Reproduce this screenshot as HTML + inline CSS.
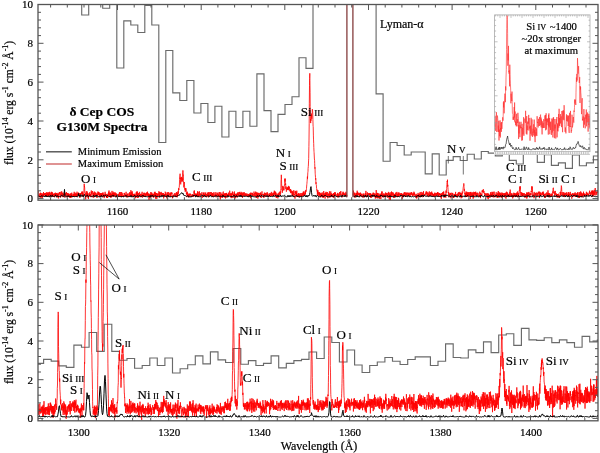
<!DOCTYPE html>
<html><head><meta charset="utf-8"><style>
html,body{margin:0;padding:0;background:#fff;}
svg{display:block;will-change:transform;}
text{font-family:"Liberation Serif",serif;fill:#000;stroke:#000;stroke-width:0.2px;}
</style></head><body>
<svg width="600" height="453" viewBox="0 0 600 453">
<defs>
<clipPath id="ct"><rect x="38" y="4.5" width="560" height="195.7"/></clipPath>
<clipPath id="cb"><rect x="38" y="225" width="560" height="195.8"/></clipPath>
<clipPath id="ci"><rect x="494.6" y="14.9" width="95.4" height="136.8"/></clipPath>
</defs>
<g clip-path="url(#ct)" fill="none">
<path d="M38 -20 L81.7 -20 L81.7 15 L88.7 15 L88.7 -20 L102.7 -20 L102.7 8.2 L109.7 8.2 L109.7 -20 L116.8 -20 L116.8 68 L123.8 68 L123.8 20.8 L130.8 20.8 L130.8 25 L137.8 25 L137.8 32.5 L144.8 32.5 L144.8 5.5 L151.8 5.5 L151.8 25 L158.8 25 L158.8 142.5 L165.8 142.5 L165.8 50.5 L172.8 50.5 L172.8 92.8 L179.8 92.8 L179.8 100.5 L186.8 100.5 L186.8 80.5 L193.9 80.5 L193.9 113 L200.9 113 L200.9 103.5 L207.9 103.5 L207.9 122.5 L214.9 122.5 L214.9 106.2 L221.9 106.2 L221.9 137 L228.9 137 L228.9 111.2 L235.9 111.2 L235.9 127.5 L242.9 127.5 L242.9 111.2 L249.9 111.2 L249.9 126.2 L256.9 126.2 L256.9 73.8 L264 73.8 L264 110.6 L271 110.6 L271 131.6 L278 131.6 L278 114.4 L285 114.4 L285 104.5 L292 104.5 L292 96.7 L299 96.7 L299 57.7 L306 57.7 L306 68.3 L313 68.3 L313 -20 L376.1 -20 L376.1 93.8 L383.1 93.8 L383.1 161.2 L390.1 161.2 L390.1 142.5 L397.1 142.5 L397.1 145.5 L404.2 145.5 L404.2 155 L411.2 155 L411.2 152 L425.2 152 L425.2 173.8 L432.2 173.8 L432.2 153.8 L439.2 153.8 L439.2 175 L446.2 175 L446.2 160.3 L453.2 160.3 L453.2 156.6 L460.2 156.6 L460.2 160.5 L467.2 160.5 L467.2 154.2 L474.3 154.2 L474.3 159 L481.3 159 L481.3 151.5 L488.3 151.5 L488.3 153.1 L495.3 153.1 L495.3 155.8 L502.3 155.8 L502.3 154.5 L509.3 154.5 L509.3 160.4 L516.3 160.4 L516.3 164 L523.3 164 L523.3 154.3 L530.3 154.3 L530.3 154.5 L537.3 154.5 L537.3 162.4 L544.4 162.4 L544.4 154.7 L551.4 154.7 L551.4 165.3 L558.4 165.3 L558.4 162.9 L565.4 162.9 L565.4 168.4 L572.4 168.4 L572.4 155 L579.4 155 L579.4 165.7 L586.4 165.7 L586.4 162.9 L593.4 162.9 L593.4 156 L598 156" stroke="#6a6a6a" stroke-width="1.15"/>
<path d="M38.0 193.3 L38.1 190.8 L38.3 195.1 L38.4 196.0 L38.6 196.4 L38.7 195.0 L38.9 194.4 L39.0 197.4 L39.2 195.4 L39.3 195.5 L39.5 196.4 L39.6 196.1 L39.8 196.8 L39.9 193.3 L40.1 194.8 L40.2 195.0 L40.4 192.8 L40.5 192.7 L40.7 194.4 L40.8 197.8 L41.0 193.0 L41.1 194.3 L41.3 194.3 L41.4 195.3 L41.6 196.9 L41.7 197.4 L41.9 194.4 L42.0 193.3 L42.2 196.1 L42.3 197.9 L42.5 196.0 L42.6 193.8 L42.8 195.5 L42.9 194.9 L43.1 195.9 L43.2 194.0 L43.4 194.5 L43.5 192.0 L43.7 196.2 L43.8 194.2 L44.0 195.8 L44.1 196.0 L44.3 193.2 L44.4 193.0 L44.6 195.0 L44.7 194.0 L44.9 194.0 L45.0 194.4 L45.2 193.3 L45.3 195.1 L45.5 192.9 L45.6 194.2 L45.8 193.9 L45.9 194.7 L46.1 196.0 L46.2 195.2 L46.4 196.3 L46.5 192.3 L46.7 193.0 L46.8 196.3 L47.0 194.4 L47.1 195.4 L47.3 192.7 L47.4 195.8 L47.6 196.8 L47.7 193.0 L47.9 192.5 L48.0 195.3 L48.2 192.8 L48.3 195.6 L48.5 193.7 L48.6 195.8 L48.8 195.3 L48.9 192.3 L49.1 193.9 L49.2 194.3 L49.4 193.9 L49.5 194.9 L49.7 191.8 L49.8 195.3 L50.0 195.2 L50.1 192.8 L50.3 197.0 L50.4 195.4 L50.6 196.2 L50.7 195.0 L50.9 193.6 L51.0 194.3 L51.2 193.2 L51.3 192.2 L51.5 196.1 L51.6 191.8 L51.8 193.2 L51.9 194.7 L52.1 193.5 L52.2 195.4 L52.4 192.3 L52.5 197.0 L52.7 196.0 L52.8 195.6 L53.0 193.8 L53.1 194.0 L53.3 195.2 L53.4 194.3 L53.6 193.7 L53.7 195.5 L53.9 194.1 L54.0 196.3 L54.2 195.2 L54.3 193.6 L54.5 197.2 L54.6 196.4 L54.8 195.4 L54.9 193.0 L55.1 193.0 L55.2 194.4 L55.4 192.7 L55.5 193.7 L55.7 195.4 L55.8 194.9 L56.0 196.4 L56.1 193.5 L56.3 195.7 L56.4 194.8 L56.6 193.0 L56.7 195.2 L56.9 195.0 L57.0 197.4 L57.2 192.9 L57.3 196.0 L57.5 194.2 L57.6 195.7 L57.8 196.8 L57.9 196.5 L58.1 196.2 L58.2 197.3 L58.4 198.4 L58.5 193.5 L58.7 195.5 L58.8 193.6 L59.0 195.5 L59.1 194.8 L59.3 192.2 L59.4 193.8 L59.6 192.2 L59.7 193.5 L59.9 192.4 L60.0 193.9 L60.2 194.0 L60.3 197.5 L60.5 195.0 L60.6 193.7 L60.8 193.4 L60.9 191.8 L61.1 194.6 L61.2 193.5 L61.4 193.9 L61.5 193.3 L61.7 191.3 L61.8 195.1 L62.0 196.3 L62.1 193.5 L62.3 197.1 L62.4 194.8 L62.6 193.2 L62.7 193.1 L62.9 195.0 L63.0 192.4 L63.2 193.8 L63.3 195.2 L63.5 194.1 L63.6 195.4 L63.8 194.8 L63.9 195.3 L64.1 195.1 L64.2 197.1 L64.4 197.5 L64.5 195.8 L64.7 195.4 L64.8 194.9 L65.0 193.4 L65.1 195.0 L65.3 193.4 L65.4 194.5 L65.6 196.0 L65.7 194.0 L65.9 194.0 L66.0 194.2 L66.2 192.4 L66.3 193.6 L66.5 192.2 L66.6 193.6 L66.8 195.3 L66.9 197.4 L67.1 193.1 L67.2 194.9 L67.4 194.6 L67.5 193.2 L67.7 193.9 L67.8 197.0 L68.0 193.2 L68.1 195.4 L68.3 194.3 L68.4 196.5 L68.6 195.0 L68.7 193.6 L68.9 197.1 L69.0 194.8 L69.2 194.0 L69.3 193.9 L69.5 197.0 L69.6 197.4 L69.8 195.5 L69.9 195.2 L70.1 197.8 L70.2 194.1 L70.4 196.0 L70.5 197.4 L70.7 193.8 L70.9 197.8 L71.0 193.0 L71.2 197.3 L71.3 194.8 L71.5 196.7 L71.6 195.2 L71.8 192.7 L71.9 193.2 L72.1 195.7 L72.2 197.2 L72.4 197.1 L72.5 195.7 L72.7 195.6 L72.8 194.4 L73.0 196.2 L73.1 196.6 L73.3 197.0 L73.4 195.8 L73.6 193.8 L73.7 197.0 L73.9 195.2 L74.0 196.4 L74.2 191.8 L74.3 196.1 L74.5 193.9 L74.6 195.5 L74.8 194.9 L74.9 195.2 L75.1 195.7 L75.2 192.7 L75.4 196.5 L75.5 193.9 L75.7 194.4 L75.8 196.9 L76.0 193.6 L76.1 193.1 L76.3 193.5 L76.4 194.7 L76.6 196.6 L76.7 193.9 L76.9 197.1 L77.0 191.7 L77.2 194.0 L77.3 195.4 L77.5 194.6 L77.6 193.4 L77.8 194.2 L77.9 194.4 L78.1 195.1 L78.2 196.0 L78.4 194.6 L78.5 192.6 L78.7 194.2 L78.8 193.3 L79.0 195.1 L79.1 193.1 L79.3 195.1 L79.4 193.8 L79.6 196.3 L79.7 195.6 L79.9 197.9 L80.0 194.7 L80.2 196.4 L80.3 193.7 L80.5 193.0 L80.6 196.0 L80.8 194.4 L80.9 194.1 L81.1 193.5 L81.2 194.1 L81.4 192.9 L81.5 193.7 L81.7 193.5 L81.8 191.8 L82.0 194.2 L82.1 191.6 L82.3 194.3 L82.4 193.3 L82.6 195.5 L82.7 191.7 L82.9 196.8 L83.0 194.8 L83.2 193.7 L83.3 194.8 L83.5 196.1 L83.6 193.5 L83.8 192.8 L83.9 190.7 L84.1 187.0 L84.2 183.8 L84.4 187.1 L84.5 186.4 L84.7 188.0 L84.8 193.3 L85.0 193.5 L85.1 192.9 L85.3 193.2 L85.4 192.8 L85.6 196.6 L85.7 199.4 L85.9 194.5 L86.0 195.5 L86.2 194.9 L86.3 191.1 L86.5 195.8 L86.6 194.7 L86.8 193.7 L86.9 196.3 L87.1 194.9 L87.2 191.5 L87.4 195.2 L87.5 192.9 L87.7 194.0 L87.8 197.5 L88.0 195.5 L88.1 195.8 L88.3 195.7 L88.4 199.1 L88.6 195.7 L88.7 196.1 L88.9 193.3 L89.0 194.8 L89.2 194.4 L89.3 194.0 L89.5 195.7 L89.6 192.8 L89.8 192.2 L89.9 194.7 L90.1 194.0 L90.2 196.0 L90.4 194.0 L90.5 196.5 L90.7 194.3 L90.8 195.4 L91.0 197.2 L91.1 194.2 L91.3 190.5 L91.4 193.8 L91.6 192.2 L91.7 194.4 L91.9 194.6 L92.0 194.0 L92.2 193.8 L92.3 192.0 L92.5 192.0 L92.6 191.0 L92.8 194.1 L92.9 195.4 L93.1 197.5 L93.2 196.5 L93.4 193.0 L93.5 197.4 L93.7 194.1 L93.8 192.5 L94.0 194.6 L94.1 193.9 L94.3 196.6 L94.4 191.6 L94.6 192.8 L94.7 193.1 L94.9 196.4 L95.0 193.8 L95.2 194.2 L95.3 193.5 L95.5 194.2 L95.6 192.4 L95.8 192.5 L95.9 194.7 L96.1 193.6 L96.2 195.5 L96.4 194.9 L96.5 195.4 L96.7 194.3 L96.8 195.1 L97.0 198.0 L97.1 193.4 L97.3 195.6 L97.4 195.0 L97.6 195.4 L97.7 194.1 L97.9 191.5 L98.0 191.8 L98.2 194.7 L98.3 192.0 L98.5 192.1 L98.6 194.1 L98.8 194.8 L98.9 192.0 L99.1 195.4 L99.2 192.9 L99.4 196.1 L99.5 194.3 L99.7 197.3 L99.8 197.1 L100.0 194.9 L100.1 193.5 L100.3 194.2 L100.4 193.2 L100.6 196.7 L100.7 193.6 L100.9 196.9 L101.0 195.1 L101.2 193.2 L101.3 195.3 L101.5 195.9 L101.6 193.3 L101.8 195.7 L101.9 195.7 L102.1 193.8 L102.2 196.7 L102.4 195.2 L102.5 192.9 L102.7 194.7 L102.8 194.8 L103.0 192.4 L103.1 195.4 L103.3 195.8 L103.4 196.9 L103.6 196.4 L103.7 193.7 L103.9 194.6 L104.0 195.8 L104.2 198.1 L104.3 195.1 L104.5 195.6 L104.6 194.6 L104.8 194.8 L104.9 196.7 L105.1 191.8 L105.2 195.0 L105.4 195.4 L105.5 196.2 L105.7 193.7 L105.8 194.3 L106.0 195.8 L106.1 194.1 L106.3 194.8 L106.4 195.7 L106.6 195.9 L106.7 197.7 L106.9 194.2 L107.0 198.0 L107.2 196.1 L107.3 195.8 L107.5 196.4 L107.6 198.0 L107.8 194.6 L107.9 193.7 L108.1 194.7 L108.2 195.7 L108.4 195.9 L108.5 195.3 L108.7 191.8 L108.8 196.5 L109.0 190.5 L109.1 194.8 L109.3 193.5 L109.4 195.6 L109.6 196.6 L109.7 194.2 L109.9 195.0 L110.0 192.6 L110.2 197.0 L110.3 192.7 L110.5 194.8 L110.6 196.2 L110.8 194.4 L110.9 198.0 L111.1 195.1 L111.2 195.1 L111.4 194.9 L111.5 194.0 L111.7 194.7 L111.8 196.0 L112.0 190.9 L112.1 196.9 L112.3 192.9 L112.4 193.5 L112.6 195.3 L112.7 193.5 L112.9 193.7 L113.0 196.5 L113.2 191.7 L113.3 194.9 L113.5 193.3 L113.6 196.8 L113.8 193.5 L113.9 195.5 L114.1 192.7 L114.2 193.3 L114.4 195.5 L114.5 192.6 L114.7 193.3 L114.8 195.4 L115.0 196.1 L115.1 195.0 L115.3 192.5 L115.4 192.6 L115.6 193.7 L115.7 196.4 L115.9 195.2 L116.0 193.1 L116.2 196.9 L116.3 194.5 L116.5 197.1 L116.6 193.9 L116.8 195.4 L116.9 195.2 L117.1 196.8 L117.2 195.7 L117.4 198.3 L117.5 194.9 L117.7 196.2 L117.8 194.5 L118.0 196.8 L118.1 196.6 L118.3 193.8 L118.4 196.8 L118.6 194.9 L118.7 195.9 L118.9 194.4 L119.0 196.1 L119.2 197.0 L119.3 192.7 L119.5 192.4 L119.6 194.2 L119.8 192.1 L119.9 194.9 L120.1 196.7 L120.2 194.6 L120.4 194.6 L120.5 194.7 L120.7 195.3 L120.8 192.0 L121.0 196.6 L121.1 195.2 L121.3 194.5 L121.4 197.3 L121.6 196.8 L121.7 192.1 L121.9 195.6 L122.0 196.8 L122.2 195.5 L122.3 194.4 L122.5 193.5 L122.6 194.4 L122.8 196.7 L122.9 196.3 L123.1 195.9 L123.2 196.4 L123.4 196.3 L123.5 195.0 L123.7 197.0 L123.8 195.7 L124.0 194.9 L124.1 193.2 L124.3 193.8 L124.4 192.9 L124.6 195.5 L124.7 195.5 L124.9 196.2 L125.0 194.1 L125.2 194.0 L125.3 194.6 L125.5 196.7 L125.6 195.4 L125.8 195.6 L125.9 195.4 L126.1 191.8 L126.2 195.4 L126.4 196.2 L126.5 195.4 L126.7 196.2 L126.8 194.5 L127.0 195.5 L127.1 197.7 L127.3 194.5 L127.4 194.3 L127.6 195.8 L127.7 194.0 L127.9 194.8 L128.0 193.1 L128.2 193.8 L128.3 195.4 L128.5 195.6 L128.6 195.5 L128.8 197.0 L128.9 195.6 L129.1 195.3 L129.2 195.3 L129.4 196.6 L129.5 194.9 L129.7 192.5 L129.8 195.7 L130.0 192.1 L130.1 193.3 L130.3 194.8 L130.4 196.4 L130.6 194.6 L130.7 195.4 L130.9 190.2 L131.0 192.0 L131.2 194.5 L131.3 193.9 L131.5 196.4 L131.6 191.8 L131.8 194.0 L131.9 193.5 L132.1 196.4 L132.2 191.3 L132.4 193.6 L132.5 196.0 L132.7 193.7 L132.8 194.2 L133.0 197.1 L133.1 195.8 L133.3 193.9 L133.4 196.7 L133.6 195.2 L133.7 195.6 L133.9 195.0 L134.0 196.7 L134.2 195.0 L134.3 194.3 L134.5 196.0 L134.6 195.2 L134.8 193.7 L134.9 194.2 L135.1 195.4 L135.2 195.7 L135.4 196.1 L135.5 198.2 L135.7 194.8 L135.8 197.9 L136.0 193.8 L136.1 192.5 L136.3 193.0 L136.4 196.0 L136.6 191.7 L136.7 194.1 L136.9 192.5 L137.0 192.6 L137.2 196.1 L137.3 191.4 L137.5 194.8 L137.6 194.8 L137.8 198.0 L137.9 193.4 L138.1 197.7 L138.2 193.9 L138.4 193.0 L138.5 194.5 L138.7 195.2 L138.8 194.6 L139.0 196.1 L139.1 194.2 L139.3 194.1 L139.4 192.4 L139.6 191.9 L139.7 195.4 L139.9 195.4 L140.0 194.7 L140.2 195.8 L140.3 197.2 L140.5 194.1 L140.6 195.1 L140.8 195.8 L140.9 193.8 L141.1 194.0 L141.2 194.3 L141.4 193.8 L141.5 196.5 L141.7 195.1 L141.8 196.0 L142.0 195.4 L142.1 191.8 L142.3 197.7 L142.4 195.1 L142.6 195.6 L142.7 194.8 L142.9 196.1 L143.0 195.3 L143.2 194.1 L143.3 194.1 L143.5 196.7 L143.6 195.6 L143.8 192.8 L143.9 193.7 L144.1 192.9 L144.2 194.7 L144.4 196.5 L144.5 195.2 L144.7 194.8 L144.8 192.8 L145.0 195.4 L145.1 194.3 L145.3 193.6 L145.4 197.0 L145.6 195.2 L145.7 193.7 L145.9 195.2 L146.0 195.0 L146.2 196.0 L146.3 195.7 L146.5 194.7 L146.6 192.5 L146.8 195.2 L146.9 192.7 L147.1 194.4 L147.2 193.6 L147.4 195.8 L147.5 191.7 L147.7 194.5 L147.8 194.9 L148.0 194.8 L148.1 195.7 L148.3 196.4 L148.4 193.5 L148.6 196.3 L148.7 194.0 L148.9 193.5 L149.0 200.2 L149.2 195.1 L149.3 197.6 L149.5 195.3 L149.6 194.7 L149.8 194.0 L149.9 196.2 L150.1 194.4 L150.2 197.8 L150.4 197.9 L150.5 195.1 L150.7 194.5 L150.8 192.0 L151.0 197.0 L151.1 193.7 L151.3 196.7 L151.4 193.6 L151.6 195.0 L151.7 192.5 L151.9 194.8 L152.0 195.5 L152.2 194.1 L152.3 193.7 L152.5 193.7 L152.6 197.1 L152.8 195.5 L152.9 194.0 L153.1 194.5 L153.2 195.8 L153.4 195.2 L153.5 194.1 L153.7 197.6 L153.8 195.4 L154.0 194.1 L154.1 193.4 L154.3 195.2 L154.4 191.9 L154.6 196.0 L154.7 196.1 L154.9 196.1 L155.0 196.5 L155.2 191.8 L155.3 196.3 L155.5 193.1 L155.6 198.7 L155.8 194.9 L155.9 194.6 L156.1 196.1 L156.2 193.3 L156.4 193.9 L156.5 193.0 L156.7 196.5 L156.8 198.9 L157.0 195.3 L157.1 196.0 L157.3 196.9 L157.4 194.1 L157.6 196.5 L157.7 193.4 L157.9 193.2 L158.0 194.0 L158.2 193.8 L158.3 194.9 L158.5 195.4 L158.6 195.8 L158.8 195.2 L158.9 191.2 L159.1 196.2 L159.2 193.7 L159.4 197.7 L159.5 192.1 L159.7 193.0 L159.8 193.6 L160.0 192.5 L160.1 194.8 L160.3 194.2 L160.4 192.9 L160.6 192.7 L160.7 193.4 L160.9 194.3 L161.0 196.3 L161.2 191.9 L161.3 194.3 L161.5 195.1 L161.6 195.8 L161.8 194.3 L161.9 192.9 L162.1 195.5 L162.2 195.1 L162.4 194.0 L162.5 195.6 L162.7 193.2 L162.8 194.2 L163.0 193.6 L163.1 193.9 L163.3 193.0 L163.4 196.6 L163.6 194.7 L163.7 198.4 L163.9 194.0 L164.0 195.1 L164.2 195.7 L164.3 194.8 L164.5 194.2 L164.6 196.0 L164.8 196.3 L164.9 197.0 L165.1 194.7 L165.2 191.7 L165.4 191.9 L165.5 195.5 L165.7 194.1 L165.8 196.1 L166.0 193.9 L166.1 193.5 L166.3 194.1 L166.4 194.4 L166.6 194.9 L166.7 196.8 L166.9 198.4 L167.0 196.8 L167.2 192.1 L167.3 195.6 L167.5 196.3 L167.6 193.2 L167.8 194.4 L167.9 194.6 L168.1 194.7 L168.2 194.8 L168.4 192.1 L168.5 196.1 L168.7 197.0 L168.8 196.3 L169.0 197.1 L169.1 195.9 L169.3 194.0 L169.4 193.6 L169.6 193.4 L169.7 194.2 L169.9 195.5 L170.0 195.8 L170.2 192.4 L170.3 195.3 L170.5 196.8 L170.6 193.1 L170.8 193.8 L170.9 196.5 L171.1 194.7 L171.2 194.2 L171.4 192.7 L171.5 194.0 L171.7 192.4 L171.8 194.1 L172.0 192.8 L172.1 195.6 L172.3 196.9 L172.4 198.3 L172.6 195.7 L172.7 197.9 L172.9 196.4 L173.0 195.4 L173.2 195.0 L173.3 195.4 L173.5 195.3 L173.6 196.1 L173.8 195.8 L173.9 194.0 L174.1 194.0 L174.2 193.9 L174.4 194.1 L174.5 194.4 L174.7 193.2 L174.8 195.6 L175.0 196.6 L175.1 194.4 L175.3 196.0 L175.4 195.0 L175.6 196.8 L175.7 197.1 L175.9 195.3 L176.0 193.0 L176.2 197.0 L176.3 192.6 L176.5 193.5 L176.6 192.0 L176.8 192.9 L176.9 193.7 L177.1 197.3 L177.2 193.2 L177.4 192.7 L177.5 196.5 L177.7 193.3 L177.8 195.8 L178.0 194.8 L178.1 191.1 L178.3 193.7 L178.4 191.6 L178.6 188.2 L178.7 188.9 L178.9 190.1 L179.0 188.2 L179.2 187.4 L179.3 187.0 L179.5 182.0 L179.6 179.4 L179.8 176.4 L179.9 176.4 L180.1 173.7 L180.2 179.2 L180.4 177.6 L180.5 183.3 L180.7 184.3 L180.8 184.4 L181.0 179.4 L181.1 178.7 L181.3 178.9 L181.4 176.9 L181.6 180.2 L181.7 179.7 L181.9 181.3 L182.0 182.1 L182.2 177.8 L182.3 181.1 L182.5 178.6 L182.6 172.8 L182.8 170.4 L182.9 170.4 L183.1 170.5 L183.2 175.3 L183.4 174.8 L183.5 180.6 L183.7 184.1 L183.8 187.4 L184.0 186.1 L184.1 184.3 L184.3 182.0 L184.4 186.0 L184.6 186.4 L184.7 189.5 L184.9 188.5 L185.0 189.2 L185.2 191.8 L185.3 191.2 L185.5 188.1 L185.6 190.3 L185.8 190.7 L185.9 188.2 L186.1 189.6 L186.2 190.0 L186.4 194.0 L186.5 192.7 L186.7 194.4 L186.8 193.0 L187.0 195.8 L187.1 197.1 L187.3 191.7 L187.4 193.5 L187.6 192.9 L187.7 194.5 L187.9 193.4 L188.0 193.9 L188.2 196.2 L188.3 196.4 L188.5 194.6 L188.6 197.4 L188.8 194.8 L188.9 194.5 L189.1 196.1 L189.2 194.4 L189.4 194.9 L189.5 194.2 L189.7 193.6 L189.8 196.9 L190.0 193.9 L190.1 194.4 L190.3 193.7 L190.4 195.2 L190.6 195.0 L190.7 194.5 L190.9 194.3 L191.0 197.1 L191.2 196.2 L191.3 196.1 L191.5 196.6 L191.6 195.6 L191.8 195.0 L191.9 195.4 L192.1 194.7 L192.2 195.6 L192.4 194.3 L192.5 196.0 L192.7 194.5 L192.8 196.1 L193.0 196.7 L193.1 196.0 L193.3 195.3 L193.4 194.9 L193.6 197.0 L193.7 194.9 L193.9 196.0 L194.0 191.4 L194.2 193.6 L194.3 190.4 L194.5 193.6 L194.6 194.7 L194.8 193.2 L194.9 195.6 L195.1 195.0 L195.2 196.3 L195.4 195.0 L195.5 193.7 L195.7 196.0 L195.8 196.3 L196.0 194.2 L196.1 196.4 L196.3 195.0 L196.4 193.8 L196.6 195.9 L196.7 193.7 L196.9 196.3 L197.0 194.4 L197.2 194.0 L197.3 196.6 L197.5 191.3 L197.6 194.7 L197.8 194.3 L197.9 196.3 L198.1 195.8 L198.2 191.8 L198.4 197.1 L198.5 195.0 L198.7 197.1 L198.8 194.9 L199.0 195.2 L199.1 194.4 L199.3 194.5 L199.4 191.3 L199.6 196.0 L199.7 195.9 L199.9 194.1 L200.0 193.3 L200.2 193.8 L200.3 195.1 L200.5 195.7 L200.6 196.8 L200.8 193.5 L200.9 194.8 L201.1 195.3 L201.2 194.1 L201.4 195.0 L201.5 196.1 L201.7 197.1 L201.8 192.4 L202.0 192.1 L202.1 195.7 L202.3 196.1 L202.4 197.7 L202.6 195.5 L202.7 196.7 L202.9 197.0 L203.0 195.1 L203.2 193.6 L203.3 195.1 L203.5 195.4 L203.6 193.0 L203.8 195.5 L203.9 192.2 L204.1 193.5 L204.2 194.1 L204.4 194.6 L204.5 195.1 L204.7 195.0 L204.8 195.4 L205.0 193.7 L205.1 197.1 L205.3 196.0 L205.4 192.5 L205.6 194.7 L205.7 194.9 L205.9 196.2 L206.0 194.6 L206.2 196.5 L206.3 195.2 L206.5 194.7 L206.6 194.4 L206.8 195.2 L206.9 194.4 L207.1 196.2 L207.2 192.6 L207.4 194.3 L207.5 194.6 L207.7 196.3 L207.8 193.8 L208.0 192.7 L208.1 194.9 L208.3 194.7 L208.4 197.4 L208.6 195.1 L208.7 192.2 L208.9 195.3 L209.0 195.7 L209.2 192.3 L209.3 194.3 L209.5 194.9 L209.6 195.7 L209.8 195.3 L209.9 194.7 L210.1 193.3 L210.2 192.3 L210.4 192.0 L210.5 195.4 L210.7 195.8 L210.8 194.9 L211.0 195.3 L211.1 196.2 L211.3 192.0 L211.4 196.2 L211.6 194.4 L211.7 194.4 L211.9 194.5 L212.0 195.5 L212.2 192.9 L212.3 195.7 L212.5 196.5 L212.6 193.1 L212.8 197.1 L212.9 195.9 L213.1 194.3 L213.2 197.0 L213.4 195.6 L213.5 194.2 L213.7 192.3 L213.8 192.6 L214.0 192.9 L214.1 196.2 L214.3 195.8 L214.4 195.2 L214.6 194.8 L214.7 196.3 L214.9 195.9 L215.0 195.7 L215.2 192.2 L215.3 195.9 L215.5 195.0 L215.6 194.7 L215.8 195.2 L215.9 194.2 L216.1 194.7 L216.2 197.3 L216.4 194.0 L216.5 193.4 L216.7 192.8 L216.8 192.5 L217.0 193.2 L217.1 193.9 L217.3 193.9 L217.4 196.0 L217.6 194.7 L217.7 192.9 L217.9 192.8 L218.0 196.0 L218.2 194.2 L218.3 195.5 L218.5 194.9 L218.6 195.1 L218.8 196.7 L218.9 194.8 L219.1 192.2 L219.2 195.4 L219.4 195.0 L219.5 197.1 L219.7 194.6 L219.8 192.0 L220.0 192.8 L220.1 194.8 L220.3 199.5 L220.4 195.7 L220.6 195.4 L220.7 197.7 L220.9 192.5 L221.0 197.6 L221.2 195.6 L221.3 194.8 L221.5 195.2 L221.6 194.5 L221.8 194.2 L221.9 196.4 L222.1 193.7 L222.2 194.8 L222.4 194.1 L222.5 197.8 L222.7 194.3 L222.8 197.0 L223.0 192.4 L223.1 192.6 L223.3 191.6 L223.4 196.2 L223.6 195.8 L223.7 194.9 L223.9 194.1 L224.0 195.3 L224.2 193.5 L224.3 197.1 L224.5 193.6 L224.6 194.5 L224.8 195.2 L224.9 197.7 L225.1 194.1 L225.2 196.3 L225.4 193.3 L225.5 198.4 L225.7 193.3 L225.8 194.4 L226.0 195.8 L226.1 195.1 L226.3 193.5 L226.4 195.3 L226.6 192.9 L226.7 196.1 L226.9 195.5 L227.0 197.7 L227.2 194.3 L227.3 195.6 L227.5 195.0 L227.6 194.3 L227.8 194.2 L227.9 194.3 L228.1 196.7 L228.2 195.0 L228.4 192.6 L228.5 195.2 L228.7 193.4 L228.8 194.4 L229.0 195.1 L229.1 194.6 L229.3 194.8 L229.4 195.9 L229.6 194.8 L229.7 190.7 L229.9 194.5 L230.0 196.1 L230.2 193.6 L230.3 195.4 L230.5 195.4 L230.6 195.4 L230.8 193.2 L230.9 193.8 L231.1 198.1 L231.2 194.7 L231.4 193.4 L231.5 195.8 L231.7 194.6 L231.8 196.4 L232.0 198.1 L232.1 192.8 L232.3 195.1 L232.4 191.5 L232.6 193.0 L232.7 193.4 L232.9 192.3 L233.0 193.3 L233.2 194.7 L233.3 194.1 L233.5 195.7 L233.6 197.5 L233.8 193.9 L233.9 195.1 L234.1 194.7 L234.2 193.7 L234.4 191.5 L234.5 195.7 L234.7 193.1 L234.8 197.9 L235.0 194.0 L235.1 194.3 L235.3 195.0 L235.4 198.3 L235.6 194.2 L235.7 194.2 L235.9 195.6 L236.0 196.7 L236.2 197.2 L236.3 193.7 L236.5 196.2 L236.6 194.3 L236.8 194.1 L236.9 193.7 L237.1 195.9 L237.2 197.4 L237.4 194.0 L237.5 193.3 L237.7 195.4 L237.8 192.3 L238.0 195.1 L238.1 195.5 L238.3 196.3 L238.4 195.3 L238.6 193.7 L238.7 195.3 L238.9 192.1 L239.0 194.0 L239.2 193.9 L239.3 193.6 L239.5 191.9 L239.6 194.1 L239.8 196.5 L239.9 194.9 L240.1 194.5 L240.2 192.7 L240.4 192.9 L240.5 196.1 L240.7 194.8 L240.8 192.8 L241.0 194.8 L241.1 191.8 L241.3 192.1 L241.4 196.4 L241.6 193.3 L241.7 195.2 L241.9 196.7 L242.0 195.6 L242.2 194.5 L242.3 193.4 L242.5 197.8 L242.6 196.1 L242.8 192.4 L242.9 195.3 L243.1 194.1 L243.2 194.5 L243.4 194.6 L243.5 192.9 L243.7 192.9 L243.8 195.4 L244.0 196.3 L244.1 192.0 L244.3 194.4 L244.4 194.8 L244.6 196.0 L244.7 196.1 L244.9 193.5 L245.0 194.5 L245.2 193.3 L245.3 196.1 L245.5 194.1 L245.6 194.4 L245.8 193.7 L245.9 196.0 L246.1 194.7 L246.2 195.6 L246.4 193.6 L246.5 193.6 L246.7 194.3 L246.8 195.4 L247.0 195.7 L247.1 196.1 L247.3 193.7 L247.4 196.2 L247.6 195.5 L247.7 196.6 L247.9 195.8 L248.0 196.9 L248.2 194.4 L248.3 194.8 L248.5 195.6 L248.6 194.2 L248.8 195.1 L248.9 195.4 L249.1 193.9 L249.2 194.7 L249.4 194.2 L249.5 195.2 L249.7 197.1 L249.8 196.0 L250.0 193.2 L250.1 194.4 L250.3 195.8 L250.4 193.5 L250.6 198.2 L250.7 194.1 L250.9 192.5 L251.0 194.4 L251.2 194.3 L251.3 193.7 L251.5 193.1 L251.6 193.3 L251.8 195.3 L251.9 195.6 L252.1 195.4 L252.2 192.8 L252.4 195.7 L252.5 193.1 L252.7 193.9 L252.8 195.2 L253.0 194.3 L253.1 194.1 L253.3 194.9 L253.4 195.3 L253.6 196.3 L253.7 195.4 L253.9 195.5 L254.0 191.6 L254.2 195.6 L254.3 194.1 L254.5 193.2 L254.6 194.5 L254.8 196.2 L254.9 196.1 L255.1 194.9 L255.2 196.2 L255.4 193.6 L255.5 193.8 L255.7 191.6 L255.8 194.1 L256.0 192.9 L256.1 197.5 L256.3 192.2 L256.4 192.5 L256.6 197.7 L256.7 196.6 L256.9 193.6 L257.0 194.9 L257.2 195.7 L257.3 192.9 L257.5 193.6 L257.6 197.2 L257.8 192.5 L257.9 198.6 L258.1 194.8 L258.2 195.8 L258.4 193.8 L258.5 193.3 L258.7 193.9 L258.8 193.1 L259.0 196.6 L259.1 193.2 L259.3 194.3 L259.4 194.4 L259.6 194.4 L259.7 194.2 L259.9 195.0 L260.0 195.2 L260.2 192.8 L260.3 194.0 L260.5 192.6 L260.6 195.1 L260.8 195.3 L260.9 193.6 L261.1 197.5 L261.2 194.3 L261.4 195.2 L261.5 197.4 L261.7 197.5 L261.8 193.0 L262.0 191.4 L262.1 193.7 L262.3 195.1 L262.4 194.3 L262.6 194.1 L262.7 194.3 L262.9 194.8 L263.0 194.9 L263.2 194.6 L263.3 195.0 L263.5 194.8 L263.6 196.6 L263.8 193.9 L263.9 197.8 L264.1 196.2 L264.2 195.0 L264.4 192.6 L264.5 194.4 L264.7 196.2 L264.8 195.4 L265.0 195.7 L265.1 193.2 L265.3 194.7 L265.4 193.3 L265.6 196.3 L265.7 195.7 L265.9 195.9 L266.0 196.7 L266.2 195.0 L266.3 192.6 L266.5 193.3 L266.6 194.8 L266.8 194.8 L266.9 194.4 L267.1 195.3 L267.2 195.1 L267.4 192.3 L267.5 192.7 L267.7 195.1 L267.8 195.9 L268.0 193.6 L268.1 193.7 L268.3 195.2 L268.4 196.2 L268.6 195.9 L268.7 196.6 L268.9 195.7 L269.0 195.6 L269.2 196.1 L269.3 194.8 L269.5 195.4 L269.6 194.6 L269.8 196.6 L269.9 193.0 L270.1 196.6 L270.2 193.5 L270.4 194.1 L270.5 193.8 L270.7 193.9 L270.8 193.9 L271.0 195.6 L271.1 194.1 L271.3 192.3 L271.4 191.9 L271.6 195.8 L271.7 194.8 L271.9 196.0 L272.0 194.4 L272.2 195.8 L272.3 194.7 L272.5 193.5 L272.6 195.5 L272.8 195.6 L272.9 195.3 L273.1 192.6 L273.2 195.4 L273.4 195.7 L273.5 196.2 L273.7 192.9 L273.8 193.8 L274.0 195.7 L274.1 194.2 L274.3 190.7 L274.4 193.8 L274.6 193.3 L274.7 191.5 L274.9 194.7 L275.0 193.7 L275.2 194.6 L275.3 192.4 L275.5 191.7 L275.6 196.0 L275.8 196.9 L275.9 192.5 L276.1 195.0 L276.2 197.6 L276.4 196.3 L276.5 197.6 L276.7 195.7 L276.8 195.8 L277.0 193.5 L277.1 194.7 L277.3 195.0 L277.4 194.6 L277.6 195.9 L277.7 195.8 L277.9 198.4 L278.0 195.7 L278.2 194.4 L278.3 195.7 L278.5 195.5 L278.6 196.0 L278.8 192.8 L278.9 195.1 L279.1 193.2 L279.2 193.4 L279.4 192.1 L279.5 192.4 L279.7 194.4 L279.8 193.9 L280.0 195.5 L280.1 191.3 L280.3 193.4 L280.4 194.4 L280.6 193.7 L280.7 190.3 L280.9 188.6 L281.0 180.3 L281.2 179.2 L281.3 174.8 L281.5 179.2 L281.6 183.1 L281.8 187.7 L281.9 189.6 L282.1 188.8 L282.2 192.3 L282.4 192.8 L282.5 190.0 L282.7 191.0 L282.8 185.9 L283.0 188.7 L283.1 186.6 L283.3 188.1 L283.4 188.2 L283.6 189.8 L283.7 188.8 L283.9 190.4 L284.0 189.7 L284.2 189.2 L284.3 186.5 L284.5 185.0 L284.6 183.4 L284.8 178.7 L284.9 181.4 L285.1 181.2 L285.2 178.6 L285.4 182.6 L285.5 184.8 L285.7 183.7 L285.8 188.9 L286.0 186.5 L286.1 188.2 L286.3 191.5 L286.4 191.7 L286.6 190.3 L286.7 188.6 L286.9 189.4 L287.0 189.6 L287.2 187.2 L287.3 189.4 L287.5 187.9 L287.6 188.0 L287.8 190.0 L287.9 188.9 L288.1 187.2 L288.2 190.2 L288.4 185.9 L288.5 188.4 L288.7 187.9 L288.8 189.6 L289.0 189.6 L289.1 188.8 L289.3 187.9 L289.4 186.6 L289.6 189.4 L289.7 190.0 L289.9 191.2 L290.0 189.3 L290.2 191.3 L290.3 192.0 L290.5 192.6 L290.6 189.0 L290.8 190.2 L290.9 193.2 L291.1 190.3 L291.2 190.9 L291.4 192.6 L291.5 191.8 L291.7 192.0 L291.8 191.5 L292.0 193.5 L292.1 195.5 L292.3 190.9 L292.4 194.2 L292.6 192.2 L292.7 195.3 L292.9 194.5 L293.0 192.5 L293.2 192.6 L293.3 196.7 L293.5 194.5 L293.6 192.7 L293.8 190.2 L293.9 192.5 L294.1 191.6 L294.2 193.9 L294.4 195.0 L294.5 194.3 L294.7 195.5 L294.8 196.6 L295.0 198.6 L295.1 194.0 L295.3 192.9 L295.4 191.5 L295.6 193.8 L295.7 190.9 L295.9 193.1 L296.0 193.4 L296.2 195.4 L296.3 192.3 L296.5 195.6 L296.6 196.9 L296.8 190.7 L296.9 195.4 L297.1 196.7 L297.2 194.5 L297.4 194.9 L297.5 194.5 L297.7 196.9 L297.8 196.6 L298.0 195.3 L298.1 195.1 L298.3 194.8 L298.4 193.0 L298.6 196.2 L298.7 194.9 L298.9 196.0 L299.0 194.3 L299.2 197.6 L299.3 194.3 L299.5 194.8 L299.6 196.6 L299.8 195.4 L299.9 193.2 L300.1 194.4 L300.2 194.7 L300.4 196.7 L300.5 195.0 L300.7 194.5 L300.8 193.3 L301.0 194.5 L301.1 194.5 L301.3 196.6 L301.4 195.1 L301.6 197.3 L301.7 195.0 L301.9 193.0 L302.0 194.6 L302.2 194.9 L302.3 196.3 L302.4 193.4 L302.6 194.7 L302.7 193.9 L302.9 194.9 L303.0 195.7 L303.2 191.8 L303.3 195.9 L303.5 193.2 L303.6 193.9 L303.8 191.4 L303.9 194.8 L304.1 195.6 L304.2 195.1 L304.4 193.9 L304.5 195.2 L304.7 194.9 L304.8 192.4 L305.0 192.5 L305.1 194.6 L305.3 190.8 L305.4 194.2 L305.6 192.2 L305.7 190.8 L305.9 190.1 L306.0 191.7 L306.2 190.0 L306.3 189.9 L306.5 188.4 L306.6 187.0 L306.8 184.4 L306.9 183.7 L307.1 181.3 L307.2 180.4 L307.4 176.6 L307.5 178.7 L307.7 175.0 L307.8 172.7 L308.0 171.3 L308.1 168.4 L308.3 166.5 L308.4 165.0 L308.6 160.1 L308.7 158.4 L308.9 146.7 L309.0 140.1 L309.2 123.8 L309.3 103.7 L309.5 85.4 L309.6 78.4 L309.8 73.3 L309.9 80.7 L310.1 92.2 L310.2 106.5 L310.4 118.1 L310.5 120.9 L310.7 123.1 L310.8 119.0 L311.0 120.7 L311.1 117.4 L311.3 116.4 L311.4 116.6 L311.6 113.7 L311.7 118.8 L311.9 114.7 L312.0 113.1 L312.2 112.5 L312.3 109.2 L312.5 109.8 L312.6 111.2 L312.8 114.2 L312.9 119.4 L313.1 126.3 L313.2 126.4 L313.4 135.1 L313.5 139.1 L313.7 143.7 L313.8 147.4 L314.0 151.5 L314.1 152.7 L314.3 157.0 L314.4 159.0 L314.6 160.3 L314.7 163.7 L314.9 168.5 L315.0 167.4 L315.2 173.2 L315.3 174.8 L315.5 177.4 L315.6 179.6 L315.8 178.4 L315.9 183.7 L316.1 182.4 L316.2 184.9 L316.4 185.1 L316.5 188.1 L316.7 188.7 L316.8 190.3 L317.0 189.7 L317.1 192.1 L317.3 192.2 L317.4 195.0 L317.6 190.6 L317.7 193.6 L317.9 190.2 L318.0 191.7 L318.2 194.0 L318.3 193.0 L318.5 192.4 L318.6 193.7 L318.8 196.6 L318.9 193.5 L319.1 192.7 L319.2 192.9 L319.4 193.5 L319.5 195.3 L319.7 192.2 L319.8 196.2 L320.0 193.1 L320.1 194.1 L320.3 193.6 L320.4 193.4 L320.6 196.9 L320.7 196.8 L320.9 193.9 L321.0 197.2 L321.2 194.5 L321.3 193.9 L321.5 196.3 L321.6 193.7 L321.8 192.7 L321.9 196.5 L322.1 197.0 L322.2 195.4 L322.4 196.2 L322.5 195.1 L322.7 195.9 L322.8 192.5 L323.0 198.0 L323.1 193.9 L323.3 193.8 L323.4 197.3 L323.6 194.3 L323.7 191.1 L323.9 192.8 L324.0 194.7 L324.2 194.8 L324.3 194.5 L324.5 196.7 L324.6 194.8 L324.8 193.3 L324.9 195.2 L325.1 198.6 L325.2 193.5 L325.4 193.5 L325.5 195.8 L325.7 192.8 L325.8 195.4 L326.0 191.8 L326.1 195.1 L326.3 196.7 L326.4 192.8 L326.6 193.0 L326.7 192.8 L326.9 195.3 L327.0 195.4 L327.2 193.7 L327.3 192.0 L327.5 195.3 L327.6 195.0 L327.8 198.3 L327.9 195.4 L328.1 195.4 L328.2 193.9 L328.4 194.3 L328.5 195.3 L328.7 193.4 L328.8 195.8 L329.0 194.1 L329.1 196.8 L329.3 194.7 L329.4 191.3 L329.6 195.8 L329.7 196.3 L329.9 197.7 L330.0 193.8 L330.2 193.8 L330.3 194.2 L330.5 196.2 L330.6 194.1 L330.8 191.4 L330.9 196.4 L331.1 194.4 L331.2 195.7 L331.4 193.3 L331.5 195.9 L331.7 196.8 L331.8 194.9 L332.0 194.1 L332.1 196.3 L332.3 193.9 L332.4 194.2 L332.6 194.5 L332.7 197.2 L332.9 194.9 L333.0 193.9 L333.2 195.4 L333.3 195.1 L333.5 193.0 L333.6 196.5 L333.8 196.4 L333.9 198.0 L334.1 195.7 L334.2 195.7 L334.4 195.8 L334.5 192.3 L334.7 194.0 L334.8 196.1 L335.0 194.0 L335.1 195.8 L335.3 192.2 L335.4 194.8 L335.6 193.4 L335.7 194.1 L335.9 194.4 L336.0 194.6 L336.2 195.4 L336.3 195.8 L336.5 196.0 L336.6 196.8 L336.8 196.6 L336.9 194.3 L337.1 194.3 L337.2 195.5 L337.4 196.4 L337.5 192.9 L337.7 193.9 L337.8 197.3 L338.0 195.6 L338.1 195.6 L338.3 193.5 L338.4 194.0 L338.6 197.4 L338.7 195.0 L338.9 195.2 L339.0 195.8 L339.2 196.0 L339.3 194.7 L339.5 192.0 L339.6 194.3 L339.8 195.3 L339.9 194.1 L340.1 193.9 L340.2 195.4 L340.4 195.0 L340.5 192.4 L340.7 193.4 L340.8 191.0 L341.0 193.8 L341.1 193.9 L341.3 194.0 L341.4 195.1 L341.6 195.5 L341.7 195.3 L341.9 195.0 L342.0 197.4 L342.2 193.6 L342.3 194.5 L342.5 195.1 L342.6 196.7 L342.8 192.7 L342.9 193.5 L343.1 191.7 L343.2 194.7 L343.4 192.9 L343.5 193.0 L343.7 195.1 L343.8 192.6 L344.0 194.5 L344.1 194.6 L344.3 193.6 L344.4 195.6 L344.6 195.3 L344.7 195.0 L344.9 193.7 L345.0 195.0 L345.2 194.9 L345.3 196.0 L345.5 194.9 L345.6 193.6 L345.8 195.8 L345.9 191.8 L346.1 196.5 L346.2 193.4 L346.4 194.3 L346.5 195.4 L346.7 195.4 L346.8 196.2 L347.0 194.9M353.1 193.5 L353.3 195.3 L353.4 190.6 L353.6 192.2 L353.7 193.3 L353.9 193.8 L354.0 193.6 L354.2 192.6 L354.3 196.5 L354.5 196.8 L354.6 193.1 L354.8 195.2 L354.9 196.0 L355.1 195.7 L355.2 197.7 L355.4 194.7 L355.5 194.5 L355.7 194.8 L355.8 195.3 L356.0 192.8 L356.1 195.0 L356.3 195.6 L356.4 193.0 L356.6 195.1 L356.7 193.0 L356.9 196.2 L357.0 193.8 L357.2 190.7 L357.3 194.6 L357.5 192.2 L357.6 193.3 L357.8 195.3 L357.9 193.2 L358.1 195.1 L358.2 195.3 L358.4 192.7 L358.5 193.2 L358.7 194.2 L358.8 193.9 L359.0 193.8 L359.1 194.9 L359.3 193.7 L359.4 195.7 L359.6 197.0 L359.7 193.1 L359.9 196.3 L360.0 196.2 L360.2 192.6 L360.3 193.5 L360.5 196.2 L360.6 192.9 L360.8 193.6 L360.9 193.3 L361.1 193.8 L361.2 195.9 L361.4 195.9 L361.5 194.0 L361.7 195.7 L361.8 196.0 L362.0 197.1 L362.1 195.3 L362.3 195.4 L362.4 194.5 L362.6 195.1 L362.7 196.1 L362.9 196.3 L363.0 197.3 L363.2 193.4 L363.3 196.1 L363.5 196.3 L363.6 195.4 L363.8 197.6 L363.9 193.9 L364.1 197.0 L364.2 195.9 L364.4 195.7 L364.5 195.8 L364.7 196.3 L364.8 196.3 L365.0 196.6 L365.1 193.6 L365.3 194.3 L365.4 193.1 L365.6 193.6 L365.7 196.6 L365.9 190.9 L366.0 193.1 L366.2 192.9 L366.3 195.0 L366.5 197.0 L366.6 195.3 L366.8 194.9 L366.9 194.9 L367.1 197.1 L367.2 196.3 L367.4 195.9 L367.5 192.4 L367.7 197.0 L367.8 195.7 L368.0 195.8 L368.1 195.0 L368.3 196.2 L368.4 193.3 L368.6 196.3 L368.7 194.6 L368.9 194.6 L369.0 193.4 L369.2 196.9 L369.3 193.7 L369.5 195.0 L369.6 193.9 L369.8 193.0 L369.9 193.0 L370.1 195.5 L370.2 193.6 L370.4 197.1 L370.5 195.2 L370.7 193.3 L370.8 197.9 L371.0 194.1 L371.1 195.3 L371.3 196.1 L371.4 196.1 L371.6 197.6 L371.7 196.5 L371.9 195.1 L372.0 193.9 L372.2 194.3 L372.3 194.2 L372.5 194.0 L372.6 193.8 L372.8 196.4 L372.9 193.6 L373.1 195.3 L373.2 192.6 L373.4 193.7 L373.5 193.6 L373.7 192.9 L373.8 194.3 L374.0 194.3 L374.1 196.7 L374.3 194.9 L374.4 195.8 L374.6 195.1 L374.7 196.5 L374.9 193.1 L375.0 194.9 L375.2 195.0 L375.3 198.6 L375.5 196.0 L375.6 195.1 L375.8 194.1 L375.9 197.2 L376.1 198.2 L376.2 190.1 L376.4 193.8 L376.5 196.5 L376.7 197.5 L376.8 193.5 L377.0 194.5 L377.1 194.2 L377.3 192.9 L377.4 198.1 L377.6 193.1 L377.7 194.6 L377.9 195.5 L378.0 198.5 L378.2 195.1 L378.3 196.7 L378.5 196.8 L378.6 195.8 L378.8 193.2 L378.9 197.2 L379.1 196.2 L379.2 195.7 L379.4 196.3 L379.5 194.8 L379.7 195.5 L379.8 199.0 L380.0 194.3 L380.1 195.3 L380.3 196.0 L380.4 196.6 L380.6 194.3 L380.7 196.4 L380.9 199.0 L381.0 194.7 L381.2 193.0 L381.3 193.8 L381.5 195.6 L381.6 194.2 L381.8 191.5 L381.9 196.2 L382.1 191.6 L382.2 194.8 L382.4 196.7 L382.5 194.9 L382.7 195.4 L382.8 196.0 L383.0 194.1 L383.1 197.5 L383.3 195.9 L383.4 194.9 L383.6 197.1 L383.7 194.8 L383.9 193.2 L384.0 197.1 L384.2 194.7 L384.3 194.2 L384.5 194.2 L384.6 196.4 L384.8 195.9 L384.9 195.8 L385.1 196.3 L385.2 196.4 L385.4 196.3 L385.5 192.5 L385.7 192.9 L385.8 197.2 L386.0 193.7 L386.1 195.0 L386.3 192.9 L386.4 194.6 L386.6 195.0 L386.7 194.8 L386.9 193.5 L387.0 196.3 L387.2 193.1 L387.3 196.4 L387.5 197.6 L387.6 196.7 L387.8 197.0 L387.9 196.7 L388.1 197.1 L388.2 196.2 L388.4 191.9 L388.5 194.7 L388.7 193.9 L388.8 193.3 L389.0 197.4 L389.1 195.5 L389.3 199.8 L389.4 193.5 L389.6 194.6 L389.7 195.1 L389.9 193.2 L390.0 192.4 L390.2 195.3 L390.3 196.1 L390.5 200.4 L390.6 193.8 L390.8 194.4 L390.9 194.0 L391.1 196.7 L391.2 192.1 L391.4 196.8 L391.5 191.5 L391.7 194.6 L391.8 193.9 L392.0 193.9 L392.1 194.6 L392.3 195.7 L392.4 192.9 L392.6 193.4 L392.7 192.1 L392.9 192.4 L393.0 195.4 L393.2 192.9 L393.3 196.5 L393.5 194.8 L393.6 197.2 L393.8 197.7 L393.9 194.5 L394.1 197.4 L394.2 194.1 L394.4 194.6 L394.5 195.9 L394.7 197.8 L394.8 194.5 L395.0 196.0 L395.1 193.9 L395.3 195.7 L395.4 193.2 L395.6 195.6 L395.7 195.8 L395.9 193.6 L396.0 192.4 L396.2 193.9 L396.3 193.6 L396.5 196.6 L396.6 195.2 L396.8 194.4 L396.9 191.9 L397.1 195.0 L397.2 194.8 L397.4 195.1 L397.5 197.1 L397.7 193.6 L397.8 194.7 L398.0 194.3 L398.1 197.0 L398.3 196.0 L398.4 192.8 L398.6 196.0 L398.7 195.3 L398.9 192.3 L399.0 196.0 L399.2 195.3 L399.3 195.0 L399.5 194.3 L399.6 194.2 L399.8 193.6 L399.9 194.8 L400.1 193.0 L400.2 196.3 L400.4 194.1 L400.5 194.7 L400.7 193.9 L400.8 194.7 L401.0 193.8 L401.1 194.7 L401.3 193.8 L401.4 195.0 L401.6 193.0 L401.7 194.3 L401.9 196.4 L402.0 194.2 L402.2 198.9 L402.3 196.0 L402.5 195.3 L402.6 197.4 L402.8 193.8 L402.9 196.5 L403.1 196.8 L403.2 196.1 L403.4 193.8 L403.5 196.2 L403.7 195.8 L403.8 193.7 L404.0 194.1 L404.1 192.5 L404.3 193.4 L404.4 192.8 L404.6 192.4 L404.7 194.7 L404.9 192.8 L405.0 196.4 L405.2 192.3 L405.3 192.5 L405.5 193.6 L405.6 196.2 L405.8 196.8 L405.9 196.0 L406.1 195.1 L406.2 193.5 L406.4 195.2 L406.5 192.6 L406.7 195.1 L406.8 196.1 L407.0 194.6 L407.1 194.4 L407.3 193.7 L407.4 194.4 L407.6 194.3 L407.7 192.6 L407.9 194.3 L408.0 194.1 L408.2 192.7 L408.3 195.4 L408.5 193.3 L408.6 195.9 L408.8 194.1 L408.9 195.0 L409.1 193.8 L409.2 196.0 L409.4 193.7 L409.5 193.9 L409.7 195.3 L409.8 192.6 L410.0 195.6 L410.1 196.8 L410.3 194.6 L410.4 193.0 L410.6 193.7 L410.7 194.5 L410.9 193.6 L411.0 192.4 L411.2 194.8 L411.3 194.9 L411.5 193.6 L411.6 192.2 L411.8 194.5 L411.9 192.7 L412.1 194.3 L412.2 193.6 L412.4 196.3 L412.5 194.4 L412.7 194.0 L412.8 194.4 L413.0 195.1 L413.1 194.8 L413.3 193.7 L413.4 194.7 L413.6 193.5 L413.7 195.8 L413.9 191.7 L414.0 194.7 L414.2 194.8 L414.3 194.7 L414.5 192.7 L414.6 195.1 L414.8 195.1 L414.9 195.5 L415.1 194.5 L415.2 195.9 L415.4 195.4 L415.5 195.1 L415.7 195.2 L415.8 197.4 L416.0 195.9 L416.1 193.8 L416.3 194.9 L416.4 197.5 L416.6 198.4 L416.7 195.2 L416.9 198.2 L417.0 194.7 L417.2 195.1 L417.3 196.0 L417.5 195.4 L417.6 196.6 L417.8 194.8 L417.9 194.5 L418.1 192.9 L418.2 196.8 L418.4 196.5 L418.5 194.9 L418.7 194.4 L418.8 196.6 L419.0 193.8 L419.1 193.8 L419.3 193.8 L419.4 194.9 L419.6 196.6 L419.7 194.5 L419.9 197.2 L420.0 192.3 L420.2 197.1 L420.3 195.2 L420.5 196.6 L420.6 196.6 L420.8 194.7 L420.9 192.6 L421.1 193.1 L421.2 191.9 L421.4 195.9 L421.5 194.8 L421.7 193.8 L421.8 194.2 L422.0 194.9 L422.1 193.7 L422.3 195.5 L422.4 193.5 L422.6 195.5 L422.7 197.2 L422.9 192.3 L423.0 196.0 L423.2 195.2 L423.3 194.5 L423.5 191.2 L423.6 194.6 L423.8 194.9 L423.9 194.1 L424.1 195.4 L424.2 194.4 L424.4 195.9 L424.5 195.8 L424.7 195.5 L424.8 196.1 L425.0 194.3 L425.1 194.1 L425.3 193.5 L425.4 192.7 L425.6 193.7 L425.7 195.1 L425.9 195.1 L426.0 194.4 L426.2 191.3 L426.3 193.2 L426.5 193.7 L426.6 194.0 L426.8 191.7 L426.9 192.6 L427.1 195.4 L427.2 192.3 L427.4 192.9 L427.5 194.3 L427.7 194.3 L427.8 195.5 L428.0 194.7 L428.1 196.7 L428.3 194.3 L428.4 195.7 L428.6 193.2 L428.7 192.6 L428.9 193.7 L429.0 194.3 L429.2 192.9 L429.3 191.4 L429.5 193.3 L429.6 196.3 L429.8 193.5 L429.9 195.0 L430.1 195.1 L430.2 195.1 L430.4 195.5 L430.5 193.1 L430.7 195.1 L430.8 192.0 L431.0 193.2 L431.1 193.8 L431.3 195.9 L431.4 194.3 L431.6 194.2 L431.7 191.6 L431.9 194.0 L432.0 192.8 L432.2 195.5 L432.3 195.3 L432.5 193.3 L432.6 194.8 L432.8 195.0 L432.9 193.9 L433.1 196.8 L433.2 194.3 L433.4 196.0 L433.5 193.9 L433.7 196.9 L433.8 194.2 L434.0 195.1 L434.1 195.8 L434.3 193.7 L434.4 195.9 L434.6 193.8 L434.7 192.7 L434.9 195.1 L435.0 196.5 L435.2 195.7 L435.3 192.9 L435.5 194.3 L435.6 196.0 L435.8 194.4 L435.9 194.8 L436.1 195.7 L436.2 196.1 L436.4 194.9 L436.5 193.0 L436.7 194.9 L436.8 194.0 L437.0 194.3 L437.1 193.1 L437.3 194.8 L437.4 192.0 L437.6 194.4 L437.7 194.0 L437.9 192.7 L438.0 195.7 L438.2 196.9 L438.3 192.6 L438.5 196.1 L438.6 195.0 L438.8 195.4 L438.9 195.3 L439.1 196.6 L439.2 194.3 L439.4 193.0 L439.5 195.0 L439.7 193.9 L439.8 193.7 L440.0 195.1 L440.1 193.4 L440.3 195.0 L440.4 195.0 L440.6 194.0 L440.7 197.4 L440.9 197.1 L441.0 194.2 L441.2 194.3 L441.3 198.9 L441.5 194.8 L441.6 193.0 L441.8 193.7 L441.9 194.2 L442.1 195.8 L442.2 195.8 L442.4 195.8 L442.5 192.3 L442.7 194.7 L442.8 195.1 L443.0 193.4 L443.1 194.6 L443.3 194.7 L443.4 192.1 L443.6 193.5 L443.7 191.4 L443.9 192.9 L444.0 197.8 L444.2 197.2 L444.3 194.0 L444.5 196.9 L444.6 195.2 L444.8 195.2 L444.9 195.5 L445.1 195.8 L445.2 194.5 L445.4 195.7 L445.5 194.6 L445.7 193.9 L445.8 197.7 L446.0 190.5 L446.1 193.2 L446.3 192.9 L446.4 192.6 L446.6 190.2 L446.7 188.5 L446.9 184.5 L447.0 182.9 L447.2 181.1 L447.3 182.0 L447.5 179.7 L447.6 186.5 L447.8 184.8 L447.9 187.5 L448.1 189.7 L448.2 192.9 L448.4 192.1 L448.5 194.5 L448.7 193.9 L448.8 192.4 L449.0 197.4 L449.1 193.9 L449.3 196.2 L449.4 195.9 L449.6 195.0 L449.7 193.9 L449.9 193.6 L450.0 194.7 L450.2 193.1 L450.3 194.9 L450.5 194.4 L450.6 193.2 L450.8 196.0 L450.9 198.3 L451.1 194.1 L451.2 192.7 L451.4 197.1 L451.5 195.4 L451.7 196.0 L451.8 196.2 L452.0 196.8 L452.1 194.6 L452.3 193.2 L452.4 195.0 L452.6 197.1 L452.7 192.9 L452.9 195.4 L453.0 196.6 L453.2 197.8 L453.3 197.1 L453.5 195.7 L453.6 196.2 L453.8 198.0 L453.9 194.7 L454.1 193.9 L454.2 195.9 L454.4 194.3 L454.5 195.9 L454.7 195.4 L454.8 194.7 L455.0 195.3 L455.1 196.2 L455.3 194.1 L455.4 195.1 L455.6 191.9 L455.7 193.7 L455.9 195.4 L456.0 194.2 L456.2 196.2 L456.3 195.3 L456.5 195.1 L456.6 196.7 L456.8 194.5 L456.9 194.5 L457.1 194.8 L457.2 197.4 L457.4 196.1 L457.5 196.4 L457.7 193.7 L457.8 195.9 L458.0 195.8 L458.1 193.0 L458.3 193.5 L458.4 192.2 L458.6 195.2 L458.7 195.8 L458.9 195.2 L459.0 194.4 L459.2 192.7 L459.3 194.5 L459.5 194.3 L459.6 194.2 L459.8 191.9 L459.9 193.3 L460.1 196.8 L460.2 195.2 L460.4 193.0 L460.5 192.9 L460.7 194.7 L460.8 194.8 L461.0 193.0 L461.1 198.3 L461.3 193.8 L461.4 193.7 L461.6 196.6 L461.7 193.7 L461.9 197.7 L462.0 194.1 L462.2 191.5 L462.3 192.5 L462.5 193.6 L462.6 193.1 L462.8 192.5 L462.9 191.4 L463.1 188.5 L463.2 187.6 L463.4 186.4 L463.5 186.1 L463.7 186.1 L463.8 183.4 L464.0 186.3 L464.1 187.4 L464.3 190.7 L464.4 189.3 L464.6 191.4 L464.7 191.7 L464.9 194.6 L465.0 193.0 L465.2 194.1 L465.3 193.3 L465.5 196.0 L465.6 194.4 L465.8 196.7 L465.9 193.7 L466.1 191.5 L466.2 196.3 L466.4 192.6 L466.5 197.0 L466.7 194.0 L466.8 194.1 L467.0 196.9 L467.1 191.9 L467.3 195.8 L467.4 194.5 L467.6 196.6 L467.7 192.5 L467.9 194.4 L468.0 194.0 L468.2 193.2 L468.3 196.1 L468.5 194.2 L468.6 192.2 L468.8 194.2 L468.9 195.0 L469.1 194.5 L469.2 196.0 L469.4 195.5 L469.5 194.4 L469.7 195.6 L469.8 192.1 L470.0 194.4 L470.1 192.7 L470.3 198.8 L470.4 195.8 L470.6 192.0 L470.7 194.5 L470.9 191.9 L471.0 196.0 L471.2 194.2 L471.3 195.1 L471.5 195.1 L471.6 196.6 L471.8 193.1 L471.9 194.6 L472.1 196.3 L472.2 192.2 L472.4 194.2 L472.5 194.2 L472.7 195.5 L472.8 193.7 L473.0 194.2 L473.1 198.7 L473.3 193.6 L473.4 194.3 L473.6 197.8 L473.7 191.8 L473.9 194.2 L474.0 193.1 L474.2 194.1 L474.3 194.5 L474.5 194.2 L474.6 192.0 L474.8 193.9 L474.9 196.1 L475.1 194.8 L475.2 192.7 L475.4 192.1 L475.5 194.5 L475.7 191.7 L475.8 196.1 L476.0 195.2 L476.1 194.7 L476.3 194.8 L476.4 196.3 L476.6 192.9 L476.7 193.0 L476.9 194.4 L477.0 194.7 L477.2 192.6 L477.3 193.4 L477.5 193.4 L477.6 194.9 L477.8 195.5 L477.9 193.6 L478.1 192.9 L478.2 193.8 L478.4 195.2 L478.5 195.2 L478.7 196.9 L478.8 196.1 L479.0 195.0 L479.1 196.1 L479.3 195.4 L479.4 197.1 L479.6 194.2 L479.7 191.7 L479.9 193.4 L480.0 194.5 L480.2 196.8 L480.3 196.2 L480.5 198.1 L480.6 192.8 L480.8 194.2 L480.9 193.6 L481.1 195.9 L481.2 195.1 L481.4 194.3 L481.5 194.5 L481.7 194.1 L481.8 195.8 L482.0 194.4 L482.1 190.5 L482.3 191.8 L482.4 192.0 L482.6 190.5 L482.7 190.1 L482.9 192.4 L483.0 191.2 L483.2 190.9 L483.3 189.2 L483.5 190.6 L483.6 192.7 L483.8 192.7 L483.9 190.9 L484.1 191.6 L484.2 193.1 L484.4 193.8 L484.5 193.0 L484.7 194.5 L484.8 194.4 L485.0 195.1 L485.1 194.4 L485.3 193.7 L485.4 193.9 L485.6 195.6 L485.7 194.6 L485.9 193.2 L486.0 193.2 L486.2 195.2 L486.3 194.9 L486.5 195.8 L486.6 194.9 L486.8 193.5 L486.9 196.0 L487.1 195.1 L487.2 198.4 L487.4 194.7 L487.5 194.1 L487.7 193.5 L487.8 194.8 L488.0 193.2 L488.1 194.8 L488.3 199.3 L488.4 195.1 L488.6 194.0 L488.7 195.5 L488.9 197.3 L489.0 194.5 L489.2 196.7 L489.3 195.7 L489.5 195.0 L489.6 195.6 L489.8 195.3 L489.9 197.9 L490.1 195.3 L490.2 195.9 L490.4 193.4 L490.5 195.7 L490.7 194.5 L490.8 192.0 L491.0 194.6 L491.1 194.2 L491.3 197.0 L491.4 196.0 L491.6 194.0 L491.7 195.6 L491.9 194.5 L492.0 191.8 L492.2 195.0 L492.3 193.7 L492.5 196.9 L492.6 192.6 L492.8 194.9 L492.9 193.7 L493.1 191.9 L493.2 197.3 L493.4 196.3 L493.5 196.4 L493.7 197.2 L493.8 196.8 L494.0 193.7 L494.1 191.6 L494.3 193.1 L494.4 194.0 L494.6 194.8 L494.7 195.1 L494.9 197.3 L495.0 196.0 L495.2 194.7 L495.3 196.1 L495.5 194.7 L495.6 195.9 L495.8 195.2 L495.9 194.9 L496.1 193.1 L496.2 192.2 L496.4 194.5 L496.5 195.9 L496.7 195.2 L496.8 194.4 L497.0 197.5 L497.1 194.7 L497.3 196.5 L497.4 197.7 L497.6 194.7 L497.7 193.3 L497.9 195.8 L498.0 192.6 L498.2 195.0 L498.3 191.0 L498.5 195.9 L498.6 194.3 L498.8 197.6 L498.9 192.9 L499.1 196.8 L499.2 196.3 L499.4 193.7 L499.5 192.9 L499.7 196.0 L499.8 192.3 L500.0 196.2 L500.1 193.9 L500.3 196.7 L500.4 197.0 L500.6 193.1 L500.7 195.6 L500.9 194.3 L501.0 194.0 L501.2 197.7 L501.3 194.5 L501.5 193.9 L501.6 196.6 L501.8 192.5 L501.9 197.4 L502.1 195.8 L502.2 195.3 L502.4 192.9 L502.5 197.5 L502.7 194.8 L502.8 194.1 L503.0 194.6 L503.1 195.4 L503.3 193.4 L503.4 195.6 L503.6 195.5 L503.7 196.1 L503.9 196.4 L504.0 193.0 L504.2 194.5 L504.3 196.1 L504.5 196.5 L504.6 193.4 L504.8 194.4 L504.9 196.2 L505.1 197.5 L505.2 193.5 L505.4 195.8 L505.5 192.7 L505.7 193.0 L505.8 193.6 L506.0 198.6 L506.1 195.2 L506.3 195.4 L506.4 193.3 L506.6 191.7 L506.7 194.4 L506.9 194.6 L507.0 195.2 L507.2 192.2 L507.3 195.3 L507.5 193.4 L507.6 195.5 L507.8 193.8 L507.9 196.0 L508.1 195.2 L508.2 194.0 L508.4 196.1 L508.5 197.1 L508.7 196.0 L508.8 195.5 L509.0 194.3 L509.1 193.6 L509.3 196.7 L509.4 194.5 L509.6 195.7 L509.7 192.5 L509.9 191.9 L510.0 193.3 L510.2 189.6 L510.3 194.9 L510.5 196.4 L510.6 196.9 L510.8 193.8 L510.9 193.2 L511.1 195.5 L511.2 195.7 L511.4 195.3 L511.5 193.7 L511.7 196.4 L511.8 196.5 L512.0 193.3 L512.1 195.2 L512.3 196.0 L512.4 196.8 L512.6 195.3 L512.7 198.4 L512.9 195.9 L513.0 194.7 L513.2 195.2 L513.3 197.2 L513.5 196.0 L513.6 196.0 L513.8 192.7 L513.9 195.1 L514.1 196.9 L514.2 194.6 L514.4 193.0 L514.5 196.5 L514.7 196.4 L514.8 193.9 L515.0 195.6 L515.1 194.6 L515.3 195.3 L515.4 196.5 L515.6 195.0 L515.7 193.2 L515.9 196.7 L516.0 195.6 L516.2 194.1 L516.3 195.2 L516.5 195.1 L516.6 192.6 L516.8 193.2 L516.9 197.0 L517.1 193.3 L517.2 195.0 L517.4 195.4 L517.5 194.1 L517.7 191.4 L517.8 195.3 L518.0 196.3 L518.1 194.2 L518.3 196.7 L518.4 192.9 L518.6 196.6 L518.7 197.3 L518.9 194.5 L519.0 194.7 L519.2 194.5 L519.3 189.9 L519.5 190.0 L519.6 190.6 L519.8 186.7 L519.9 186.7 L520.1 189.5 L520.2 186.2 L520.4 192.5 L520.5 192.7 L520.7 192.2 L520.8 195.3 L521.0 196.4 L521.1 192.0 L521.3 193.3 L521.4 194.3 L521.6 195.6 L521.7 192.9 L521.9 194.2 L522.0 194.2 L522.2 195.6 L522.3 192.8 L522.5 196.4 L522.6 193.2 L522.8 194.6 L522.9 193.2 L523.1 196.0 L523.2 193.5 L523.4 193.5 L523.5 194.7 L523.7 195.6 L523.8 193.9 L524.0 193.5 L524.1 194.2 L524.3 194.8 L524.4 193.9 L524.6 193.4 L524.7 197.6 L524.9 195.7 L525.0 195.2 L525.2 195.4 L525.3 195.1 L525.5 194.2 L525.6 194.8 L525.8 195.2 L525.9 197.6 L526.1 194.3 L526.2 196.9 L526.4 195.9 L526.5 195.1 L526.7 192.4 L526.8 198.6 L527.0 196.6 L527.1 193.5 L527.3 197.2 L527.4 195.5 L527.6 193.4 L527.7 194.3 L527.9 192.5 L528.0 193.8 L528.2 192.5 L528.3 194.0 L528.5 194.1 L528.6 195.7 L528.8 194.3 L528.9 191.9 L529.1 194.2 L529.2 193.8 L529.4 195.4 L529.5 193.7 L529.7 194.0 L529.8 197.6 L530.0 193.8 L530.1 193.5 L530.3 193.5 L530.4 195.0 L530.6 194.5 L530.7 193.7 L530.9 193.0 L531.0 195.4 L531.2 190.8 L531.3 192.1 L531.5 190.3 L531.6 189.7 L531.8 186.3 L531.9 189.9 L532.1 188.7 L532.2 186.6 L532.4 191.1 L532.5 190.6 L532.7 196.0 L532.8 196.7 L533.0 193.9 L533.1 193.7 L533.3 193.8 L533.4 193.8 L533.6 194.3 L533.7 194.8 L533.9 196.4 L534.0 198.2 L534.2 191.9 L534.3 196.2 L534.5 195.7 L534.6 195.1 L534.8 195.0 L534.9 196.2 L535.1 193.0 L535.2 193.5 L535.4 195.3 L535.5 193.6 L535.7 195.2 L535.8 194.7 L536.0 192.7 L536.1 194.6 L536.3 196.4 L536.4 195.3 L536.6 196.0 L536.7 197.3 L536.9 192.5 L537.0 195.9 L537.2 194.7 L537.3 194.0 L537.5 193.1 L537.6 194.2 L537.8 196.1 L537.9 194.9 L538.1 195.0 L538.2 195.0 L538.4 191.7 L538.5 193.4 L538.7 193.2 L538.8 193.5 L539.0 193.0 L539.1 191.8 L539.3 194.6 L539.4 198.1 L539.6 193.7 L539.7 191.7 L539.9 193.5 L540.0 195.3 L540.2 193.0 L540.3 195.5 L540.5 195.0 L540.6 192.5 L540.8 193.8 L540.9 195.4 L541.1 194.4 L541.2 194.9 L541.4 195.4 L541.5 194.8 L541.7 193.3 L541.8 193.7 L542.0 192.6 L542.1 192.5 L542.3 193.6 L542.4 193.1 L542.6 192.0 L542.7 195.3 L542.9 192.8 L543.0 191.5 L543.2 191.6 L543.3 195.1 L543.5 195.4 L543.6 192.6 L543.8 194.9 L543.9 194.1 L544.1 194.3 L544.2 195.3 L544.4 194.2 L544.5 194.4 L544.7 197.8 L544.8 195.2 L545.0 195.8 L545.1 197.8 L545.3 193.5 L545.4 193.7 L545.6 194.4 L545.7 194.2 L545.9 195.5 L546.0 194.0 L546.2 193.5 L546.3 194.3 L546.5 194.2 L546.6 193.7 L546.8 192.3 L546.9 195.7 L547.1 196.9 L547.2 194.9 L547.4 193.6 L547.5 193.6 L547.7 194.9 L547.8 195.1 L548.0 190.3 L548.1 196.3 L548.3 192.9 L548.4 195.0 L548.6 193.4 L548.7 195.1 L548.9 194.2 L549.0 193.5 L549.2 193.3 L549.3 197.4 L549.5 193.7 L549.6 194.5 L549.8 193.5 L549.9 194.8 L550.1 194.7 L550.2 194.5 L550.4 194.6 L550.5 194.5 L550.7 196.7 L550.8 194.7 L551.0 194.7 L551.1 196.9 L551.3 193.6 L551.4 193.6 L551.6 195.7 L551.7 196.4 L551.9 195.2 L552.0 194.7 L552.2 194.4 L552.3 195.7 L552.5 195.6 L552.6 191.6 L552.8 192.5 L552.9 191.1 L553.1 187.9 L553.2 187.9 L553.4 187.8 L553.5 189.3 L553.7 193.4 L553.8 193.2 L554.0 192.2 L554.1 193.1 L554.3 191.4 L554.4 192.3 L554.6 192.3 L554.7 196.2 L554.9 193.3 L555.0 194.1 L555.2 192.4 L555.3 190.9 L555.5 193.6 L555.6 193.4 L555.8 194.9 L555.9 195.0 L556.1 193.6 L556.2 193.5 L556.4 193.5 L556.5 196.9 L556.7 196.1 L556.8 194.1 L557.0 195.9 L557.1 197.4 L557.3 195.8 L557.4 194.2 L557.6 195.1 L557.7 194.1 L557.9 197.4 L558.0 196.2 L558.2 194.5 L558.3 194.4 L558.5 194.2 L558.6 193.7 L558.8 197.1 L558.9 197.1 L559.1 195.5 L559.2 198.0 L559.4 196.6 L559.5 197.1 L559.7 196.2 L559.8 195.0 L560.0 195.6 L560.1 192.3 L560.3 193.1 L560.4 191.9 L560.6 195.6 L560.7 191.6 L560.9 191.0 L561.0 191.0 L561.2 187.8 L561.3 185.6 L561.5 186.5 L561.6 187.1 L561.8 191.8 L561.9 195.1 L562.1 192.1 L562.2 194.3 L562.4 195.1 L562.5 195.4 L562.7 194.3 L562.8 195.6 L563.0 194.4 L563.1 195.6 L563.3 192.3 L563.4 195.3 L563.6 194.6 L563.7 193.8 L563.9 197.0 L564.0 192.4 L564.2 193.5 L564.3 196.1 L564.5 196.9 L564.6 193.7 L564.8 196.5 L564.9 197.1 L565.1 193.0 L565.2 194.9 L565.4 194.0 L565.5 193.9 L565.7 194.0 L565.8 193.3 L566.0 195.1 L566.1 194.0 L566.3 192.2 L566.4 194.7 L566.6 195.2 L566.7 195.7 L566.9 194.8 L567.0 193.3 L567.2 196.2 L567.3 195.8 L567.5 194.8 L567.6 196.7 L567.8 196.1 L567.9 194.3 L568.1 196.1 L568.2 192.1 L568.4 195.4 L568.5 196.3 L568.7 193.9 L568.8 192.2 L569.0 195.6 L569.1 194.1 L569.3 195.2 L569.4 193.5 L569.6 196.6 L569.7 194.7 L569.9 195.7 L570.0 194.1 L570.2 194.3 L570.3 191.9 L570.5 195.2 L570.6 194.1 L570.8 194.1 L570.9 195.2 L571.1 195.7 L571.2 195.6 L571.4 194.4 L571.5 194.0 L571.7 194.8 L571.8 198.7 L572.0 194.5 L572.1 194.6 L572.3 193.2 L572.4 194.7 L572.6 195.2 L572.7 193.6 L572.9 193.9 L573.0 194.8 L573.2 194.2 L573.3 194.4 L573.5 195.6 L573.6 193.6 L573.8 195.0 L573.9 196.9 L574.1 195.4 L574.2 193.2 L574.4 195.4 L574.5 194.9 L574.7 194.3 L574.8 196.0 L575.0 196.3 L575.1 192.3 L575.3 195.3 L575.4 194.3 L575.6 196.4 L575.7 195.2 L575.9 193.5 L576.0 196.9 L576.2 195.4 L576.3 195.1 L576.5 196.3 L576.6 196.3 L576.8 195.5 L576.9 193.3 L577.1 195.1 L577.2 193.6 L577.4 194.4 L577.5 192.6 L577.7 194.7 L577.8 192.2 L578.0 193.5 L578.1 197.1 L578.3 197.8 L578.4 195.7 L578.6 194.9 L578.7 197.0 L578.9 197.4 L579.0 195.0 L579.2 192.4 L579.3 193.3 L579.5 197.7 L579.6 193.8 L579.8 193.9 L579.9 192.3 L580.1 196.7 L580.2 196.7 L580.4 196.7 L580.5 195.6 L580.7 191.4 L580.8 195.4 L581.0 195.6 L581.1 196.3 L581.3 195.5 L581.4 196.6 L581.6 192.6 L581.7 196.4 L581.9 194.7 L582.0 194.6 L582.2 194.1 L582.3 197.4 L582.5 194.4 L582.6 193.5 L582.8 193.5 L582.9 195.9 L583.1 195.7 L583.2 193.6 L583.4 195.4 L583.5 191.7 L583.7 195.3 L583.8 193.3 L584.0 194.8 L584.1 193.7 L584.3 196.2 L584.4 193.8 L584.6 194.3 L584.7 196.6 L584.9 194.4 L585.0 195.2 L585.2 193.8 L585.3 194.8 L585.5 195.5 L585.6 195.5 L585.8 196.0 L585.9 194.3 L586.1 194.3 L586.2 194.6 L586.4 191.8 L586.5 194.5 L586.7 196.2 L586.8 194.6 L587.0 194.5 L587.1 192.6 L587.3 195.0 L587.4 193.9 L587.6 193.6 L587.7 194.1 L587.9 193.7 L588.0 194.7 L588.2 195.4 L588.3 193.7 L588.5 195.7 L588.6 194.5 L588.8 194.5 L588.9 194.3 L589.1 193.6 L589.2 192.2 L589.4 192.6 L589.5 190.7 L589.7 192.5 L589.8 193.8 L590.0 192.3 L590.1 194.3 L590.3 193.7 L590.4 194.5 L590.6 196.2 L590.7 195.0 L590.9 194.8 L591.0 192.1 L591.2 194.5 L591.3 190.6 L591.5 190.8 L591.6 193.4 L591.8 193.2 L591.9 191.7 L592.1 192.2 L592.2 192.6 L592.4 196.9 L592.5 190.5 L592.7 193.1 L592.8 190.9 L593.0 195.3 L593.1 190.8 L593.3 191.4 L593.4 192.7 L593.6 195.6 L593.7 191.9 L593.9 193.2 L594.0 195.5 L594.2 189.8 L594.3 193.0 L594.5 192.8 L594.6 194.6 L594.8 191.2 L594.9 190.6 L595.1 191.6 L595.2 188.0 L595.4 190.7 L595.5 192.3 L595.7 193.0 L595.8 195.4 L596.0 191.8 L596.1 192.8 L596.3 192.9 L596.4 191.6 L596.6 192.6 L596.7 194.8 L596.9 194.5 L597.0 193.7 L597.2 192.0 L597.3 191.7 L597.5 193.0 L597.6 192.4 L597.8 190.3 L597.9 191.1" stroke="#f00" stroke-width="0.8"/>
<path d="M38.0 196.5 L38.5 196.1 L39.0 196.1 L39.5 196.8 L40.0 196.9 L40.5 196.6 L41.0 196.7 L41.5 195.7 L42.0 196.0 L42.5 196.2 L43.0 196.3 L43.5 196.1 L44.0 196.8 L44.5 196.5 L45.0 196.8 L45.5 195.4 L46.0 196.8 L46.5 195.7 L47.0 196.8 L47.5 196.0 L48.0 196.7 L48.5 196.6 L49.0 195.6 L49.5 196.9 L50.0 196.8 L50.5 195.4 L51.0 196.4 L51.5 196.8 L52.0 195.2 L52.5 195.3 L53.0 196.8 L53.5 196.5 L54.0 196.8 L54.5 196.7 L55.0 196.2 L55.5 194.8 L56.0 195.9 L56.5 196.8 L57.0 196.8 L57.5 195.7 L58.0 196.6 L58.5 196.5 L59.0 196.2 L59.5 196.5 L60.0 196.6 L60.5 196.9 L61.0 195.9 L61.5 195.2 L62.0 195.2 L62.5 196.1 L63.0 196.6 L63.5 196.6 L64.0 195.3 L64.5 189.4 L65.0 196.8 L65.5 196.8 L66.0 196.6 L66.5 196.4 L67.0 195.7 L67.5 196.4 L68.0 196.9 L68.5 195.7 L69.0 196.5 L69.5 196.4 L70.0 196.8 L70.5 196.5 L71.0 196.6 L71.5 195.8 L72.0 196.8 L72.5 196.3 L73.0 196.8 L73.5 196.0 L74.0 196.9 L74.5 196.7 L75.0 196.6 L75.5 196.1 L76.0 196.8 L76.5 196.5 L77.0 196.8 L77.5 196.7 L78.0 196.4 L78.5 193.5 L79.0 196.1 L79.5 195.3 L80.0 196.8 L80.5 195.3 L81.0 194.6 L81.5 196.4 L82.0 195.9 L82.5 195.4 L83.0 196.9 L83.5 196.7 L84.0 194.9 L84.5 194.3 L85.0 196.1 L85.5 196.8 L86.0 196.9 L86.5 196.2 L87.0 195.2 L87.5 195.1 L88.0 196.4 L88.5 196.9 L89.0 196.7 L89.5 195.8 L90.0 195.6 L90.5 196.1 L91.0 196.8 L91.5 196.4 L92.0 196.5 L92.5 196.2 L93.0 196.7 L93.5 195.3 L94.0 195.5 L94.5 196.8 L95.0 196.7 L95.5 195.5 L96.0 196.7 L96.5 195.3 L97.0 196.4 L97.5 196.0 L98.0 196.0 L98.5 196.8 L99.0 196.7 L99.5 196.7 L100.0 196.0 L100.5 196.0 L101.0 196.8 L101.5 195.5 L102.0 196.5 L102.5 196.8 L103.0 196.5 L103.5 195.2 L104.0 196.3 L104.5 196.2 L105.0 195.4 L105.5 195.2 L106.0 195.8 L106.5 196.5 L107.0 196.2 L107.5 195.4 L108.0 195.8 L108.5 196.3 L109.0 196.6 L109.5 196.6 L110.0 195.9 L110.5 196.3 L111.0 196.9 L111.5 196.0 L112.0 195.4 L112.5 195.7 L113.0 195.4 L113.5 195.4 L114.0 196.4 L114.5 195.8 L115.0 196.6 L115.5 196.8 L116.0 196.6 L116.5 196.7 L117.0 195.3 L117.5 196.0 L118.0 196.3 L118.5 196.2 L119.0 196.8 L119.5 196.4 L120.0 196.0 L120.5 196.6 L121.0 196.7 L121.5 196.6 L122.0 196.7 L122.5 196.0 L123.0 196.8 L123.5 196.8 L124.0 196.7 L124.5 196.0 L125.0 195.8 L125.5 196.1 L126.0 195.3 L126.5 196.6 L127.0 196.9 L127.5 196.4 L128.0 196.5 L128.5 196.8 L129.0 196.1 L129.5 196.6 L130.0 196.8 L130.5 196.7 L131.0 195.3 L131.5 196.9 L132.0 196.6 L132.5 196.7 L133.0 196.8 L133.5 196.5 L134.0 196.8 L134.5 195.4 L135.0 196.4 L135.5 196.0 L136.0 196.8 L136.5 196.5 L137.0 196.2 L137.5 195.6 L138.0 196.7 L138.5 196.5 L139.0 195.6 L139.5 195.6 L140.0 196.8 L140.5 196.3 L141.0 195.8 L141.5 196.6 L142.0 196.1 L142.5 196.1 L143.0 195.2 L143.5 196.3 L144.0 196.0 L144.5 196.6 L145.0 195.9 L145.5 196.7 L146.0 196.4 L146.5 196.6 L147.0 196.7 L147.5 196.8 L148.0 196.8 L148.5 196.3 L149.0 196.7 L149.5 196.8 L150.0 195.7 L150.5 196.7 L151.0 195.3 L151.5 196.2 L152.0 196.6 L152.5 195.5 L153.0 195.4 L153.5 196.7 L154.0 196.8 L154.5 196.1 L155.0 195.6 L155.5 196.2 L156.0 195.8 L156.5 196.6 L157.0 196.2 L157.5 196.7 L158.0 196.6 L158.5 196.6 L159.0 196.6 L159.5 196.6 L160.0 195.7 L160.5 196.8 L161.0 196.8 L161.5 196.7 L162.0 195.2 L162.5 196.4 L163.0 196.8 L163.5 195.6 L164.0 195.5 L164.5 195.7 L165.0 196.6 L165.5 195.9 L166.0 196.7 L166.5 196.8 L167.0 195.5 L167.5 195.6 L168.0 196.8 L168.5 195.5 L169.0 196.9 L169.5 196.7 L170.0 196.9 L170.5 196.8 L171.0 196.8 L171.5 196.0 L172.0 196.7 L172.5 196.8 L173.0 196.8 L173.5 196.7 L174.0 195.6 L174.5 196.2 L175.0 196.8 L175.5 196.0 L176.0 196.3 L176.5 196.5 L177.0 196.3 L177.5 196.0 L178.0 195.5 L178.5 196.0 L179.0 195.3 L179.5 195.1 L180.0 194.1 L180.5 193.8 L181.0 193.3 L181.5 192.9 L182.0 192.7 L182.5 194.0 L183.0 193.3 L183.5 195.1 L184.0 194.8 L184.5 195.6 L185.0 195.1 L185.5 196.0 L186.0 196.5 L186.5 196.6 L187.0 196.2 L187.5 195.9 L188.0 195.6 L188.5 196.8 L189.0 196.8 L189.5 196.8 L190.0 196.8 L190.5 196.8 L191.0 196.9 L191.5 196.7 L192.0 196.8 L192.5 196.0 L193.0 196.2 L193.5 195.2 L194.0 195.2 L194.5 195.9 L195.0 195.3 L195.5 196.9 L196.0 196.8 L196.5 195.4 L197.0 196.5 L197.5 196.8 L198.0 195.9 L198.5 196.5 L199.0 196.3 L199.5 196.7 L200.0 196.8 L200.5 196.8 L201.0 196.2 L201.5 195.3 L202.0 195.2 L202.5 195.8 L203.0 195.3 L203.5 196.6 L204.0 196.7 L204.5 195.4 L205.0 196.2 L205.5 196.1 L206.0 196.9 L206.5 196.8 L207.0 196.4 L207.5 195.9 L208.0 195.7 L208.5 195.9 L209.0 196.7 L209.5 196.6 L210.0 195.6 L210.5 195.1 L211.0 196.4 L211.5 196.8 L212.0 196.2 L212.5 196.4 L213.0 196.6 L213.5 196.8 L214.0 196.6 L214.5 196.2 L215.0 196.8 L215.5 196.3 L216.0 195.3 L216.5 195.9 L217.0 196.7 L217.5 196.5 L218.0 196.8 L218.5 195.9 L219.0 196.2 L219.5 196.8 L220.0 196.3 L220.5 196.2 L221.0 196.3 L221.5 196.6 L222.0 196.7 L222.5 196.6 L223.0 195.1 L223.5 196.7 L224.0 196.4 L224.5 196.5 L225.0 196.8 L225.5 196.6 L226.0 196.8 L226.5 196.7 L227.0 196.6 L227.5 196.6 L228.0 195.3 L228.5 196.7 L229.0 196.7 L229.5 196.1 L230.0 196.6 L230.5 196.4 L231.0 196.1 L231.5 196.8 L232.0 196.1 L232.5 196.8 L233.0 196.7 L233.5 195.7 L234.0 195.1 L234.5 196.1 L235.0 196.8 L235.5 196.5 L236.0 196.7 L236.5 195.6 L237.0 196.8 L237.5 196.8 L238.0 196.1 L238.5 196.1 L239.0 196.2 L239.5 196.5 L240.0 195.2 L240.5 196.5 L241.0 195.3 L241.5 196.6 L242.0 196.5 L242.5 196.6 L243.0 196.0 L243.5 195.9 L244.0 196.8 L244.5 196.4 L245.0 195.9 L245.5 196.4 L246.0 196.1 L246.5 196.2 L247.0 196.0 L247.5 196.6 L248.0 196.7 L248.5 196.9 L249.0 195.5 L249.5 195.8 L250.0 196.6 L250.5 195.2 L251.0 195.4 L251.5 196.8 L252.0 195.6 L252.5 196.5 L253.0 196.7 L253.5 196.7 L254.0 196.6 L254.5 196.8 L255.0 196.8 L255.5 196.8 L256.0 196.7 L256.5 196.8 L257.0 196.8 L257.5 195.6 L258.0 196.6 L258.5 196.4 L259.0 196.2 L259.5 195.3 L260.0 196.8 L260.5 196.8 L261.0 195.6 L261.5 195.4 L262.0 195.3 L262.5 196.4 L263.0 196.6 L263.5 196.8 L264.0 195.4 L264.5 195.8 L265.0 196.3 L265.5 195.8 L266.0 196.7 L266.5 196.4 L267.0 195.4 L267.5 196.8 L268.0 196.2 L268.5 196.8 L269.0 195.6 L269.5 195.6 L270.0 196.1 L270.5 196.5 L271.0 196.9 L271.5 196.4 L272.0 196.6 L272.5 196.6 L273.0 196.8 L273.5 195.4 L274.0 196.4 L274.5 196.3 L275.0 195.6 L275.5 195.4 L276.0 196.3 L276.5 196.3 L277.0 195.6 L277.5 196.6 L278.0 195.4 L278.5 196.9 L279.0 195.7 L279.5 196.4 L280.0 196.2 L280.5 195.1 L281.0 196.8 L281.5 196.6 L282.0 195.7 L282.5 195.9 L283.0 196.4 L283.5 195.8 L284.0 196.1 L284.5 195.5 L285.0 196.1 L285.5 196.6 L286.0 196.7 L286.5 196.8 L287.0 196.8 L287.5 196.8 L288.0 195.2 L288.5 196.8 L289.0 196.2 L289.5 196.8 L290.0 195.2 L290.5 196.4 L291.0 196.8 L291.5 195.7 L292.0 195.6 L292.5 195.2 L293.0 196.8 L293.5 196.6 L294.0 196.1 L294.5 196.7 L295.0 196.3 L295.5 196.0 L296.0 195.9 L296.5 195.7 L297.0 195.9 L297.5 196.7 L298.0 195.9 L298.5 196.5 L299.0 196.8 L299.5 196.9 L300.0 196.2 L300.5 196.6 L301.0 196.8 L301.5 196.4 L302.0 196.6 L302.5 196.7 L303.0 196.3 L303.5 196.3 L304.0 196.4 L304.5 195.2 L305.0 195.4 L305.5 196.7 L306.0 195.5 L306.5 196.7 L307.0 195.3 L307.5 196.8 L308.0 196.7 L308.5 195.3 L309.0 195.9 L309.5 194.7 L310.0 192.3 L310.5 188.2 L311.0 186.6 L311.5 192.2 L312.0 195.5 L312.5 196.3 L313.0 195.7 L313.5 196.0 L314.0 195.1 L314.5 195.8 L315.0 196.5 L315.5 195.4 L316.0 196.7 L316.5 196.8 L317.0 195.2 L317.5 195.5 L318.0 196.1 L318.5 196.5 L319.0 196.8 L319.5 196.8 L320.0 196.8 L320.5 196.8 L321.0 196.5 L321.5 195.4 L322.0 195.3 L322.5 196.4 L323.0 196.1 L323.5 196.5 L324.0 195.8 L324.5 196.0 L325.0 195.2 L325.5 195.6 L326.0 196.1 L326.5 196.2 L327.0 196.8 L327.5 196.5 L328.0 196.5 L328.5 196.8 L329.0 196.8 L329.5 196.6 L330.0 196.8 L330.5 196.2 L331.0 196.7 L331.5 195.1 L332.0 196.0 L332.5 196.4 L333.0 196.5 L333.5 196.6 L334.0 196.8 L334.5 195.2 L335.0 195.4 L335.5 196.1 L336.0 196.1 L336.5 196.8 L337.0 196.3 L337.5 196.8 L338.0 196.7 L338.5 196.3 L339.0 196.8 L339.5 196.8 L340.0 195.9 L340.5 196.4 L341.0 195.5 L341.5 196.8 L342.0 196.8 L342.5 195.3 L343.0 196.2 L343.5 196.0 L344.0 196.3 L344.5 196.8 L345.0 195.2 L345.5 196.4 L346.0 195.4 L346.5 196.8 L347.0 196.7M353.5 195.6 L354.0 196.8 L354.5 196.8 L355.0 196.5 L355.5 195.6 L356.0 196.8 L356.5 196.8 L357.0 195.4 L357.5 196.9 L358.0 195.9 L358.5 196.8 L359.0 196.7 L359.5 196.8 L360.0 196.5 L360.5 195.4 L361.0 195.6 L361.5 196.4 L362.0 196.8 L362.5 196.8 L363.0 196.7 L363.5 195.8 L364.0 195.4 L364.5 196.9 L365.0 196.7 L365.5 195.2 L366.0 196.8 L366.5 196.8 L367.0 196.7 L367.5 195.5 L368.0 196.7 L368.5 195.9 L369.0 196.8 L369.5 196.1 L370.0 196.8 L370.5 196.2 L371.0 195.9 L371.5 195.5 L372.0 196.5 L372.5 195.2 L373.0 196.6 L373.5 195.3 L374.0 195.4 L374.5 195.1 L375.0 196.8 L375.5 196.7 L376.0 196.0 L376.5 195.5 L377.0 196.7 L377.5 195.8 L378.0 196.5 L378.5 196.9 L379.0 196.8 L379.5 196.9 L380.0 196.8 L380.5 195.3 L381.0 196.0 L381.5 195.6 L382.0 195.4 L382.5 196.6 L383.0 196.0 L383.5 196.1 L384.0 196.0 L384.5 196.8 L385.0 195.5 L385.5 196.8 L386.0 196.5 L386.5 196.0 L387.0 195.9 L387.5 195.7 L388.0 196.7 L388.5 196.7 L389.0 195.9 L389.5 196.8 L390.0 195.5 L390.5 196.7 L391.0 196.6 L391.5 196.7 L392.0 196.0 L392.5 196.8 L393.0 196.8 L393.5 196.8 L394.0 196.8 L394.5 196.2 L395.0 195.1 L395.5 196.9 L396.0 196.5 L396.5 196.6 L397.0 196.7 L397.5 196.6 L398.0 196.8 L398.5 196.5 L399.0 196.7 L399.5 196.8 L400.0 196.8 L400.5 195.3 L401.0 196.0 L401.5 195.2 L402.0 195.7 L402.5 195.9 L403.0 196.8 L403.5 196.8 L404.0 195.2 L404.5 196.0 L405.0 195.9 L405.5 196.8 L406.0 195.8 L406.5 196.4 L407.0 196.8 L407.5 196.8 L408.0 195.2 L408.5 196.2 L409.0 196.8 L409.5 196.8 L410.0 195.9 L410.5 196.6 L411.0 196.5 L411.5 196.8 L412.0 196.8 L412.5 196.4 L413.0 196.5 L413.5 196.8 L414.0 196.8 L414.5 196.5 L415.0 196.8 L415.5 196.8 L416.0 196.5 L416.5 196.8 L417.0 195.9 L417.5 195.8 L418.0 196.0 L418.5 195.3 L419.0 196.8 L419.5 196.5 L420.0 196.6 L420.5 196.8 L421.0 195.6 L421.5 196.9 L422.0 195.2 L422.5 196.1 L423.0 195.2 L423.5 196.8 L424.0 195.5 L424.5 195.2 L425.0 195.8 L425.5 196.3 L426.0 196.1 L426.5 196.4 L427.0 195.6 L427.5 196.3 L428.0 196.3 L428.5 196.6 L429.0 196.2 L429.5 196.3 L430.0 195.3 L430.5 195.8 L431.0 196.7 L431.5 195.9 L432.0 196.8 L432.5 196.4 L433.0 196.4 L433.5 195.9 L434.0 196.8 L434.5 196.8 L435.0 196.8 L435.5 196.2 L436.0 196.8 L436.5 196.3 L437.0 195.5 L437.5 196.5 L438.0 196.8 L438.5 196.2 L439.0 196.6 L439.5 196.5 L440.0 196.8 L440.5 196.0 L441.0 196.6 L441.5 195.2 L442.0 196.4 L442.5 196.0 L443.0 195.4 L443.5 195.2 L444.0 196.9 L444.5 195.3 L445.0 196.8 L445.5 195.2 L446.0 195.5 L446.5 196.0 L447.0 194.8 L447.5 195.3 L448.0 196.1 L448.5 196.1 L449.0 196.5 L449.5 196.1 L450.0 196.0 L450.5 196.9 L451.0 196.1 L451.5 196.0 L452.0 195.5 L452.5 196.4 L453.0 196.3 L453.5 196.8 L454.0 196.8 L454.5 195.5 L455.0 196.8 L455.5 195.4 L456.0 196.8 L456.5 196.6 L457.0 196.2 L457.5 196.9 L458.0 196.5 L458.5 195.7 L459.0 196.6 L459.5 196.8 L460.0 196.8 L460.5 195.3 L461.0 196.8 L461.5 196.1 L462.0 196.1 L462.5 196.7 L463.0 196.3 L463.5 196.0 L464.0 196.8 L464.5 196.7 L465.0 195.4 L465.5 196.8 L466.0 196.4 L466.5 196.5 L467.0 195.8 L467.5 195.6 L468.0 195.8 L468.5 196.2 L469.0 196.3 L469.5 196.8 L470.0 196.3 L470.5 196.5 L471.0 195.9 L471.5 196.6 L472.0 196.8 L472.5 196.6 L473.0 195.6 L473.5 196.4 L474.0 196.1 L474.5 196.8 L475.0 196.8 L475.5 196.7 L476.0 196.4 L476.5 196.8 L477.0 195.3 L477.5 196.7 L478.0 196.9 L478.5 196.8 L479.0 196.4 L479.5 196.2 L480.0 195.7 L480.5 196.8 L481.0 195.2 L481.5 195.6 L482.0 196.4 L482.5 196.1 L483.0 196.7 L483.5 196.8 L484.0 196.9 L484.5 195.2 L485.0 195.5 L485.5 196.5 L486.0 196.2 L486.5 196.5 L487.0 196.0 L487.5 196.8 L488.0 195.9 L488.5 196.8 L489.0 196.2 L489.5 196.2 L490.0 195.6 L490.5 196.2 L491.0 196.8 L491.5 195.7 L492.0 196.6 L492.5 196.3 L493.0 195.7 L493.5 195.2 L494.0 196.8 L494.5 196.5 L495.0 196.7 L495.5 195.6 L496.0 196.6 L496.5 195.4 L497.0 195.8 L497.5 196.5 L498.0 195.8 L498.5 196.0 L499.0 196.8 L499.5 196.7 L500.0 196.8 L500.5 195.6 L501.0 196.6 L501.5 196.7 L502.0 196.0 L502.5 195.2 L503.0 196.8 L503.5 196.0 L504.0 196.8 L504.5 195.8 L505.0 195.9 L505.5 195.8 L506.0 196.3 L506.5 196.8 L507.0 195.6 L507.5 196.8 L508.0 196.3 L508.5 195.2 L509.0 196.7 L509.5 196.4 L510.0 196.1 L510.5 196.1 L511.0 196.7 L511.5 196.6 L512.0 195.5 L512.5 196.0 L513.0 196.8 L513.5 196.0 L514.0 195.6 L514.5 196.2 L515.0 195.5 L515.5 196.7 L516.0 196.7 L516.5 195.5 L517.0 196.7 L517.5 196.8 L518.0 196.8 L518.5 195.5 L519.0 195.7 L519.5 196.8 L520.0 195.9 L520.5 196.8 L521.0 196.2 L521.5 196.9 L522.0 196.3 L522.5 195.9 L523.0 196.4 L523.5 196.2 L524.0 196.8 L524.5 196.5 L525.0 195.8 L525.5 196.6 L526.0 195.9 L526.5 196.2 L527.0 195.7 L527.5 195.9 L528.0 196.7 L528.5 195.7 L529.0 195.7 L529.5 196.5 L530.0 196.0 L530.5 196.6 L531.0 196.3 L531.5 196.7 L532.0 196.5 L532.5 196.7 L533.0 195.5 L533.5 196.2 L534.0 196.2 L534.5 196.4 L535.0 196.5 L535.5 196.8 L536.0 196.1 L536.5 196.5 L537.0 196.6 L537.5 196.4 L538.0 196.8 L538.5 196.1 L539.0 195.8 L539.5 196.6 L540.0 196.8 L540.5 195.2 L541.0 196.2 L541.5 196.7 L542.0 196.8 L542.5 196.3 L543.0 196.8 L543.5 195.4 L544.0 196.0 L544.5 196.7 L545.0 196.6 L545.5 196.8 L546.0 196.8 L546.5 196.3 L547.0 195.5 L547.5 196.5 L548.0 195.2 L548.5 196.7 L549.0 196.8 L549.5 195.6 L550.0 196.6 L550.5 196.7 L551.0 196.5 L551.5 196.2 L552.0 196.8 L552.5 196.8 L553.0 196.2 L553.5 196.1 L554.0 196.3 L554.5 196.8 L555.0 195.6 L555.5 196.5 L556.0 196.3 L556.5 195.5 L557.0 196.8 L557.5 196.4 L558.0 196.5 L558.5 196.1 L559.0 196.8 L559.5 196.8 L560.0 196.8 L560.5 196.3 L561.0 196.7 L561.5 195.4 L562.0 195.5 L562.5 195.9 L563.0 196.6 L563.5 195.7 L564.0 196.3 L564.5 195.8 L565.0 195.3 L565.5 196.8 L566.0 195.8 L566.5 195.4 L567.0 196.6 L567.5 196.6 L568.0 196.9 L568.5 195.5 L569.0 196.8 L569.5 196.9 L570.0 196.8 L570.5 196.4 L571.0 196.0 L571.5 195.4 L572.0 196.1 L572.5 196.8 L573.0 195.3 L573.5 195.5 L574.0 195.7 L574.5 195.4 L575.0 195.6 L575.5 196.0 L576.0 195.8 L576.5 196.9 L577.0 195.1 L577.5 196.9 L578.0 196.5 L578.5 196.3 L579.0 196.4 L579.5 196.7 L580.0 196.4 L580.5 196.7 L581.0 196.1 L581.5 196.9 L582.0 196.6 L582.5 196.1 L583.0 196.5 L583.5 196.9 L584.0 196.5 L584.5 195.3 L585.0 196.4 L585.5 195.9 L586.0 196.6 L586.5 195.2 L587.0 196.4 L587.5 195.7 L588.0 196.2 L588.5 195.7 L589.0 196.6 L589.5 195.3 L590.0 195.1 L590.5 195.4 L591.0 195.4 L591.5 196.6 L592.0 196.7 L592.5 195.5 L593.0 195.7 L593.5 196.2 L594.0 196.3 L594.5 196.9 L595.0 196.3 L595.5 196.8 L596.0 196.4 L596.5 196.8 L597.0 196.2 L597.5 196.8 L598.0 196.7" stroke="#000" stroke-width="1"/>
<path d="M346.9 197.3V0M352.9 197.3V0" stroke="#843c3c" stroke-width="1.3"/>
</g>
<g clip-path="url(#cb)" fill="none">
<path d="M38 363.3 L43.6 363.3 L43.6 359.3 L51.2 359.3 L51.2 361.1 L58.7 361.1 L58.7 365.8 L66.3 365.8 L66.3 367.3 L73.9 367.3 L73.9 345.1 L81.5 345.1 L81.5 347.2 L89.1 347.2 L89.1 332.5 L96.7 332.5 L96.7 351.4 L104.2 351.4 L104.2 324.2 L111.8 324.2 L111.8 351.4 L119.4 351.4 L119.4 360.2 L127 360.2 L127 358.5 L134.6 358.5 L134.6 368.2 L142.2 368.2 L142.2 365.5 L149.8 365.5 L149.8 358 L157.3 358 L157.3 365.5 L164.9 365.5 L164.9 358 L172.5 358 L172.5 373 L180.1 373 L180.1 368.7 L187.7 368.7 L187.7 364.7 L195.3 364.7 L195.3 355.8 L202.9 355.8 L202.9 363.9 L210.4 363.9 L210.4 351.8 L218 351.8 L218 359.8 L225.6 359.8 L225.6 362.5 L233.2 362.5 L233.2 348.5 L240.8 348.5 L240.8 364.2 L248.4 364.2 L248.4 360.6 L255.9 360.6 L255.9 365.5 L263.5 365.5 L263.5 363.3 L271.1 363.3 L271.1 355.8 L278.7 355.8 L278.7 367.9 L286.3 367.9 L286.3 363.3 L293.9 363.3 L293.9 360.6 L301.5 360.6 L301.5 359.3 L309 359.3 L309 352 L316.6 352 L316.6 358.5 L324.2 358.5 L324.2 337 L331.8 337 L331.8 342.5 L339.4 342.5 L339.4 362 L347 362 L347 350 L354.6 350 L354.6 365 L362.1 365 L362.1 372.5 L369.7 372.5 L369.7 365.5 L377.3 365.5 L377.3 362 L384.9 362 L384.9 357.5 L392.5 357.5 L392.5 361.2 L400.1 361.2 L400.1 364.5 L407.7 364.5 L407.7 359.5 L415.2 359.5 L415.2 356.8 L422.8 356.8 L422.8 356.8 L430.4 356.8 L430.4 365.5 L438 365.5 L438 361.2 L445.6 361.2 L445.6 343.8 L453.2 343.8 L453.2 357.5 L460.7 357.5 L460.7 358 L468.3 358 L468.3 349.9 L475.9 349.9 L475.9 352.6 L483.5 352.6 L483.5 341.8 L491.1 341.8 L491.1 352.6 L498.7 352.6 L498.7 335 L506.3 335 L506.3 333.7 L513.8 333.7 L513.8 345.3 L521.4 345.3 L521.4 328.3 L529 328.3 L529 339.9 L536.6 339.9 L536.6 340.4 L544.2 340.4 L544.2 337.7 L551.8 337.7 L551.8 342.6 L559.4 342.6 L559.4 339.9 L566.9 339.9 L566.9 342.6 L574.5 342.6 L574.5 347.2 L582.1 347.2 L582.1 336.4 L589.7 336.4 L589.7 341.8 L597.3 341.8 L597.3 340 L598 340" stroke="#6a6a6a" stroke-width="1.15"/>
<path d="M38.0 413.3 L38.1 407.9 L38.3 404.4 L38.4 414.4 L38.6 409.3 L38.7 409.6 L38.9 409.7 L39.0 415.0 L39.2 412.8 L39.3 408.8 L39.5 409.9 L39.6 412.0 L39.8 403.5 L39.9 405.1 L40.1 407.8 L40.2 413.5 L40.4 408.7 L40.5 409.6 L40.7 410.1 L40.8 409.8 L41.0 413.3 L41.1 409.7 L41.3 406.8 L41.4 410.7 L41.6 409.9 L41.7 412.4 L41.9 407.6 L42.0 406.8 L42.2 410.2 L42.3 406.4 L42.5 410.0 L42.6 416.9 L42.8 407.1 L42.9 409.2 L43.1 404.8 L43.2 411.4 L43.4 409.2 L43.5 416.1 L43.7 409.8 L43.8 413.9 L44.0 401.2 L44.1 409.9 L44.3 413.4 L44.4 407.8 L44.6 410.5 L44.7 410.8 L44.9 414.4 L45.0 408.3 L45.2 411.9 L45.3 408.5 L45.5 407.2 L45.6 414.8 L45.8 413.1 L45.9 413.3 L46.1 407.4 L46.2 408.7 L46.4 410.5 L46.5 409.0 L46.7 408.2 L46.8 407.0 L47.0 414.6 L47.1 412.1 L47.3 414.1 L47.4 406.6 L47.6 410.9 L47.7 411.8 L47.9 409.5 L48.0 409.0 L48.2 412.3 L48.3 403.4 L48.5 409.8 L48.6 414.8 L48.8 408.4 L48.9 408.0 L49.1 412.0 L49.2 406.0 L49.4 408.2 L49.5 415.2 L49.7 410.6 L49.8 409.2 L50.0 409.8 L50.1 402.8 L50.3 406.1 L50.4 410.4 L50.6 402.7 L50.7 405.8 L50.9 404.2 L51.0 409.2 L51.2 411.9 L51.3 410.3 L51.5 405.4 L51.6 408.5 L51.8 413.7 L51.9 406.8 L52.1 407.9 L52.2 406.3 L52.4 412.6 L52.5 409.6 L52.7 406.0 L52.8 412.1 L53.0 417.8 L53.1 409.0 L53.3 407.1 L53.4 406.1 L53.6 413.6 L53.7 407.7 L53.9 416.0 L54.0 411.8 L54.2 413.0 L54.3 407.9 L54.5 404.6 L54.6 413.8 L54.8 413.7 L54.9 410.6 L55.1 410.2 L55.2 411.8 L55.4 410.9 L55.5 402.5 L55.7 398.5 L55.8 405.5 L56.0 403.9 L56.1 406.8 L56.3 407.8 L56.4 405.9 L56.6 409.9 L56.7 409.3 L56.9 400.1 L57.0 399.9 L57.2 398.7 L57.3 388.5 L57.5 385.0 L57.6 372.4 L57.8 359.2 L57.9 327.5 L58.1 313.6 L58.2 311.9 L58.4 314.7 L58.5 346.5 L58.7 353.9 L58.8 361.2 L59.0 365.2 L59.1 370.4 L59.3 371.0 L59.4 380.2 L59.6 381.6 L59.7 378.5 L59.9 389.1 L60.0 391.1 L60.2 394.1 L60.3 395.3 L60.5 404.3 L60.6 401.4 L60.8 399.6 L60.9 404.3 L61.1 404.8 L61.2 406.2 L61.4 405.9 L61.5 409.7 L61.7 404.5 L61.8 410.1 L62.0 410.6 L62.1 410.7 L62.3 410.3 L62.4 406.6 L62.6 408.0 L62.7 403.2 L62.9 408.8 L63.0 413.1 L63.2 415.0 L63.3 407.4 L63.5 405.6 L63.6 412.4 L63.8 401.4 L63.9 402.0 L64.1 407.9 L64.2 408.7 L64.4 406.0 L64.5 403.5 L64.7 414.7 L64.8 408.7 L65.0 406.6 L65.1 412.4 L65.3 412.3 L65.4 409.1 L65.6 404.5 L65.7 414.4 L65.9 409.7 L66.0 410.9 L66.2 418.8 L66.3 410.6 L66.5 415.5 L66.6 413.2 L66.8 414.8 L66.9 407.3 L67.1 406.4 L67.2 414.3 L67.4 411.9 L67.5 407.8 L67.7 408.0 L67.8 406.4 L68.0 407.8 L68.1 408.3 L68.3 407.9 L68.4 405.1 L68.6 406.5 L68.7 404.9 L68.9 411.9 L69.0 404.4 L69.2 409.5 L69.3 407.8 L69.5 405.9 L69.6 404.3 L69.8 410.8 L69.9 411.1 L70.1 401.0 L70.2 414.4 L70.4 410.3 L70.5 406.7 L70.7 409.7 L70.9 407.7 L71.0 404.0 L71.2 403.3 L71.3 405.7 L71.5 404.4 L71.6 411.0 L71.8 409.9 L71.9 407.7 L72.1 404.6 L72.2 403.6 L72.4 402.6 L72.5 402.5 L72.7 407.1 L72.8 405.1 L73.0 401.3 L73.1 404.0 L73.3 407.4 L73.4 402.7 L73.6 408.9 L73.7 411.0 L73.9 408.2 L74.0 402.4 L74.2 408.6 L74.3 400.1 L74.5 405.7 L74.6 411.1 L74.8 412.6 L74.9 402.8 L75.1 404.9 L75.2 401.3 L75.4 405.4 L75.5 403.2 L75.7 408.2 L75.8 401.0 L76.0 399.7 L76.1 412.2 L76.3 411.3 L76.4 406.1 L76.6 410.9 L76.7 406.4 L76.9 410.3 L77.0 410.0 L77.2 409.7 L77.3 404.7 L77.5 406.7 L77.6 405.2 L77.8 410.4 L77.9 408.1 L78.1 405.8 L78.2 410.0 L78.4 412.5 L78.5 410.6 L78.7 409.6 L78.8 408.0 L79.0 409.9 L79.1 411.5 L79.3 409.3 L79.4 410.1 L79.6 413.1 L79.7 409.6 L79.9 413.3 L80.0 409.3 L80.2 408.5 L80.3 417.8 L80.5 413.1 L80.6 409.0 L80.8 411.5 L80.9 407.7 L81.1 409.1 L81.2 408.8 L81.4 403.5 L81.5 411.3 L81.7 408.9 L81.8 409.3 L82.0 416.6 L82.1 410.6 L82.3 407.6 L82.4 405.1 L82.6 405.3 L82.7 409.7 L82.9 409.3 L83.0 407.6 L83.2 407.0 L83.3 410.3 L83.5 407.0 L83.6 402.9 L83.8 410.2 L83.9 403.2 L84.1 388.4 L84.2 383.3 L84.4 374.0 L84.5 362.3 L84.7 363.5 L84.8 346.4 L85.0 338.8 L85.1 338.9 L85.3 320.4 L85.4 306.5 L85.6 304.0 L85.7 299.8 L85.9 279.6 L86.0 282.7 L86.2 270.6 L86.3 256.6 L86.5 254.2 L86.6 247.3 L86.8 232.2 L86.9 227.4 L87.1 217.6 L87.2 206.6 L87.4 186.9 L87.5 168.2 L87.7 141.1 L87.8 113.2 L88.0 88.9 L88.1 70.8 L88.3 47.6 L88.4 64.0 L88.6 82.7 L88.7 117.1 L88.9 143.9 L89.0 165.7 L89.2 181.9 L89.3 204.0 L89.5 208.9 L89.6 218.3 L89.8 232.5 L89.9 244.0 L90.1 253.2 L90.2 259.2 L90.4 265.8 L90.5 279.9 L90.7 285.2 L90.8 301.4 L91.0 300.7 L91.1 312.0 L91.3 317.7 L91.4 328.3 L91.6 339.5 L91.7 352.2 L91.9 355.1 L92.0 368.0 L92.2 371.8 L92.3 379.0 L92.5 389.6 L92.6 401.8 L92.8 407.9 L92.9 406.9 L93.1 407.7 L93.2 414.4 L93.4 410.7 L93.5 412.8 L93.7 410.1 L93.8 413.1 L94.0 409.0 L94.1 415.4 L94.3 412.7 L94.4 405.7 L94.6 414.6 L94.7 408.1 L94.9 414.2 L95.0 407.1 L95.2 409.0 L95.3 407.2 L95.5 418.1 L95.6 411.6 L95.8 414.0 L95.9 413.7 L96.1 407.8 L96.2 405.5 L96.4 413.1 L96.5 411.7 L96.7 407.8 L96.8 414.1 L97.0 415.0 L97.1 406.6 L97.3 410.4 L97.4 405.9 L97.6 389.8 L97.7 375.8 L97.9 365.1 L98.0 346.2 L98.2 330.6 L98.3 317.4 L98.5 303.0 L98.6 289.9 L98.8 273.8 L98.9 260.8 L99.1 247.1 L99.2 220.6 L99.4 205.1 L99.5 180.3 L99.7 154.1 L99.8 117.3 L100.0 81.9 L100.1 63.8 L100.3 82.8 L100.4 110.5 L100.6 151.1 L100.7 184.3 L100.9 203.9 L101.0 222.3 L101.2 237.5 L101.3 259.3 L101.5 275.2 L101.6 290.0 L101.8 299.1 L101.9 317.0 L102.1 331.8 L102.2 342.9 L102.4 342.8 L102.5 351.0 L102.7 343.9 L102.8 346.7 L103.0 342.3 L103.1 321.4 L103.3 312.7 L103.4 304.5 L103.6 289.3 L103.7 275.9 L103.9 261.7 L104.0 247.7 L104.2 239.0 L104.3 226.2 L104.5 208.8 L104.6 183.5 L104.8 155.0 L104.9 122.7 L105.1 100.7 L105.2 71.4 L105.4 61.6 L105.5 91.8 L105.7 120.7 L105.8 150.0 L106.0 183.7 L106.1 204.2 L106.3 216.9 L106.4 227.9 L106.6 246.4 L106.7 257.9 L106.9 270.5 L107.0 284.8 L107.2 295.0 L107.3 311.9 L107.5 317.1 L107.6 336.5 L107.8 349.0 L107.9 363.1 L108.1 378.6 L108.2 392.0 L108.4 398.8 L108.5 406.8 L108.7 415.4 L108.8 407.2 L109.0 410.5 L109.1 408.2 L109.3 416.3 L109.4 407.4 L109.6 410.3 L109.7 408.8 L109.9 406.9 L110.0 408.5 L110.2 407.8 L110.3 407.8 L110.5 408.8 L110.6 410.4 L110.8 404.6 L110.9 411.5 L111.1 407.0 L111.2 405.1 L111.4 406.9 L111.5 400.3 L111.7 411.5 L111.8 406.3 L112.0 410.8 L112.1 410.5 L112.3 413.2 L112.4 402.8 L112.6 404.4 L112.7 407.9 L112.9 403.6 L113.0 398.1 L113.2 409.3 L113.3 410.1 L113.5 409.3 L113.6 405.1 L113.8 413.7 L113.9 406.3 L114.1 406.1 L114.2 405.7 L114.4 409.9 L114.5 413.4 L114.7 404.1 L114.8 416.4 L115.0 417.6 L115.1 411.7 L115.3 411.8 L115.4 409.4 L115.6 409.6 L115.7 407.9 L115.9 412.0 L116.0 409.7 L116.2 410.5 L116.3 407.2 L116.5 407.6 L116.6 412.3 L116.8 410.0 L116.9 413.8 L117.1 403.7 L117.2 402.2 L117.4 403.3 L117.5 401.0 L117.7 401.0 L117.8 398.8 L118.0 387.1 L118.1 385.8 L118.3 382.7 L118.4 365.3 L118.6 369.3 L118.7 363.2 L118.9 361.4 L119.0 358.6 L119.2 354.0 L119.3 359.2 L119.5 350.5 L119.6 357.2 L119.8 360.6 L119.9 360.4 L120.1 366.5 L120.2 371.6 L120.4 374.7 L120.5 371.6 L120.7 378.3 L120.8 379.4 L121.0 387.6 L121.1 384.0 L121.3 378.1 L121.4 379.0 L121.6 371.9 L121.7 365.5 L121.9 354.5 L122.0 359.4 L122.2 348.8 L122.3 352.9 L122.5 347.7 L122.6 350.1 L122.8 346.0 L122.9 346.5 L123.1 345.0 L123.2 353.4 L123.4 354.0 L123.5 366.3 L123.7 377.5 L123.8 373.8 L124.0 383.2 L124.1 385.1 L124.3 393.1 L124.4 393.0 L124.6 398.0 L124.7 397.7 L124.9 406.3 L125.0 403.8 L125.2 406.0 L125.3 403.5 L125.5 413.0 L125.6 410.4 L125.8 408.5 L125.9 409.7 L126.1 405.4 L126.2 407.1 L126.4 405.3 L126.5 408.1 L126.7 409.6 L126.8 412.1 L127.0 413.7 L127.1 403.4 L127.3 412.0 L127.4 405.5 L127.6 410.5 L127.7 408.5 L127.9 411.2 L128.0 404.6 L128.2 410.6 L128.3 408.1 L128.5 407.5 L128.6 406.5 L128.8 413.5 L128.9 408.8 L129.1 407.1 L129.2 412.4 L129.4 409.0 L129.5 399.0 L129.7 402.6 L129.8 408.1 L130.0 405.8 L130.1 408.9 L130.3 414.3 L130.4 413.7 L130.6 409.9 L130.7 407.8 L130.9 400.9 L131.0 408.9 L131.2 410.6 L131.3 412.3 L131.5 412.7 L131.6 404.9 L131.8 404.7 L131.9 408.1 L132.1 407.3 L132.2 412.2 L132.4 403.3 L132.5 408.2 L132.7 410.7 L132.8 409.3 L133.0 402.5 L133.1 408.6 L133.3 407.0 L133.4 406.9 L133.6 403.8 L133.7 409.9 L133.9 410.9 L134.0 408.8 L134.2 412.6 L134.3 409.2 L134.5 403.4 L134.6 408.3 L134.8 403.6 L134.9 412.4 L135.1 412.0 L135.2 408.6 L135.4 409.4 L135.5 407.4 L135.7 409.2 L135.8 411.3 L136.0 411.9 L136.1 413.4 L136.3 409.3 L136.4 409.9 L136.6 408.0 L136.7 408.5 L136.9 408.8 L137.0 410.6 L137.2 406.3 L137.3 412.3 L137.5 409.9 L137.6 403.3 L137.8 408.7 L137.9 405.2 L138.1 411.3 L138.2 406.2 L138.4 415.0 L138.5 411.0 L138.7 408.5 L138.8 410.0 L139.0 406.7 L139.1 417.3 L139.3 408.0 L139.4 407.6 L139.6 405.8 L139.7 410.6 L139.9 407.6 L140.0 401.7 L140.2 412.3 L140.3 408.6 L140.5 409.4 L140.6 407.4 L140.8 406.9 L140.9 411.5 L141.1 414.4 L141.2 406.4 L141.4 409.9 L141.5 412.9 L141.7 419.9 L141.8 411.9 L142.0 405.4 L142.1 408.2 L142.3 405.4 L142.4 410.0 L142.6 406.0 L142.7 412.3 L142.9 403.9 L143.0 410.8 L143.2 405.2 L143.3 412.6 L143.5 413.6 L143.6 411.5 L143.8 409.2 L143.9 410.2 L144.1 408.0 L144.2 413.8 L144.4 411.5 L144.5 412.8 L144.7 412.3 L144.8 408.0 L145.0 410.5 L145.1 412.6 L145.3 416.5 L145.4 410.6 L145.6 406.3 L145.7 409.1 L145.9 410.0 L146.0 411.2 L146.2 408.7 L146.3 410.5 L146.5 410.2 L146.6 408.2 L146.8 410.5 L146.9 414.2 L147.1 410.7 L147.2 409.3 L147.4 411.2 L147.5 406.2 L147.7 409.1 L147.8 413.6 L148.0 409.9 L148.1 402.7 L148.3 414.7 L148.4 410.2 L148.6 407.6 L148.7 405.1 L148.9 413.6 L149.0 413.9 L149.2 408.3 L149.3 411.1 L149.5 409.3 L149.6 413.7 L149.8 408.2 L149.9 410.9 L150.1 404.2 L150.2 407.6 L150.4 406.2 L150.5 410.4 L150.7 411.9 L150.8 407.1 L151.0 409.9 L151.1 415.3 L151.3 410.2 L151.4 414.8 L151.6 408.3 L151.7 408.7 L151.9 408.8 L152.0 409.9 L152.2 409.6 L152.3 407.3 L152.5 407.4 L152.6 405.2 L152.8 405.1 L152.9 408.1 L153.1 408.3 L153.2 414.0 L153.4 410.0 L153.5 410.4 L153.7 407.2 L153.8 410.2 L154.0 407.0 L154.1 410.3 L154.3 407.7 L154.4 413.9 L154.6 403.9 L154.7 405.8 L154.9 409.9 L155.0 404.5 L155.2 404.2 L155.3 406.2 L155.5 408.7 L155.6 403.8 L155.8 400.0 L155.9 408.4 L156.1 402.7 L156.2 403.4 L156.4 401.9 L156.5 404.6 L156.7 409.5 L156.8 408.4 L157.0 408.6 L157.1 402.7 L157.3 406.4 L157.4 411.1 L157.6 409.3 L157.7 406.8 L157.9 405.1 L158.0 408.7 L158.2 406.7 L158.3 408.6 L158.5 416.7 L158.6 409.6 L158.8 411.2 L158.9 410.7 L159.1 410.0 L159.2 412.1 L159.4 407.9 L159.5 407.7 L159.7 413.4 L159.8 415.0 L160.0 411.2 L160.1 411.3 L160.3 410.1 L160.4 411.8 L160.6 412.6 L160.7 410.9 L160.9 406.8 L161.0 411.1 L161.2 401.9 L161.3 410.7 L161.5 411.6 L161.6 410.1 L161.8 409.1 L161.9 412.0 L162.1 405.6 L162.2 402.4 L162.4 413.2 L162.5 411.0 L162.7 405.5 L162.8 407.8 L163.0 401.9 L163.1 410.4 L163.3 411.9 L163.4 402.0 L163.6 406.1 L163.7 395.9 L163.9 404.9 L164.0 399.0 L164.2 406.4 L164.3 403.8 L164.5 400.8 L164.6 402.7 L164.8 401.1 L164.9 403.9 L165.1 404.2 L165.2 402.7 L165.4 403.9 L165.5 405.6 L165.7 406.9 L165.8 403.2 L166.0 408.3 L166.1 400.1 L166.3 405.4 L166.4 411.0 L166.6 411.5 L166.7 408.2 L166.9 407.1 L167.0 408.5 L167.2 409.0 L167.3 410.6 L167.5 411.2 L167.6 411.3 L167.8 405.3 L167.9 409.0 L168.1 415.4 L168.2 402.1 L168.4 409.3 L168.5 412.3 L168.7 410.3 L168.8 404.6 L169.0 407.8 L169.1 406.5 L169.3 410.1 L169.4 405.8 L169.6 405.6 L169.7 408.6 L169.9 413.7 L170.0 404.0 L170.2 409.9 L170.3 410.9 L170.5 411.8 L170.6 402.4 L170.8 410.1 L170.9 409.2 L171.1 412.5 L171.2 409.7 L171.4 412.6 L171.5 409.0 L171.7 409.2 L171.8 414.8 L172.0 410.3 L172.1 412.8 L172.3 411.3 L172.4 408.5 L172.6 410.6 L172.7 416.1 L172.9 413.2 L173.0 404.6 L173.2 414.6 L173.3 411.1 L173.5 411.0 L173.6 410.0 L173.8 407.8 L173.9 410.9 L174.1 409.8 L174.2 404.7 L174.4 411.9 L174.5 413.7 L174.7 410.0 L174.8 409.7 L175.0 412.1 L175.1 408.6 L175.3 410.8 L175.4 402.6 L175.6 408.1 L175.7 404.9 L175.9 407.9 L176.0 404.2 L176.2 415.6 L176.3 414.7 L176.5 411.4 L176.6 411.3 L176.8 410.2 L176.9 418.6 L177.1 406.1 L177.2 403.5 L177.4 406.5 L177.5 411.1 L177.7 405.3 L177.8 410.3 L178.0 399.9 L178.1 409.6 L178.3 407.8 L178.4 413.5 L178.6 409.5 L178.7 411.0 L178.9 408.9 L179.0 409.8 L179.2 411.0 L179.3 409.5 L179.5 405.8 L179.6 414.1 L179.8 406.6 L179.9 407.1 L180.1 408.9 L180.2 407.6 L180.4 402.3 L180.5 406.9 L180.7 405.6 L180.8 407.4 L181.0 406.2 L181.1 407.7 L181.3 408.0 L181.4 412.9 L181.6 413.2 L181.7 414.3 L181.9 417.4 L182.0 409.7 L182.2 411.6 L182.3 410.3 L182.5 408.9 L182.6 410.3 L182.8 410.6 L182.9 407.3 L183.1 413.5 L183.2 411.7 L183.4 413.2 L183.5 415.2 L183.7 413.3 L183.8 410.7 L184.0 408.9 L184.1 406.8 L184.3 411.8 L184.4 413.5 L184.6 410.9 L184.7 408.1 L184.9 410.2 L185.0 409.5 L185.2 411.6 L185.3 417.6 L185.5 414.5 L185.6 412.4 L185.8 416.0 L185.9 408.4 L186.1 414.8 L186.2 411.9 L186.4 413.7 L186.5 412.3 L186.7 411.6 L186.8 410.7 L187.0 408.9 L187.1 417.4 L187.3 404.4 L187.4 411.3 L187.6 410.8 L187.7 412.0 L187.9 411.5 L188.0 406.4 L188.2 406.2 L188.3 407.0 L188.5 416.9 L188.6 406.6 L188.8 405.7 L188.9 406.6 L189.1 406.2 L189.2 407.6 L189.4 410.9 L189.5 401.5 L189.7 407.4 L189.8 407.2 L190.0 409.4 L190.1 407.5 L190.3 408.0 L190.4 401.5 L190.6 410.3 L190.7 408.6 L190.9 410.7 L191.0 403.8 L191.2 408.1 L191.3 410.2 L191.5 411.1 L191.6 407.8 L191.8 412.3 L191.9 407.2 L192.1 408.4 L192.2 405.2 L192.4 409.0 L192.5 415.5 L192.7 403.2 L192.8 407.8 L193.0 400.7 L193.1 400.2 L193.3 407.5 L193.4 412.6 L193.6 406.9 L193.7 407.4 L193.9 409.7 L194.0 411.2 L194.2 410.8 L194.3 414.8 L194.5 416.6 L194.6 407.7 L194.8 411.2 L194.9 407.6 L195.1 404.9 L195.2 413.1 L195.4 411.7 L195.5 406.2 L195.7 413.3 L195.8 410.1 L196.0 407.2 L196.1 403.6 L196.3 416.8 L196.4 411.0 L196.6 409.1 L196.7 412.3 L196.9 408.1 L197.0 409.2 L197.2 410.4 L197.3 409.3 L197.5 410.4 L197.6 408.9 L197.8 410.1 L197.9 410.9 L198.1 404.6 L198.2 411.7 L198.4 410.0 L198.5 407.2 L198.7 410.6 L198.8 408.7 L199.0 407.0 L199.1 409.0 L199.3 409.0 L199.4 403.6 L199.6 408.4 L199.7 406.7 L199.9 409.0 L200.0 405.4 L200.2 409.4 L200.3 412.5 L200.5 404.9 L200.6 406.7 L200.8 414.1 L200.9 408.7 L201.1 407.8 L201.2 405.3 L201.4 411.3 L201.5 406.7 L201.7 408.4 L201.8 408.7 L202.0 411.7 L202.1 407.6 L202.3 410.9 L202.4 409.4 L202.6 406.5 L202.7 409.1 L202.9 411.1 L203.0 411.7 L203.2 410.2 L203.3 413.6 L203.5 406.4 L203.6 412.0 L203.8 407.0 L203.9 410.7 L204.1 409.5 L204.2 415.6 L204.4 410.7 L204.5 409.9 L204.7 411.2 L204.8 409.3 L205.0 409.0 L205.1 408.4 L205.3 408.2 L205.4 405.5 L205.6 408.9 L205.7 409.1 L205.9 408.0 L206.0 407.6 L206.2 405.1 L206.3 408.5 L206.5 417.9 L206.6 411.3 L206.8 409.8 L206.9 406.9 L207.1 409.6 L207.2 405.4 L207.4 410.9 L207.5 406.8 L207.7 405.4 L207.8 407.1 L208.0 411.3 L208.1 408.4 L208.3 414.6 L208.4 413.2 L208.6 410.0 L208.7 410.1 L208.9 410.5 L209.0 413.2 L209.2 417.4 L209.3 406.9 L209.5 408.9 L209.6 413.8 L209.8 407.4 L209.9 405.3 L210.1 408.7 L210.2 412.9 L210.4 414.5 L210.5 408.9 L210.7 412.4 L210.8 413.9 L211.0 408.2 L211.1 410.8 L211.3 410.7 L211.4 412.9 L211.6 411.6 L211.7 410.2 L211.9 412.3 L212.0 407.1 L212.2 403.7 L212.3 412.0 L212.5 412.3 L212.6 411.1 L212.8 408.0 L212.9 414.9 L213.1 406.7 L213.2 414.3 L213.4 407.6 L213.5 412.7 L213.7 413.5 L213.8 405.7 L214.0 410.2 L214.1 407.6 L214.3 411.5 L214.4 407.7 L214.6 407.2 L214.7 409.0 L214.9 411.8 L215.0 410.6 L215.2 410.0 L215.3 409.8 L215.5 412.1 L215.6 412.4 L215.8 411.8 L215.9 412.8 L216.1 411.1 L216.2 409.2 L216.4 411.0 L216.5 407.2 L216.7 410.3 L216.8 409.8 L217.0 413.6 L217.1 404.3 L217.3 410.4 L217.4 409.7 L217.6 411.3 L217.7 406.7 L217.9 405.0 L218.0 409.6 L218.2 408.9 L218.3 408.1 L218.5 406.9 L218.6 405.8 L218.8 412.3 L218.9 406.8 L219.1 411.4 L219.2 407.8 L219.4 408.9 L219.5 410.6 L219.7 413.4 L219.8 410.3 L220.0 413.8 L220.1 409.7 L220.3 407.7 L220.4 402.9 L220.6 408.2 L220.7 409.8 L220.9 413.5 L221.0 407.2 L221.2 414.9 L221.3 408.7 L221.5 409.7 L221.6 408.0 L221.8 409.3 L221.9 406.5 L222.1 406.1 L222.2 411.7 L222.4 410.1 L222.5 409.1 L222.7 408.2 L222.8 409.0 L223.0 406.6 L223.1 409.6 L223.3 406.9 L223.4 409.2 L223.6 410.5 L223.7 409.2 L223.9 413.2 L224.0 405.8 L224.2 409.2 L224.3 413.2 L224.5 408.8 L224.6 408.0 L224.8 403.9 L224.9 402.0 L225.1 408.1 L225.2 407.3 L225.4 406.0 L225.5 401.7 L225.7 406.8 L225.8 404.9 L226.0 408.1 L226.1 405.1 L226.3 409.9 L226.4 408.5 L226.6 403.2 L226.7 403.7 L226.9 410.2 L227.0 408.6 L227.2 406.4 L227.3 408.8 L227.5 404.9 L227.6 402.4 L227.8 398.8 L227.9 410.0 L228.1 403.5 L228.2 409.5 L228.4 407.7 L228.5 404.5 L228.7 406.0 L228.8 406.2 L229.0 407.1 L229.1 407.3 L229.3 403.0 L229.4 406.3 L229.6 410.0 L229.7 411.0 L229.9 403.5 L230.0 404.4 L230.2 401.3 L230.3 410.6 L230.5 404.9 L230.6 404.8 L230.8 406.4 L230.9 403.6 L231.1 398.1 L231.2 402.2 L231.4 396.7 L231.5 400.9 L231.7 397.1 L231.8 399.8 L232.0 401.0 L232.1 394.3 L232.3 389.3 L232.4 375.0 L232.6 370.4 L232.7 351.4 L232.9 343.0 L233.0 330.9 L233.2 310.8 L233.3 309.4 L233.5 310.0 L233.6 315.5 L233.8 322.8 L233.9 335.2 L234.1 347.4 L234.2 367.5 L234.4 373.1 L234.5 381.2 L234.7 389.5 L234.8 391.6 L235.0 389.6 L235.1 403.4 L235.3 395.8 L235.4 397.9 L235.6 397.9 L235.7 406.3 L235.9 404.6 L236.0 403.0 L236.2 404.4 L236.3 399.0 L236.5 401.5 L236.6 402.7 L236.8 409.6 L236.9 407.1 L237.1 401.3 L237.2 405.9 L237.4 403.2 L237.5 399.4 L237.7 398.0 L237.8 389.2 L238.0 386.0 L238.1 380.6 L238.3 370.3 L238.4 363.0 L238.6 360.8 L238.7 351.0 L238.9 346.5 L239.0 338.5 L239.2 333.3 L239.3 336.3 L239.5 337.0 L239.6 344.9 L239.8 349.3 L239.9 359.7 L240.1 367.9 L240.2 377.4 L240.4 385.3 L240.5 385.0 L240.7 383.4 L240.8 385.6 L241.0 382.7 L241.1 383.2 L241.3 374.6 L241.4 371.7 L241.6 373.5 L241.7 375.8 L241.9 371.3 L242.0 376.6 L242.2 376.8 L242.3 385.2 L242.5 381.6 L242.6 384.0 L242.8 394.9 L242.9 392.8 L243.1 397.7 L243.2 403.6 L243.4 406.3 L243.5 403.2 L243.7 407.0 L243.8 406.0 L244.0 402.9 L244.1 403.2 L244.3 409.3 L244.4 409.6 L244.6 404.5 L244.7 406.4 L244.9 407.2 L245.0 407.4 L245.2 409.0 L245.3 403.4 L245.5 403.1 L245.6 406.8 L245.8 406.2 L245.9 405.1 L246.1 404.9 L246.2 410.2 L246.4 404.7 L246.5 402.4 L246.7 401.9 L246.8 406.9 L247.0 408.1 L247.1 411.2 L247.3 403.8 L247.4 403.4 L247.6 401.7 L247.7 411.3 L247.9 402.3 L248.0 407.3 L248.2 404.7 L248.3 409.3 L248.5 407.2 L248.6 403.6 L248.8 405.4 L248.9 407.2 L249.1 406.6 L249.2 405.8 L249.4 402.5 L249.5 402.6 L249.7 411.3 L249.8 407.6 L250.0 405.4 L250.1 398.7 L250.3 403.6 L250.4 402.6 L250.6 401.7 L250.7 403.2 L250.9 409.1 L251.0 409.8 L251.2 407.9 L251.3 404.5 L251.5 406.9 L251.6 401.4 L251.8 412.9 L251.9 398.2 L252.1 403.9 L252.2 408.8 L252.4 409.1 L252.5 409.5 L252.7 408.4 L252.8 402.9 L253.0 404.5 L253.1 398.9 L253.3 409.7 L253.4 411.5 L253.6 403.3 L253.7 406.2 L253.9 406.8 L254.0 407.8 L254.2 400.3 L254.3 404.7 L254.5 405.0 L254.6 406.0 L254.8 411.7 L254.9 401.8 L255.1 408.1 L255.2 406.1 L255.4 405.7 L255.5 407.0 L255.7 404.9 L255.8 402.8 L256.0 406.8 L256.1 407.6 L256.3 410.3 L256.4 406.1 L256.6 403.5 L256.7 404.5 L256.9 400.5 L257.0 404.2 L257.2 398.8 L257.3 403.6 L257.5 401.5 L257.6 403.2 L257.8 405.8 L257.9 403.1 L258.1 405.8 L258.2 408.0 L258.4 407.2 L258.5 403.1 L258.7 403.5 L258.8 407.2 L259.0 407.4 L259.1 405.8 L259.3 403.4 L259.4 406.4 L259.6 405.4 L259.7 408.2 L259.9 407.9 L260.0 407.4 L260.2 401.6 L260.3 408.5 L260.5 405.3 L260.6 403.0 L260.8 407.1 L260.9 405.8 L261.1 415.0 L261.2 406.7 L261.4 409.4 L261.5 405.9 L261.7 409.2 L261.8 411.0 L262.0 407.5 L262.1 409.0 L262.3 407.2 L262.4 407.3 L262.6 408.8 L262.7 413.2 L262.9 400.1 L263.0 409.3 L263.2 411.8 L263.3 408.4 L263.5 405.3 L263.6 404.5 L263.8 411.4 L263.9 406.0 L264.1 408.3 L264.2 410.0 L264.4 408.8 L264.5 413.4 L264.7 407.8 L264.8 407.6 L265.0 409.7 L265.1 406.2 L265.3 400.1 L265.4 407.9 L265.6 408.5 L265.7 409.0 L265.9 408.5 L266.0 404.0 L266.2 413.5 L266.3 408.7 L266.5 407.5 L266.6 402.5 L266.8 406.3 L266.9 404.0 L267.1 400.8 L267.2 406.8 L267.4 403.6 L267.5 401.4 L267.7 403.0 L267.8 404.9 L268.0 403.4 L268.1 406.1 L268.3 404.9 L268.4 405.9 L268.6 402.8 L268.7 402.1 L268.9 404.8 L269.0 404.6 L269.2 405.6 L269.3 407.6 L269.5 408.4 L269.6 414.2 L269.8 403.2 L269.9 406.0 L270.1 410.3 L270.2 406.4 L270.4 406.1 L270.5 398.8 L270.7 407.0 L270.8 409.2 L271.0 404.5 L271.1 403.7 L271.3 403.2 L271.4 401.2 L271.6 407.0 L271.7 405.7 L271.9 402.9 L272.0 405.0 L272.2 399.4 L272.3 405.6 L272.5 405.5 L272.6 405.6 L272.8 402.4 L272.9 407.9 L273.1 400.3 L273.2 404.2 L273.4 409.9 L273.5 400.7 L273.7 401.8 L273.8 406.4 L274.0 407.9 L274.1 407.2 L274.3 408.5 L274.4 405.7 L274.6 406.8 L274.7 409.3 L274.9 405.7 L275.0 408.7 L275.2 408.2 L275.3 409.5 L275.5 405.1 L275.6 409.5 L275.8 406.4 L275.9 406.3 L276.1 409.1 L276.2 406.3 L276.4 408.7 L276.5 410.0 L276.7 403.9 L276.8 400.9 L277.0 404.2 L277.1 403.2 L277.3 405.6 L277.4 405.5 L277.6 406.7 L277.7 407.1 L277.9 411.0 L278.0 407.3 L278.2 408.2 L278.3 406.5 L278.5 404.4 L278.6 405.7 L278.8 402.9 L278.9 408.1 L279.1 402.7 L279.2 405.0 L279.4 406.3 L279.5 405.1 L279.7 405.2 L279.8 404.2 L280.0 403.6 L280.1 411.1 L280.3 405.9 L280.4 401.3 L280.6 403.5 L280.7 404.5 L280.9 401.2 L281.0 406.4 L281.2 403.0 L281.3 400.0 L281.5 405.7 L281.6 408.7 L281.8 403.6 L281.9 404.1 L282.1 403.3 L282.2 409.9 L282.4 403.0 L282.5 405.5 L282.7 407.6 L282.8 403.8 L283.0 406.2 L283.1 402.7 L283.3 404.0 L283.4 404.8 L283.6 405.5 L283.7 408.0 L283.9 408.2 L284.0 403.5 L284.2 411.1 L284.3 408.3 L284.5 403.3 L284.6 406.0 L284.8 406.8 L284.9 402.7 L285.1 403.0 L285.2 401.4 L285.4 403.0 L285.5 408.5 L285.7 406.0 L285.8 400.2 L286.0 406.2 L286.1 403.9 L286.3 407.5 L286.4 406.5 L286.6 410.0 L286.7 407.8 L286.9 400.5 L287.0 402.9 L287.2 405.3 L287.3 406.6 L287.5 406.1 L287.6 407.8 L287.8 407.8 L287.9 400.2 L288.1 403.3 L288.2 410.3 L288.4 405.9 L288.5 400.9 L288.7 401.7 L288.8 403.1 L289.0 408.9 L289.1 405.4 L289.3 409.1 L289.4 408.8 L289.6 402.9 L289.7 407.0 L289.9 410.3 L290.0 407.6 L290.2 408.9 L290.3 409.8 L290.5 407.9 L290.6 404.5 L290.8 404.7 L290.9 405.1 L291.1 400.6 L291.2 401.0 L291.4 405.4 L291.5 406.0 L291.7 411.2 L291.8 411.1 L292.0 406.9 L292.1 403.8 L292.3 409.0 L292.4 404.9 L292.6 410.4 L292.7 400.2 L292.9 406.0 L293.0 410.8 L293.2 403.9 L293.3 407.9 L293.5 403.7 L293.6 403.7 L293.8 406.9 L293.9 410.6 L294.1 402.5 L294.2 405.6 L294.4 401.6 L294.5 402.0 L294.7 405.0 L294.8 406.6 L295.0 403.9 L295.1 403.1 L295.3 407.6 L295.4 405.2 L295.6 404.5 L295.7 407.5 L295.9 402.4 L296.0 408.6 L296.2 407.6 L296.3 406.4 L296.5 401.7 L296.6 406.0 L296.8 404.8 L296.9 402.8 L297.1 408.6 L297.2 401.9 L297.4 400.5 L297.5 407.1 L297.7 407.0 L297.8 404.6 L298.0 402.7 L298.1 406.1 L298.3 408.4 L298.4 405.4 L298.6 395.9 L298.7 402.4 L298.9 404.6 L299.0 405.7 L299.2 414.1 L299.3 409.5 L299.5 403.7 L299.6 408.5 L299.8 405.1 L299.9 406.0 L300.1 408.8 L300.2 405.6 L300.4 409.3 L300.5 410.1 L300.7 404.2 L300.8 405.9 L301.0 405.0 L301.1 408.5 L301.3 402.5 L301.4 412.7 L301.6 407.5 L301.7 400.0 L301.9 403.8 L302.0 403.4 L302.2 403.6 L302.3 402.6 L302.4 405.9 L302.6 403.0 L302.7 401.5 L302.9 410.0 L303.0 401.9 L303.2 405.6 L303.3 399.7 L303.5 405.1 L303.6 401.6 L303.8 403.6 L303.9 402.8 L304.1 404.2 L304.2 403.6 L304.4 406.3 L304.5 402.6 L304.7 407.4 L304.8 406.5 L305.0 410.3 L305.1 407.0 L305.3 403.4 L305.4 406.9 L305.6 406.3 L305.7 402.7 L305.9 403.1 L306.0 408.7 L306.2 406.4 L306.3 410.3 L306.5 403.4 L306.6 402.4 L306.8 406.2 L306.9 403.4 L307.1 404.3 L307.2 406.8 L307.4 398.4 L307.5 409.3 L307.7 402.3 L307.8 409.9 L308.0 408.7 L308.1 404.8 L308.3 398.4 L308.4 407.3 L308.6 407.1 L308.7 403.9 L308.9 409.5 L309.0 409.1 L309.2 400.3 L309.3 405.5 L309.5 404.6 L309.6 411.4 L309.8 413.0 L309.9 406.4 L310.1 403.5 L310.2 405.9 L310.4 400.4 L310.5 397.1 L310.7 399.3 L310.8 384.3 L311.0 374.9 L311.1 361.9 L311.3 352.8 L311.4 337.2 L311.6 339.3 L311.7 339.2 L311.9 343.3 L312.0 355.1 L312.2 364.1 L312.3 377.7 L312.5 388.9 L312.6 393.1 L312.8 399.4 L312.9 403.2 L313.1 403.8 L313.2 404.7 L313.4 400.9 L313.5 400.0 L313.7 407.7 L313.8 408.8 L314.0 407.7 L314.1 404.8 L314.3 405.8 L314.4 407.5 L314.6 403.6 L314.7 409.5 L314.9 404.5 L315.0 401.5 L315.2 401.9 L315.3 408.8 L315.5 404.5 L315.6 405.6 L315.8 406.7 L315.9 405.8 L316.1 406.1 L316.2 410.1 L316.4 405.1 L316.5 409.0 L316.7 405.0 L316.8 409.6 L317.0 408.1 L317.1 404.6 L317.3 406.5 L317.4 409.6 L317.6 406.9 L317.7 408.1 L317.9 398.9 L318.0 405.5 L318.2 412.1 L318.3 406.2 L318.5 410.5 L318.6 405.8 L318.8 405.5 L318.9 404.4 L319.1 405.0 L319.2 400.7 L319.4 404.8 L319.5 408.2 L319.7 409.9 L319.8 405.4 L320.0 405.3 L320.1 402.5 L320.3 402.2 L320.4 401.6 L320.6 403.3 L320.7 407.3 L320.9 400.1 L321.0 404.4 L321.2 402.5 L321.3 408.8 L321.5 409.3 L321.6 403.9 L321.8 405.6 L321.9 410.6 L322.1 409.6 L322.2 403.7 L322.4 408.7 L322.5 407.4 L322.7 409.6 L322.8 400.5 L323.0 401.4 L323.1 410.2 L323.3 400.9 L323.4 403.1 L323.6 401.9 L323.7 407.7 L323.9 401.8 L324.0 402.4 L324.2 409.0 L324.3 404.1 L324.5 404.9 L324.6 401.7 L324.8 406.9 L324.9 402.0 L325.1 404.7 L325.2 403.1 L325.4 405.1 L325.5 400.9 L325.7 406.5 L325.8 403.8 L326.0 396.8 L326.1 405.8 L326.3 400.7 L326.4 404.7 L326.6 403.4 L326.7 403.5 L326.9 397.8 L327.0 407.8 L327.2 399.9 L327.3 405.2 L327.5 402.2 L327.6 406.2 L327.8 399.3 L327.9 394.6 L328.1 396.0 L328.2 395.9 L328.4 382.2 L328.5 375.4 L328.7 355.4 L328.8 340.6 L329.0 319.3 L329.1 296.3 L329.3 285.8 L329.4 281.6 L329.6 280.4 L329.7 288.6 L329.9 304.2 L330.0 326.6 L330.2 347.1 L330.3 365.7 L330.5 372.1 L330.6 384.2 L330.8 394.3 L330.9 396.2 L331.1 397.9 L331.2 398.6 L331.4 403.5 L331.5 406.5 L331.7 404.8 L331.8 410.4 L332.0 407.0 L332.1 399.0 L332.3 402.9 L332.4 403.4 L332.6 401.8 L332.7 405.2 L332.9 405.3 L333.0 403.8 L333.2 404.8 L333.3 405.4 L333.5 407.1 L333.6 406.0 L333.8 407.8 L333.9 405.0 L334.1 408.0 L334.2 405.9 L334.4 407.7 L334.5 406.5 L334.7 405.2 L334.8 402.8 L335.0 401.8 L335.1 401.0 L335.3 399.7 L335.4 399.2 L335.6 407.0 L335.7 402.7 L335.9 402.3 L336.0 401.8 L336.2 407.5 L336.3 406.7 L336.5 407.5 L336.6 404.7 L336.8 402.1 L336.9 405.2 L337.1 403.5 L337.2 402.3 L337.4 397.0 L337.5 403.3 L337.7 405.9 L337.8 403.5 L338.0 408.1 L338.1 406.4 L338.3 406.2 L338.4 401.5 L338.6 412.9 L338.7 403.7 L338.9 410.2 L339.0 407.4 L339.2 400.9 L339.3 407.7 L339.5 404.8 L339.6 401.2 L339.8 406.4 L339.9 404.5 L340.1 405.3 L340.2 400.2 L340.4 406.3 L340.5 403.4 L340.7 406.2 L340.8 404.3 L341.0 402.4 L341.1 399.5 L341.3 403.5 L341.4 398.2 L341.6 397.5 L341.7 393.2 L341.9 387.9 L342.0 383.5 L342.2 374.8 L342.3 362.1 L342.5 345.6 L342.6 350.2 L342.8 342.2 L342.9 342.8 L343.1 346.6 L343.2 359.2 L343.4 364.3 L343.5 368.9 L343.7 379.5 L343.8 386.1 L344.0 395.8 L344.1 397.1 L344.3 398.0 L344.4 401.7 L344.6 406.0 L344.7 408.2 L344.9 402.7 L345.0 406.8 L345.2 405.7 L345.3 413.0 L345.5 403.6 L345.6 408.6 L345.8 408.4 L345.9 405.5 L346.1 401.4 L346.2 412.0 L346.4 403.8 L346.5 400.5 L346.7 404.6 L346.8 408.4 L347.0 408.6 L347.1 409.4 L347.3 404.9 L347.4 404.0 L347.6 405.8 L347.7 404.1 L347.9 398.3 L348.0 403.1 L348.2 407.1 L348.3 407.0 L348.5 404.2 L348.6 404.1 L348.8 399.1 L348.9 402.7 L349.1 405.8 L349.2 399.4 L349.4 408.2 L349.5 407.1 L349.7 400.3 L349.8 400.3 L350.0 410.4 L350.1 408.3 L350.3 405.3 L350.4 403.6 L350.6 403.7 L350.7 404.0 L350.9 402.3 L351.0 405.7 L351.2 406.2 L351.3 402.9 L351.5 398.7 L351.6 398.8 L351.8 404.2 L351.9 402.6 L352.1 401.9 L352.2 405.7 L352.4 402.2 L352.5 403.8 L352.7 403.8 L352.8 403.9 L353.0 404.1 L353.1 405.0 L353.3 403.1 L353.4 411.5 L353.6 401.6 L353.7 404.0 L353.9 404.7 L354.0 398.8 L354.2 405.3 L354.3 398.2 L354.5 408.4 L354.6 407.4 L354.8 402.7 L354.9 406.7 L355.1 408.8 L355.2 401.0 L355.4 405.9 L355.5 400.1 L355.7 404.4 L355.8 405.9 L356.0 402.3 L356.1 403.9 L356.3 403.3 L356.4 407.2 L356.6 402.5 L356.7 401.7 L356.9 408.5 L357.0 400.2 L357.2 403.0 L357.3 405.3 L357.5 404.2 L357.6 407.7 L357.8 405.3 L357.9 408.5 L358.1 402.4 L358.2 406.7 L358.4 403.3 L358.5 408.0 L358.7 408.9 L358.8 408.4 L359.0 403.6 L359.1 409.4 L359.3 404.1 L359.4 409.9 L359.6 400.1 L359.7 402.8 L359.9 400.7 L360.0 409.3 L360.2 403.0 L360.3 407.9 L360.5 406.1 L360.6 399.4 L360.8 401.0 L360.9 408.2 L361.1 401.4 L361.2 406.0 L361.4 403.2 L361.5 402.7 L361.7 402.2 L361.8 407.8 L362.0 407.7 L362.1 402.9 L362.3 405.1 L362.4 405.4 L362.6 410.2 L362.7 403.1 L362.9 405.2 L363.0 400.4 L363.2 406.1 L363.3 407.1 L363.5 403.8 L363.6 402.4 L363.8 407.4 L363.9 407.7 L364.1 406.4 L364.2 401.5 L364.4 396.8 L364.5 402.1 L364.7 399.7 L364.8 404.7 L365.0 409.7 L365.1 403.5 L365.3 411.5 L365.4 407.2 L365.6 408.8 L365.7 405.2 L365.9 409.0 L366.0 407.0 L366.2 403.0 L366.3 412.7 L366.5 407.4 L366.6 402.0 L366.8 401.0 L366.9 406.7 L367.1 400.8 L367.2 407.2 L367.4 402.1 L367.5 402.1 L367.7 406.3 L367.8 407.2 L368.0 406.4 L368.1 393.9 L368.3 400.8 L368.4 402.2 L368.6 405.3 L368.7 403.6 L368.9 401.0 L369.0 404.3 L369.2 401.2 L369.3 406.4 L369.5 405.4 L369.6 403.1 L369.8 398.8 L369.9 401.2 L370.1 406.4 L370.2 399.1 L370.4 413.4 L370.5 401.8 L370.7 406.1 L370.8 403.3 L371.0 404.7 L371.1 403.8 L371.3 400.1 L371.4 404.6 L371.6 399.1 L371.7 407.8 L371.9 407.2 L372.0 405.3 L372.2 407.8 L372.3 407.3 L372.5 400.0 L372.6 401.3 L372.8 404.9 L372.9 399.1 L373.1 406.2 L373.2 411.1 L373.4 406.5 L373.5 401.1 L373.7 402.5 L373.8 398.4 L374.0 402.2 L374.1 409.4 L374.3 402.4 L374.4 401.7 L374.6 394.7 L374.7 405.0 L374.9 398.7 L375.0 404.3 L375.2 397.1 L375.3 406.6 L375.5 405.2 L375.6 403.9 L375.8 401.3 L375.9 401.2 L376.1 406.8 L376.2 404.4 L376.4 403.4 L376.5 402.7 L376.7 401.3 L376.8 398.7 L377.0 402.3 L377.1 406.3 L377.3 401.9 L377.4 406.1 L377.6 399.8 L377.7 403.4 L377.9 405.1 L378.0 397.5 L378.2 401.4 L378.3 405.4 L378.5 404.7 L378.6 402.7 L378.8 407.7 L378.9 399.1 L379.1 406.0 L379.2 401.3 L379.4 408.8 L379.5 406.5 L379.7 408.4 L379.8 400.2 L380.0 396.4 L380.1 405.8 L380.3 405.8 L380.4 406.1 L380.6 403.8 L380.7 397.8 L380.9 403.3 L381.0 400.0 L381.2 406.3 L381.3 409.5 L381.5 398.4 L381.6 406.7 L381.8 407.8 L381.9 404.0 L382.1 403.1 L382.2 412.7 L382.4 405.5 L382.5 404.1 L382.7 406.8 L382.8 404.5 L383.0 405.9 L383.1 409.1 L383.3 402.6 L383.4 399.7 L383.6 400.8 L383.7 405.7 L383.9 402.5 L384.0 408.1 L384.2 402.4 L384.3 406.6 L384.5 400.8 L384.6 408.9 L384.8 400.6 L384.9 401.4 L385.1 402.6 L385.2 402.2 L385.4 404.2 L385.5 397.2 L385.7 402.0 L385.8 393.8 L386.0 399.8 L386.1 400.9 L386.3 398.7 L386.4 401.8 L386.6 406.2 L386.7 405.7 L386.9 408.2 L387.0 409.2 L387.2 410.5 L387.3 404.9 L387.5 404.2 L387.6 405.4 L387.8 406.0 L387.9 406.1 L388.1 404.1 L388.2 405.9 L388.4 409.4 L388.5 399.2 L388.7 398.1 L388.8 401.3 L389.0 406.6 L389.1 402.1 L389.3 401.4 L389.4 406.3 L389.6 405.5 L389.7 408.5 L389.9 403.4 L390.0 399.3 L390.2 404.5 L390.3 405.1 L390.5 403.0 L390.6 406.7 L390.8 406.0 L390.9 403.1 L391.1 405.5 L391.2 400.9 L391.4 405.9 L391.5 405.2 L391.7 403.9 L391.8 396.0 L392.0 400.7 L392.1 403.5 L392.3 405.8 L392.4 399.2 L392.6 402.0 L392.7 406.8 L392.9 405.9 L393.0 405.3 L393.2 408.4 L393.3 409.4 L393.5 406.0 L393.6 403.0 L393.8 396.5 L393.9 401.4 L394.1 404.4 L394.2 393.8 L394.4 406.5 L394.5 403.6 L394.7 399.0 L394.8 407.8 L395.0 396.7 L395.1 409.3 L395.3 397.0 L395.4 402.0 L395.6 408.5 L395.7 399.6 L395.9 402.2 L396.0 401.6 L396.2 405.9 L396.3 408.9 L396.5 399.5 L396.6 397.1 L396.8 406.5 L396.9 412.1 L397.1 400.4 L397.2 402.4 L397.4 401.0 L397.5 409.1 L397.7 400.6 L397.8 403.7 L398.0 400.0 L398.1 407.2 L398.3 405.9 L398.4 397.8 L398.6 404.1 L398.7 398.5 L398.9 401.5 L399.0 406.9 L399.2 404.8 L399.3 402.9 L399.5 409.3 L399.6 404.6 L399.8 406.7 L399.9 406.5 L400.1 405.6 L400.2 403.7 L400.4 400.8 L400.5 407.0 L400.7 401.9 L400.8 410.5 L401.0 403.7 L401.1 401.5 L401.3 400.0 L401.4 403.4 L401.6 399.6 L401.7 401.2 L401.9 407.0 L402.0 399.2 L402.2 403.6 L402.3 401.3 L402.5 400.3 L402.6 403.4 L402.8 403.4 L402.9 400.3 L403.1 404.9 L403.2 404.7 L403.4 401.1 L403.5 396.5 L403.7 403.8 L403.8 404.2 L404.0 398.2 L404.1 403.6 L404.3 400.3 L404.4 402.4 L404.6 399.6 L404.7 407.5 L404.9 403.4 L405.0 409.3 L405.2 401.8 L405.3 407.6 L405.5 405.2 L405.6 403.5 L405.8 407.9 L405.9 411.0 L406.1 403.4 L406.2 404.3 L406.4 394.2 L406.5 397.5 L406.7 397.8 L406.8 399.2 L407.0 405.7 L407.1 411.2 L407.3 402.7 L407.4 407.7 L407.6 407.4 L407.7 399.6 L407.9 398.5 L408.0 402.6 L408.2 398.6 L408.3 403.9 L408.5 403.3 L408.6 401.5 L408.8 401.6 L408.9 397.0 L409.1 400.8 L409.2 398.1 L409.4 408.7 L409.5 407.7 L409.7 399.0 L409.8 394.5 L410.0 401.7 L410.1 403.4 L410.3 403.2 L410.4 403.3 L410.6 405.2 L410.7 406.0 L410.9 410.5 L411.0 397.5 L411.2 404.0 L411.3 396.8 L411.5 403.8 L411.6 400.4 L411.8 405.6 L411.9 408.4 L412.1 405.0 L412.2 401.4 L412.4 410.0 L412.5 401.4 L412.7 403.9 L412.8 397.3 L413.0 402.8 L413.1 404.5 L413.3 402.9 L413.4 409.3 L413.6 402.5 L413.7 412.0 L413.9 394.0 L414.0 406.1 L414.2 402.9 L414.3 407.5 L414.5 407.5 L414.6 403.2 L414.8 405.1 L414.9 411.1 L415.1 406.2 L415.2 409.0 L415.4 401.3 L415.5 405.7 L415.7 401.1 L415.8 409.1 L416.0 401.1 L416.1 411.4 L416.3 401.6 L416.4 409.7 L416.6 404.1 L416.7 407.8 L416.9 405.2 L417.0 413.3 L417.2 413.5 L417.3 407.1 L417.5 408.1 L417.6 403.6 L417.8 400.8 L417.9 403.8 L418.1 398.8 L418.2 402.4 L418.4 403.9 L418.5 395.2 L418.7 404.3 L418.8 399.4 L419.0 403.0 L419.1 398.2 L419.3 398.9 L419.4 398.6 L419.6 403.7 L419.7 405.8 L419.9 393.7 L420.0 401.9 L420.2 397.5 L420.3 404.4 L420.5 402.3 L420.6 405.4 L420.8 395.4 L420.9 406.2 L421.1 395.6 L421.2 404.2 L421.4 401.5 L421.5 395.5 L421.7 406.6 L421.8 403.9 L422.0 401.8 L422.1 404.7 L422.3 400.5 L422.4 403.0 L422.6 398.1 L422.7 402.5 L422.9 398.7 L423.0 404.9 L423.2 395.7 L423.3 402.6 L423.5 402.7 L423.6 399.0 L423.8 405.1 L423.9 400.8 L424.1 404.3 L424.2 404.5 L424.4 408.8 L424.5 397.4 L424.7 403.0 L424.8 399.8 L425.0 398.8 L425.1 397.0 L425.3 402.5 L425.4 399.9 L425.6 402.0 L425.7 403.8 L425.9 404.6 L426.0 399.2 L426.2 409.9 L426.3 405.8 L426.5 406.3 L426.6 401.5 L426.8 404.1 L426.9 401.2 L427.1 394.9 L427.2 398.2 L427.4 400.6 L427.5 398.4 L427.7 402.2 L427.8 405.4 L428.0 401.2 L428.1 401.4 L428.3 407.5 L428.4 404.7 L428.6 409.3 L428.7 392.3 L428.9 401.2 L429.0 399.1 L429.2 404.5 L429.3 402.0 L429.5 397.3 L429.6 395.3 L429.8 406.8 L429.9 406.6 L430.1 404.7 L430.2 398.2 L430.4 398.8 L430.5 396.7 L430.7 406.0 L430.8 409.4 L431.0 400.8 L431.1 401.7 L431.3 395.1 L431.4 397.1 L431.6 404.0 L431.7 404.4 L431.9 399.7 L432.0 408.0 L432.2 395.8 L432.3 402.9 L432.5 404.7 L432.6 403.4 L432.8 409.0 L432.9 393.5 L433.1 395.1 L433.2 397.5 L433.4 399.6 L433.5 401.3 L433.7 398.9 L433.8 407.1 L434.0 400.1 L434.1 401.6 L434.3 402.9 L434.4 407.9 L434.6 400.5 L434.7 402.3 L434.9 403.9 L435.0 402.7 L435.2 406.2 L435.3 407.1 L435.5 402.0 L435.6 400.1 L435.8 399.5 L435.9 403.5 L436.1 399.9 L436.2 403.8 L436.4 397.0 L436.5 399.8 L436.7 399.8 L436.8 405.1 L437.0 405.2 L437.1 402.9 L437.3 397.3 L437.4 398.2 L437.6 402.2 L437.7 398.4 L437.9 405.7 L438.0 399.4 L438.2 408.7 L438.3 396.8 L438.5 405.0 L438.6 400.4 L438.8 404.4 L438.9 406.2 L439.1 403.1 L439.2 406.7 L439.4 399.5 L439.5 402.7 L439.7 402.7 L439.8 404.4 L440.0 403.4 L440.1 408.1 L440.3 405.1 L440.4 403.7 L440.6 400.8 L440.7 402.9 L440.9 403.2 L441.0 408.0 L441.2 405.0 L441.3 404.3 L441.5 400.3 L441.6 407.6 L441.8 402.3 L441.9 403.3 L442.1 404.7 L442.2 400.7 L442.4 407.1 L442.5 408.5 L442.7 402.3 L442.8 405.9 L443.0 401.8 L443.1 403.7 L443.3 408.6 L443.4 401.2 L443.6 403.8 L443.7 404.4 L443.9 403.1 L444.0 401.2 L444.2 399.0 L444.3 403.5 L444.5 403.6 L444.6 400.0 L444.8 404.7 L444.9 398.9 L445.1 405.1 L445.2 408.6 L445.4 404.1 L445.5 404.3 L445.7 402.1 L445.8 402.1 L446.0 402.0 L446.1 400.1 L446.3 398.0 L446.4 404.4 L446.6 399.1 L446.7 404.1 L446.9 407.6 L447.0 399.9 L447.2 405.0 L447.3 403.9 L447.5 399.9 L447.6 399.0 L447.8 398.7 L447.9 402.0 L448.1 406.0 L448.2 397.6 L448.4 402.6 L448.5 399.2 L448.7 404.3 L448.8 399.4 L449.0 400.5 L449.1 398.5 L449.3 402.4 L449.4 406.3 L449.6 399.9 L449.7 401.5 L449.9 401.5 L450.0 401.6 L450.2 404.2 L450.3 400.7 L450.5 407.7 L450.6 398.9 L450.8 394.7 L450.9 402.2 L451.1 403.1 L451.2 405.2 L451.4 399.5 L451.5 401.3 L451.7 411.7 L451.8 397.6 L452.0 403.6 L452.1 399.7 L452.3 400.0 L452.4 405.5 L452.6 400.6 L452.7 405.0 L452.9 396.6 L453.0 402.0 L453.2 402.8 L453.3 405.4 L453.5 401.5 L453.6 400.9 L453.8 408.9 L453.9 401.0 L454.1 401.7 L454.2 401.9 L454.4 395.9 L454.5 405.6 L454.7 398.4 L454.8 395.2 L455.0 396.3 L455.1 398.8 L455.3 404.5 L455.4 400.2 L455.6 403.5 L455.7 398.9 L455.9 394.9 L456.0 400.0 L456.2 407.3 L456.3 394.6 L456.5 399.8 L456.6 406.1 L456.8 392.7 L456.9 401.9 L457.1 403.9 L457.2 396.0 L457.4 397.9 L457.5 395.9 L457.7 406.8 L457.8 404.1 L458.0 393.5 L458.1 403.3 L458.3 395.7 L458.4 403.2 L458.6 401.8 L458.7 405.0 L458.9 400.0 L459.0 403.5 L459.2 396.4 L459.3 411.8 L459.5 406.9 L459.6 401.9 L459.8 403.1 L459.9 396.6 L460.1 399.6 L460.2 401.6 L460.4 402.6 L460.5 397.9 L460.7 398.5 L460.8 404.6 L461.0 406.5 L461.1 401.8 L461.3 401.4 L461.4 404.3 L461.6 406.1 L461.7 397.2 L461.9 400.5 L462.0 403.3 L462.2 400.8 L462.3 402.6 L462.5 398.7 L462.6 407.1 L462.8 403.8 L462.9 396.0 L463.1 399.9 L463.2 394.8 L463.4 401.6 L463.5 400.1 L463.7 398.0 L463.8 399.0 L464.0 410.4 L464.1 400.3 L464.3 394.9 L464.4 400.3 L464.6 405.9 L464.7 404.6 L464.9 400.7 L465.0 393.3 L465.2 400.3 L465.3 401.6 L465.5 402.2 L465.6 398.6 L465.8 402.8 L465.9 411.3 L466.1 398.0 L466.2 403.7 L466.4 403.9 L466.5 397.1 L466.7 409.9 L466.8 406.5 L467.0 397.8 L467.1 407.1 L467.3 394.4 L467.4 409.0 L467.6 401.3 L467.7 400.2 L467.9 405.1 L468.0 395.6 L468.2 398.2 L468.3 399.6 L468.5 406.4 L468.6 399.2 L468.8 406.9 L468.9 407.1 L469.1 402.5 L469.2 398.4 L469.4 401.7 L469.5 396.0 L469.7 393.6 L469.8 399.2 L470.0 406.7 L470.1 399.8 L470.3 408.0 L470.4 397.8 L470.6 398.1 L470.7 391.7 L470.9 401.5 L471.0 403.9 L471.2 401.0 L471.3 401.2 L471.5 405.8 L471.6 394.9 L471.8 398.3 L471.9 401.2 L472.1 405.5 L472.2 395.6 L472.4 400.2 L472.5 391.1 L472.7 398.2 L472.8 403.5 L473.0 406.6 L473.1 397.6 L473.3 403.6 L473.4 392.7 L473.6 398.6 L473.7 399.4 L473.9 393.9 L474.0 404.8 L474.2 393.6 L474.3 392.9 L474.5 396.8 L474.6 399.2 L474.8 395.2 L474.9 401.8 L475.1 404.9 L475.2 408.7 L475.4 397.6 L475.5 396.3 L475.7 398.7 L475.8 402.4 L476.0 400.6 L476.1 400.2 L476.3 398.5 L476.4 395.9 L476.6 395.8 L476.7 395.0 L476.9 400.0 L477.0 396.1 L477.2 405.1 L477.3 407.1 L477.5 404.4 L477.6 398.7 L477.8 402.0 L477.9 402.0 L478.1 409.1 L478.2 399.6 L478.4 399.6 L478.5 397.0 L478.7 406.7 L478.8 403.4 L479.0 403.4 L479.1 408.0 L479.3 414.0 L479.4 399.6 L479.6 410.1 L479.7 399.8 L479.9 404.2 L480.0 410.6 L480.2 408.2 L480.3 404.3 L480.5 400.5 L480.6 411.2 L480.8 404.4 L480.9 402.9 L481.1 396.5 L481.2 403.5 L481.4 399.6 L481.5 400.9 L481.7 397.9 L481.8 398.9 L482.0 406.8 L482.1 405.1 L482.3 394.2 L482.4 398.9 L482.6 405.0 L482.7 406.0 L482.9 404.9 L483.0 401.6 L483.2 392.0 L483.3 397.5 L483.5 409.0 L483.6 409.0 L483.8 398.2 L483.9 392.5 L484.1 406.4 L484.2 398.0 L484.4 396.0 L484.5 402.1 L484.7 406.0 L484.8 399.5 L485.0 393.5 L485.1 392.6 L485.3 399.6 L485.4 411.8 L485.6 398.2 L485.7 402.9 L485.9 402.0 L486.0 403.8 L486.2 397.9 L486.3 399.5 L486.5 397.2 L486.6 394.6 L486.8 409.1 L486.9 405.6 L487.1 397.8 L487.2 398.4 L487.4 407.4 L487.5 394.5 L487.7 403.5 L487.8 405.1 L488.0 405.0 L488.1 396.7 L488.3 403.1 L488.4 405.0 L488.6 401.6 L488.7 399.4 L488.9 408.1 L489.0 403.7 L489.2 397.6 L489.3 392.0 L489.5 394.0 L489.6 405.6 L489.8 406.3 L489.9 408.1 L490.1 404.3 L490.2 402.5 L490.4 403.4 L490.5 391.6 L490.7 400.6 L490.8 394.9 L491.0 401.2 L491.1 398.7 L491.3 398.5 L491.4 396.4 L491.6 402.1 L491.7 403.8 L491.9 407.2 L492.0 397.9 L492.2 403.7 L492.3 400.6 L492.5 412.2 L492.6 407.0 L492.8 401.9 L492.9 399.2 L493.1 394.9 L493.2 394.9 L493.4 405.4 L493.5 402.0 L493.7 403.2 L493.8 398.5 L494.0 402.4 L494.1 402.1 L494.3 400.3 L494.4 405.8 L494.6 410.9 L494.7 404.6 L494.9 410.1 L495.0 399.9 L495.2 408.0 L495.3 403.5 L495.5 405.4 L495.6 402.2 L495.8 400.4 L495.9 393.2 L496.1 408.0 L496.2 400.7 L496.4 402.9 L496.5 407.0 L496.7 402.0 L496.8 396.8 L497.0 401.2 L497.1 394.0 L497.3 399.5 L497.4 400.1 L497.6 404.7 L497.7 398.7 L497.9 399.3 L498.0 393.1 L498.2 401.7 L498.3 409.0 L498.5 396.1 L498.6 400.3 L498.8 396.2 L498.9 396.0 L499.1 385.9 L499.2 393.4 L499.4 393.0 L499.5 397.4 L499.7 379.0 L499.8 387.3 L500.0 381.1 L500.1 373.1 L500.3 375.4 L500.4 371.2 L500.6 364.0 L500.7 362.2 L500.9 355.9 L501.0 366.5 L501.2 353.1 L501.3 349.8 L501.5 336.4 L501.6 327.4 L501.8 330.6 L501.9 339.4 L502.1 336.5 L502.2 348.0 L502.4 357.4 L502.5 358.1 L502.7 352.2 L502.8 369.1 L503.0 363.8 L503.1 358.1 L503.3 366.7 L503.4 368.0 L503.6 376.4 L503.7 379.5 L503.9 382.9 L504.0 371.2 L504.2 380.7 L504.3 379.4 L504.5 392.9 L504.6 397.1 L504.8 387.8 L504.9 384.1 L505.1 400.0 L505.2 401.0 L505.4 397.8 L505.5 391.1 L505.7 398.3 L505.8 394.4 L506.0 394.2 L506.1 401.2 L506.3 389.0 L506.4 397.0 L506.6 404.1 L506.7 399.4 L506.9 405.9 L507.0 404.3 L507.2 396.3 L507.3 394.9 L507.5 396.7 L507.6 395.1 L507.8 399.0 L507.9 396.1 L508.1 400.3 L508.2 396.7 L508.4 400.3 L508.5 401.4 L508.7 396.1 L508.8 389.8 L509.0 392.3 L509.1 385.9 L509.3 400.7 L509.4 406.0 L509.6 400.8 L509.7 409.1 L509.9 408.2 L510.0 397.7 L510.2 392.5 L510.3 398.1 L510.5 403.0 L510.6 400.8 L510.8 407.3 L510.9 392.7 L511.1 403.5 L511.2 400.9 L511.4 391.9 L511.5 390.4 L511.7 396.0 L511.8 413.0 L512.0 396.8 L512.1 401.3 L512.3 398.3 L512.4 394.6 L512.6 400.9 L512.7 404.6 L512.9 400.5 L513.0 405.0 L513.2 401.9 L513.3 396.6 L513.5 408.1 L513.6 406.4 L513.8 395.2 L513.9 406.7 L514.1 394.7 L514.2 405.8 L514.4 401.8 L514.5 408.1 L514.7 403.7 L514.8 397.6 L515.0 403.1 L515.1 409.1 L515.3 395.7 L515.4 401.9 L515.6 401.1 L515.7 399.3 L515.9 403.4 L516.0 400.3 L516.2 402.8 L516.3 398.6 L516.5 394.6 L516.6 395.5 L516.8 387.4 L516.9 397.6 L517.1 397.5 L517.2 392.3 L517.4 393.3 L517.5 400.0 L517.7 404.7 L517.8 408.2 L518.0 405.2 L518.1 398.6 L518.3 399.9 L518.4 405.5 L518.6 401.0 L518.7 403.1 L518.9 399.1 L519.0 401.2 L519.2 393.3 L519.3 403.3 L519.5 403.5 L519.6 391.8 L519.8 399.9 L519.9 402.9 L520.1 400.6 L520.2 398.8 L520.4 390.8 L520.5 409.4 L520.7 391.7 L520.8 404.1 L521.0 396.7 L521.1 407.8 L521.3 407.8 L521.4 402.8 L521.6 398.2 L521.7 405.5 L521.9 398.3 L522.0 406.5 L522.2 403.1 L522.3 394.6 L522.5 400.5 L522.6 395.2 L522.8 399.3 L522.9 399.1 L523.1 400.9 L523.2 385.6 L523.4 400.7 L523.5 402.0 L523.7 395.1 L523.8 398.4 L524.0 400.2 L524.1 407.7 L524.3 394.0 L524.4 406.1 L524.6 404.1 L524.7 397.8 L524.9 399.4 L525.0 397.0 L525.2 408.1 L525.3 403.8 L525.5 396.4 L525.6 401.0 L525.8 402.5 L525.9 395.8 L526.1 406.3 L526.2 402.3 L526.4 396.2 L526.5 403.9 L526.7 399.8 L526.8 401.4 L527.0 385.1 L527.1 398.4 L527.3 402.2 L527.4 398.5 L527.6 399.2 L527.7 393.4 L527.9 394.4 L528.0 405.3 L528.2 403.2 L528.3 400.8 L528.5 398.5 L528.6 405.2 L528.8 401.5 L528.9 411.9 L529.1 390.0 L529.2 390.2 L529.4 402.0 L529.5 394.2 L529.7 398.0 L529.8 408.2 L530.0 402.2 L530.1 409.7 L530.3 400.5 L530.4 398.2 L530.6 403.6 L530.7 396.4 L530.9 397.2 L531.0 403.5 L531.2 403.1 L531.3 403.0 L531.5 402.8 L531.6 407.6 L531.8 402.4 L531.9 402.6 L532.1 398.3 L532.2 395.7 L532.4 397.9 L532.5 407.7 L532.7 398.6 L532.8 401.1 L533.0 398.3 L533.1 407.1 L533.3 386.3 L533.4 405.5 L533.6 402.6 L533.7 394.2 L533.9 392.0 L534.0 399.5 L534.2 394.2 L534.3 394.3 L534.5 400.0 L534.6 400.1 L534.8 400.6 L534.9 397.0 L535.1 395.0 L535.2 400.0 L535.4 401.5 L535.5 410.7 L535.7 398.3 L535.8 397.8 L536.0 394.9 L536.1 399.7 L536.3 400.0 L536.4 391.8 L536.6 398.9 L536.7 396.4 L536.9 406.1 L537.0 399.6 L537.2 402.1 L537.3 402.3 L537.5 409.5 L537.6 402.9 L537.8 393.5 L537.9 402.2 L538.1 405.4 L538.2 401.5 L538.4 404.9 L538.5 402.7 L538.7 403.9 L538.8 397.9 L539.0 404.5 L539.1 397.7 L539.3 398.3 L539.4 388.5 L539.6 391.1 L539.7 383.7 L539.9 393.6 L540.0 386.1 L540.2 382.4 L540.3 380.6 L540.5 375.4 L540.6 377.1 L540.8 376.0 L540.9 375.3 L541.1 367.1 L541.2 369.8 L541.4 363.2 L541.5 367.0 L541.7 359.8 L541.8 364.8 L542.0 360.0 L542.1 358.4 L542.3 359.5 L542.4 362.9 L542.6 361.8 L542.7 362.1 L542.9 363.0 L543.0 363.8 L543.2 369.1 L543.3 367.5 L543.5 375.8 L543.6 373.0 L543.8 373.5 L543.9 371.9 L544.1 382.1 L544.2 382.1 L544.4 384.1 L544.5 384.3 L544.7 393.7 L544.8 387.8 L545.0 390.4 L545.1 388.6 L545.3 385.6 L545.4 398.1 L545.6 389.0 L545.7 400.3 L545.9 396.7 L546.0 397.8 L546.2 389.1 L546.3 399.1 L546.5 392.8 L546.6 400.7 L546.8 393.7 L546.9 397.5 L547.1 391.2 L547.2 394.7 L547.4 400.2 L547.5 405.6 L547.7 398.5 L547.8 391.3 L548.0 401.6 L548.1 404.8 L548.3 402.9 L548.4 398.7 L548.6 391.2 L548.7 399.4 L548.9 402.0 L549.0 399.9 L549.2 405.8 L549.3 396.2 L549.5 397.0 L549.6 408.0 L549.8 403.1 L549.9 397.0 L550.1 400.0 L550.2 388.3 L550.4 398.3 L550.5 388.0 L550.7 404.2 L550.8 393.0 L551.0 395.6 L551.1 399.5 L551.3 393.2 L551.4 401.9 L551.6 398.4 L551.7 403.8 L551.9 403.9 L552.0 394.6 L552.2 385.7 L552.3 400.5 L552.5 412.6 L552.6 417.3 L552.8 399.4 L552.9 396.3 L553.1 390.5 L553.2 395.5 L553.4 407.6 L553.5 402.2 L553.7 394.8 L553.8 396.1 L554.0 393.9 L554.1 403.2 L554.3 407.0 L554.4 398.0 L554.6 392.7 L554.7 393.3 L554.9 405.6 L555.0 390.4 L555.2 396.3 L555.3 393.8 L555.5 393.9 L555.6 390.3 L555.8 398.1 L555.9 396.4 L556.1 401.6 L556.2 401.3 L556.4 395.5 L556.5 396.1 L556.7 395.9 L556.8 391.8 L557.0 396.5 L557.1 403.5 L557.3 397.3 L557.4 391.1 L557.6 385.7 L557.7 398.7 L557.9 398.8 L558.0 393.9 L558.2 400.1 L558.3 394.0 L558.5 389.4 L558.6 389.6 L558.8 391.5 L558.9 386.4 L559.1 391.1 L559.2 400.2 L559.4 392.0 L559.5 390.6 L559.7 388.0 L559.8 399.4 L560.0 389.3 L560.1 409.3 L560.3 385.5 L560.4 387.1 L560.6 402.6 L560.7 386.0 L560.9 396.4 L561.0 400.6 L561.2 404.9 L561.3 392.9 L561.5 390.3 L561.6 403.4 L561.8 397.6 L561.9 399.3 L562.1 402.0 L562.2 398.4 L562.4 396.4 L562.5 404.3 L562.7 393.9 L562.8 393.5 L563.0 392.9 L563.1 390.8 L563.3 390.6 L563.4 402.3 L563.6 399.9 L563.7 389.6 L563.9 390.5 L564.0 386.2 L564.2 389.0 L564.3 400.4 L564.5 402.8 L564.6 399.3 L564.8 395.3 L564.9 395.4 L565.1 393.4 L565.2 395.0 L565.4 394.3 L565.5 395.5 L565.7 403.0 L565.8 386.4 L566.0 392.4 L566.1 399.9 L566.3 394.4 L566.4 398.3 L566.6 409.5 L566.7 386.6 L566.9 391.8 L567.0 393.4 L567.2 391.1 L567.3 401.1 L567.5 391.4 L567.6 396.9 L567.8 395.6 L567.9 407.5 L568.1 396.9 L568.2 393.9 L568.4 396.0 L568.5 393.1 L568.7 401.0 L568.8 393.4 L569.0 400.0 L569.1 396.8 L569.3 399.6 L569.4 404.2 L569.6 402.3 L569.7 394.2 L569.9 392.8 L570.0 392.6 L570.2 391.1 L570.3 395.2 L570.5 391.6 L570.6 395.7 L570.8 394.0 L570.9 400.2 L571.1 396.6 L571.2 396.3 L571.4 399.3 L571.5 400.6 L571.7 400.4 L571.8 402.3 L572.0 399.6 L572.1 396.5 L572.3 398.5 L572.4 397.1 L572.6 391.3 L572.7 407.2 L572.9 394.2 L573.0 397.1 L573.2 401.2 L573.3 404.1 L573.5 405.3 L573.6 390.5 L573.8 409.8 L573.9 391.4 L574.1 406.1 L574.2 387.8 L574.4 397.0 L574.5 389.6 L574.7 400.4 L574.8 394.9 L575.0 392.5 L575.1 392.2 L575.3 393.2 L575.4 396.0 L575.6 395.1 L575.7 403.7 L575.9 390.1 L576.0 393.3 L576.2 393.6 L576.3 393.4 L576.5 385.6 L576.6 392.7 L576.8 400.8 L576.9 386.8 L577.1 390.7 L577.2 397.5 L577.4 391.6 L577.5 406.6 L577.7 407.4 L577.8 399.5 L578.0 397.1 L578.1 402.9 L578.3 398.4 L578.4 394.5 L578.6 392.5 L578.7 393.0 L578.9 394.2 L579.0 384.2 L579.2 387.2 L579.3 401.4 L579.5 400.4 L579.6 403.6 L579.8 391.0 L579.9 383.7 L580.1 401.5 L580.2 404.3 L580.4 393.3 L580.5 401.3 L580.7 390.7 L580.8 389.8 L581.0 396.3 L581.1 394.7 L581.3 395.0 L581.4 393.1 L581.6 402.1 L581.7 394.0 L581.9 392.8 L582.0 400.8 L582.2 397.9 L582.3 393.8 L582.5 395.0 L582.6 393.5 L582.8 402.6 L582.9 397.5 L583.1 397.2 L583.2 396.5 L583.4 403.2 L583.5 401.1 L583.7 400.3 L583.8 395.3 L584.0 401.5 L584.1 398.1 L584.3 397.4 L584.4 401.8 L584.6 391.5 L584.7 390.1 L584.9 392.7 L585.0 408.6 L585.2 397.4 L585.3 392.6 L585.5 387.1 L585.6 389.1 L585.8 395.9 L585.9 402.5 L586.1 394.2 L586.2 387.9 L586.4 397.1 L586.5 403.1 L586.7 396.5 L586.8 388.8 L587.0 389.2 L587.1 403.0 L587.3 386.7 L587.4 396.2 L587.6 389.0 L587.7 402.6 L587.9 392.3 L588.0 395.8 L588.2 397.3 L588.3 394.2 L588.5 401.4 L588.6 399.7 L588.8 391.3 L588.9 397.4 L589.1 392.5 L589.2 396.3 L589.4 399.3 L589.5 401.9 L589.7 392.5 L589.8 402.8 L590.0 395.6 L590.1 395.4 L590.3 395.0 L590.4 393.3 L590.6 378.8 L590.7 386.0 L590.9 401.1 L591.0 397.7 L591.2 396.4 L591.3 389.1 L591.5 385.7 L591.6 386.6 L591.8 395.2 L591.9 388.5 L592.1 392.4 L592.2 392.3 L592.4 394.1 L592.5 394.6 L592.7 393.5 L592.8 392.2 L593.0 395.9 L593.1 401.8 L593.3 386.2 L593.4 393.3 L593.6 384.5 L593.7 396.2 L593.9 401.4 L594.0 384.5 L594.2 390.2 L594.3 390.0 L594.5 396.2 L594.6 395.4 L594.8 399.8 L594.9 391.1 L595.1 389.7 L595.2 394.2 L595.4 397.9 L595.5 394.2 L595.7 392.7 L595.8 393.0 L596.0 388.9 L596.1 395.8 L596.3 384.3 L596.4 380.1 L596.6 389.1 L596.7 394.7 L596.9 375.9 L597.0 392.3 L597.2 393.3 L597.3 390.4 L597.5 396.8 L597.6 388.8 L597.8 389.0 L597.9 391.4" stroke="#f00" stroke-width="0.8"/>
<path d="M38.0 417.0 L38.5 416.4 L39.0 416.6 L39.5 415.6 L40.0 417.0 L40.5 417.0 L41.0 416.4 L41.5 416.5 L42.0 417.0 L42.5 416.5 L43.0 416.9 L43.5 416.2 L44.0 417.0 L44.5 417.0 L45.0 415.8 L45.5 417.0 L46.0 417.0 L46.5 416.1 L47.0 416.6 L47.5 417.0 L48.0 416.8 L48.5 416.5 L49.0 417.0 L49.5 416.6 L50.0 417.0 L50.5 417.0 L51.0 417.0 L51.5 417.0 L52.0 415.4 L52.5 416.9 L53.0 415.4 L53.5 416.9 L54.0 416.7 L54.5 415.9 L55.0 416.5 L55.5 417.0 L56.0 416.7 L56.5 416.6 L57.0 417.0 L57.5 416.7 L58.0 414.1 L58.5 411.1 L59.0 406.6 L59.5 405.7 L60.0 410.1 L60.5 413.7 L61.0 416.3 L61.5 417.0 L62.0 416.1 L62.5 417.0 L63.0 417.0 L63.5 417.0 L64.0 416.3 L64.5 417.0 L65.0 416.8 L65.5 417.0 L66.0 416.9 L66.5 416.5 L67.0 416.8 L67.5 416.9 L68.0 416.8 L68.5 416.9 L69.0 416.7 L69.5 417.0 L70.0 416.9 L70.5 417.0 L71.0 415.9 L71.5 415.6 L72.0 417.0 L72.5 417.0 L73.0 416.4 L73.5 416.7 L74.0 417.0 L74.5 416.4 L75.0 415.6 L75.5 416.9 L76.0 417.0 L76.5 416.7 L77.0 415.6 L77.5 417.0 L78.0 417.0 L78.5 417.0 L79.0 416.6 L79.5 416.9 L80.0 417.0 L80.5 416.9 L81.0 417.0 L81.5 417.0 L82.0 415.4 L82.5 416.7 L83.0 417.0 L83.5 415.6 L84.0 417.0 L84.5 417.0 L85.0 416.9 L85.5 415.7 L86.0 411.1 L86.5 401.7 L87.0 392.7 L87.5 395.0 L88.0 399.1 L88.5 397.1 L89.0 395.0 L89.5 402.7 L90.0 410.5 L90.5 415.6 L91.0 416.5 L91.5 416.7 L92.0 415.6 L92.5 416.3 L93.0 416.8 L93.5 416.0 L94.0 417.0 L94.5 416.9 L95.0 415.5 L95.5 416.8 L96.0 416.2 L96.5 417.0 L97.0 415.7 L97.5 416.3 L98.0 415.5 L98.5 410.5 L99.0 404.2 L99.5 394.0 L100.0 386.1 L100.5 386.5 L101.0 394.8 L101.5 404.5 L102.0 412.1 L102.5 414.7 L103.0 412.8 L103.5 405.8 L104.0 393.8 L104.5 380.1 L105.0 375.4 L105.5 381.7 L106.0 394.9 L106.5 406.9 L107.0 413.6 L107.5 416.2 L108.0 416.2 L108.5 417.0 L109.0 416.5 L109.5 417.0 L110.0 416.6 L110.5 416.6 L111.0 417.0 L111.5 415.6 L112.0 416.6 L112.5 416.7 L113.0 417.0 L113.5 416.9 L114.0 417.0 L114.5 416.9 L115.0 415.6 L115.5 415.9 L116.0 417.0 L116.5 416.5 L117.0 415.6 L117.5 416.8 L118.0 417.0 L118.5 415.9 L119.0 416.9 L119.5 415.3 L120.0 415.5 L120.5 415.1 L121.0 413.9 L121.5 414.8 L122.0 414.0 L122.5 415.4 L123.0 416.2 L123.5 416.6 L124.0 416.6 L124.5 417.0 L125.0 416.9 L125.5 416.2 L126.0 416.8 L126.5 416.8 L127.0 417.0 L127.5 415.4 L128.0 417.0 L128.5 416.5 L129.0 416.6 L129.5 417.0 L130.0 415.3 L130.5 417.0 L131.0 415.4 L131.5 415.7 L132.0 415.8 L132.5 416.0 L133.0 416.9 L133.5 416.9 L134.0 417.0 L134.5 415.6 L135.0 417.0 L135.5 417.0 L136.0 415.5 L136.5 416.1 L137.0 416.4 L137.5 415.5 L138.0 416.8 L138.5 416.0 L139.0 416.9 L139.5 415.8 L140.0 417.0 L140.5 416.9 L141.0 416.7 L141.5 416.2 L142.0 416.9 L142.5 416.5 L143.0 415.5 L143.5 416.9 L144.0 417.0 L144.5 417.0 L145.0 415.9 L145.5 416.9 L146.0 416.9 L146.5 416.8 L147.0 417.0 L147.5 417.0 L148.0 417.0 L148.5 417.0 L149.0 415.9 L149.5 417.0 L150.0 417.0 L150.5 415.9 L151.0 416.7 L151.5 417.0 L152.0 416.5 L152.5 416.5 L153.0 416.6 L153.5 416.2 L154.0 416.9 L154.5 417.0 L155.0 416.3 L155.5 416.6 L156.0 416.4 L156.5 417.0 L157.0 417.0 L157.5 416.5 L158.0 416.9 L158.5 416.7 L159.0 416.9 L159.5 416.3 L160.0 417.0 L160.5 416.8 L161.0 416.1 L161.5 417.0 L162.0 417.0 L162.5 416.6 L163.0 417.0 L163.5 415.9 L164.0 417.0 L164.5 415.8 L165.0 416.8 L165.5 417.0 L166.0 416.8 L166.5 416.5 L167.0 416.8 L167.5 416.6 L168.0 417.0 L168.5 415.5 L169.0 417.0 L169.5 416.2 L170.0 417.0 L170.5 416.8 L171.0 417.0 L171.5 417.0 L172.0 416.7 L172.5 415.8 L173.0 417.0 L173.5 416.9 L174.0 416.9 L174.5 416.7 L175.0 417.0 L175.5 417.0 L176.0 416.0 L176.5 416.7 L177.0 417.0 L177.5 416.1 L178.0 415.3 L178.5 416.9 L179.0 417.0 L179.5 417.0 L180.0 415.8 L180.5 417.0 L181.0 417.0 L181.5 416.2 L182.0 417.0 L182.5 416.0 L183.0 417.0 L183.5 416.9 L184.0 416.7 L184.5 417.0 L185.0 416.2 L185.5 416.9 L186.0 416.2 L186.5 416.3 L187.0 417.0 L187.5 416.1 L188.0 416.1 L188.5 417.0 L189.0 416.7 L189.5 417.0 L190.0 416.8 L190.5 416.3 L191.0 417.0 L191.5 416.8 L192.0 417.0 L192.5 415.9 L193.0 416.6 L193.5 416.0 L194.0 417.0 L194.5 416.3 L195.0 417.0 L195.5 416.7 L196.0 417.0 L196.5 415.8 L197.0 417.0 L197.5 416.9 L198.0 416.9 L198.5 416.9 L199.0 417.0 L199.5 416.5 L200.0 415.4 L200.5 417.0 L201.0 415.8 L201.5 417.0 L202.0 417.0 L202.5 416.9 L203.0 415.4 L203.5 416.2 L204.0 416.6 L204.5 417.0 L205.0 416.9 L205.5 417.0 L206.0 417.0 L206.5 417.0 L207.0 417.0 L207.5 417.0 L208.0 416.8 L208.5 416.2 L209.0 415.7 L209.5 415.7 L210.0 416.9 L210.5 417.0 L211.0 415.5 L211.5 416.9 L212.0 417.0 L212.5 416.1 L213.0 416.7 L213.5 415.5 L214.0 416.4 L214.5 415.6 L215.0 417.0 L215.5 415.6 L216.0 416.8 L216.5 416.5 L217.0 417.0 L217.5 417.0 L218.0 417.0 L218.5 417.0 L219.0 415.5 L219.5 417.0 L220.0 417.0 L220.5 416.6 L221.0 417.0 L221.5 417.0 L222.0 417.0 L222.5 417.0 L223.0 417.0 L223.5 416.3 L224.0 416.5 L224.5 417.0 L225.0 415.8 L225.5 416.7 L226.0 417.0 L226.5 415.5 L227.0 417.0 L227.5 416.1 L228.0 416.1 L228.5 417.0 L229.0 416.0 L229.5 416.9 L230.0 416.8 L230.5 415.6 L231.0 416.9 L231.5 417.0 L232.0 417.0 L232.5 415.4 L233.0 415.6 L233.5 413.9 L234.0 413.7 L234.5 413.6 L235.0 414.9 L235.5 415.5 L236.0 416.8 L236.5 415.7 L237.0 417.0 L237.5 417.0 L238.0 416.6 L238.5 417.0 L239.0 415.4 L239.5 417.0 L240.0 416.9 L240.5 417.0 L241.0 417.0 L241.5 416.8 L242.0 416.2 L242.5 417.0 L243.0 417.0 L243.5 417.0 L244.0 415.5 L244.5 416.9 L245.0 416.9 L245.5 415.6 L246.0 416.9 L246.5 416.9 L247.0 416.9 L247.5 417.0 L248.0 416.4 L248.5 417.0 L249.0 416.8 L249.5 416.7 L250.0 416.3 L250.5 416.3 L251.0 416.9 L251.5 415.6 L252.0 415.6 L252.5 415.6 L253.0 416.4 L253.5 416.9 L254.0 417.0 L254.5 415.9 L255.0 416.9 L255.5 416.3 L256.0 416.9 L256.5 417.0 L257.0 417.0 L257.5 416.4 L258.0 417.0 L258.5 416.8 L259.0 416.4 L259.5 416.0 L260.0 415.6 L260.5 416.5 L261.0 417.0 L261.5 415.6 L262.0 417.0 L262.5 416.9 L263.0 415.7 L263.5 416.0 L264.0 416.7 L264.5 415.9 L265.0 417.0 L265.5 417.0 L266.0 417.0 L266.5 415.6 L267.0 417.0 L267.5 417.0 L268.0 416.8 L268.5 417.0 L269.0 415.9 L269.5 417.0 L270.0 417.0 L270.5 415.3 L271.0 417.0 L271.5 417.0 L272.0 416.9 L272.5 415.9 L273.0 417.0 L273.5 416.7 L274.0 416.1 L274.5 416.6 L275.0 416.0 L275.5 417.0 L276.0 416.8 L276.5 417.0 L277.0 416.0 L277.5 417.0 L278.0 417.0 L278.5 416.9 L279.0 416.6 L279.5 417.0 L280.0 416.6 L280.5 417.0 L281.0 417.0 L281.5 417.0 L282.0 416.4 L282.5 416.0 L283.0 416.3 L283.5 417.0 L284.0 417.0 L284.5 415.5 L285.0 416.1 L285.5 415.5 L286.0 416.9 L286.5 415.9 L287.0 416.5 L287.5 416.2 L288.0 416.8 L288.5 416.2 L289.0 416.8 L289.5 417.0 L290.0 416.9 L290.5 417.0 L291.0 416.5 L291.5 417.0 L292.0 417.0 L292.5 416.2 L293.0 416.8 L293.5 417.0 L294.0 415.7 L294.5 415.6 L295.0 416.9 L295.5 416.8 L296.0 417.0 L296.5 417.0 L297.0 415.4 L297.5 416.8 L298.0 415.3 L298.5 417.0 L299.0 417.0 L299.5 417.0 L300.0 417.0 L300.5 416.3 L301.0 415.4 L301.5 416.3 L302.0 416.7 L302.5 416.9 L303.0 416.9 L303.5 417.0 L304.0 416.9 L304.5 417.0 L305.0 416.1 L305.5 416.8 L306.0 417.0 L306.5 416.0 L307.0 417.0 L307.5 415.9 L308.0 416.4 L308.5 416.6 L309.0 416.7 L309.5 416.6 L310.0 415.8 L310.5 415.2 L311.0 415.7 L311.5 412.7 L312.0 414.9 L312.5 415.2 L313.0 415.8 L313.5 416.6 L314.0 417.0 L314.5 415.8 L315.0 417.0 L315.5 417.0 L316.0 415.5 L316.5 417.0 L317.0 416.6 L317.5 417.0 L318.0 415.9 L318.5 417.0 L319.0 417.0 L319.5 416.8 L320.0 416.9 L320.5 416.3 L321.0 417.0 L321.5 417.0 L322.0 417.0 L322.5 416.8 L323.0 417.0 L323.5 416.7 L324.0 416.1 L324.5 416.5 L325.0 417.0 L325.5 416.9 L326.0 417.0 L326.5 416.9 L327.0 416.3 L327.5 417.0 L328.0 416.6 L328.5 415.2 L329.0 412.2 L329.5 401.6 L330.0 402.1 L330.5 413.1 L331.0 416.7 L331.5 416.6 L332.0 416.8 L332.5 417.0 L333.0 417.0 L333.5 416.8 L334.0 415.9 L334.5 417.0 L335.0 416.5 L335.5 416.8 L336.0 417.0 L336.5 416.9 L337.0 416.1 L337.5 417.0 L338.0 416.8 L338.5 416.9 L339.0 417.0 L339.5 416.9 L340.0 417.0 L340.5 416.9 L341.0 417.0 L341.5 416.7 L342.0 415.1 L342.5 411.5 L343.0 410.2 L343.5 415.0 L344.0 415.9 L344.5 417.0 L345.0 416.4 L345.5 416.9 L346.0 416.3 L346.5 416.9 L347.0 415.5 L347.5 416.9 L348.0 416.2 L348.5 417.0 L349.0 416.4 L349.5 417.0 L350.0 416.9 L350.5 417.0 L351.0 416.5 L351.5 416.7 L352.0 417.0 L352.5 415.6 L353.0 417.0 L353.5 416.9 L354.0 417.0 L354.5 417.0 L355.0 417.0 L355.5 415.6 L356.0 417.0 L356.5 416.4 L357.0 416.7 L357.5 416.0 L358.0 416.0 L358.5 417.0 L359.0 415.7 L359.5 417.0 L360.0 417.0 L360.5 417.0 L361.0 416.5 L361.5 416.7 L362.0 416.5 L362.5 417.0 L363.0 416.9 L363.5 417.0 L364.0 415.5 L364.5 416.7 L365.0 416.5 L365.5 416.9 L366.0 417.0 L366.5 417.0 L367.0 417.0 L367.5 416.3 L368.0 417.0 L368.5 416.9 L369.0 417.0 L369.5 417.0 L370.0 417.0 L370.5 416.8 L371.0 415.7 L371.5 416.2 L372.0 416.9 L372.5 417.0 L373.0 417.0 L373.5 417.0 L374.0 416.8 L374.5 415.5 L375.0 417.0 L375.5 417.0 L376.0 416.9 L376.5 416.7 L377.0 417.0 L377.5 417.0 L378.0 416.8 L378.5 417.0 L379.0 416.1 L379.5 416.5 L380.0 416.9 L380.5 415.3 L381.0 416.8 L381.5 415.6 L382.0 417.0 L382.5 417.0 L383.0 416.9 L383.5 416.8 L384.0 416.5 L384.5 417.0 L385.0 416.4 L385.5 417.0 L386.0 415.6 L386.5 416.2 L387.0 416.2 L387.5 417.0 L388.0 417.0 L388.5 417.0 L389.0 416.9 L389.5 417.0 L390.0 417.0 L390.5 417.0 L391.0 415.3 L391.5 416.9 L392.0 417.0 L392.5 417.0 L393.0 417.0 L393.5 417.0 L394.0 416.2 L394.5 415.7 L395.0 416.1 L395.5 417.0 L396.0 416.7 L396.5 416.0 L397.0 416.9 L397.5 416.2 L398.0 417.0 L398.5 416.8 L399.0 416.3 L399.5 416.9 L400.0 417.0 L400.5 415.5 L401.0 416.1 L401.5 417.0 L402.0 416.4 L402.5 417.0 L403.0 416.6 L403.5 416.4 L404.0 416.7 L404.5 416.9 L405.0 416.1 L405.5 416.9 L406.0 417.0 L406.5 417.0 L407.0 417.0 L407.5 416.2 L408.0 417.0 L408.5 415.5 L409.0 416.7 L409.5 417.0 L410.0 415.6 L410.5 415.4 L411.0 417.0 L411.5 416.7 L412.0 417.0 L412.5 417.0 L413.0 417.0 L413.5 415.8 L414.0 417.0 L414.5 417.0 L415.0 417.0 L415.5 417.0 L416.0 415.6 L416.5 417.0 L417.0 417.0 L417.5 417.0 L418.0 416.4 L418.5 417.0 L419.0 416.1 L419.5 415.6 L420.0 417.0 L420.5 416.9 L421.0 416.1 L421.5 416.8 L422.0 417.0 L422.5 415.7 L423.0 415.3 L423.5 417.0 L424.0 416.0 L424.5 417.0 L425.0 416.1 L425.5 417.0 L426.0 415.4 L426.5 417.0 L427.0 417.0 L427.5 416.9 L428.0 416.8 L428.5 416.2 L429.0 417.0 L429.5 417.0 L430.0 417.0 L430.5 417.0 L431.0 415.6 L431.5 416.8 L432.0 417.0 L432.5 417.0 L433.0 417.0 L433.5 416.9 L434.0 417.0 L434.5 416.6 L435.0 417.0 L435.5 416.5 L436.0 415.7 L436.5 416.3 L437.0 417.0 L437.5 416.9 L438.0 416.1 L438.5 417.0 L439.0 415.6 L439.5 417.0 L440.0 417.0 L440.5 417.0 L441.0 415.9 L441.5 417.0 L442.0 416.9 L442.5 416.7 L443.0 416.8 L443.5 415.3 L444.0 416.7 L444.5 417.0 L445.0 416.9 L445.5 417.0 L446.0 415.8 L446.5 417.0 L447.0 416.5 L447.5 416.9 L448.0 416.9 L448.5 416.8 L449.0 417.0 L449.5 416.6 L450.0 416.7 L450.5 416.1 L451.0 416.1 L451.5 417.0 L452.0 416.1 L452.5 417.0 L453.0 415.4 L453.5 416.7 L454.0 417.0 L454.5 416.8 L455.0 416.8 L455.5 416.8 L456.0 416.9 L456.5 416.7 L457.0 416.8 L457.5 416.2 L458.0 417.0 L458.5 416.9 L459.0 417.0 L459.5 416.3 L460.0 417.0 L460.5 415.9 L461.0 416.8 L461.5 416.7 L462.0 416.9 L462.5 416.8 L463.0 417.0 L463.5 417.0 L464.0 416.8 L464.5 417.0 L465.0 416.8 L465.5 416.8 L466.0 415.4 L466.5 416.6 L467.0 417.0 L467.5 416.5 L468.0 417.0 L468.5 417.0 L469.0 417.0 L469.5 415.8 L470.0 416.2 L470.5 416.9 L471.0 415.9 L471.5 416.8 L472.0 417.0 L472.5 416.4 L473.0 415.9 L473.5 416.5 L474.0 417.0 L474.5 416.9 L475.0 417.0 L475.5 417.0 L476.0 417.0 L476.5 415.5 L477.0 416.4 L477.5 416.8 L478.0 416.5 L478.5 416.5 L479.0 416.9 L479.5 417.0 L480.0 416.8 L480.5 416.8 L481.0 417.0 L481.5 417.0 L482.0 416.7 L482.5 416.6 L483.0 417.0 L483.5 417.0 L484.0 416.3 L484.5 415.4 L485.0 416.4 L485.5 416.1 L486.0 416.4 L486.5 416.9 L487.0 416.7 L487.5 416.9 L488.0 415.4 L488.5 417.0 L489.0 415.3 L489.5 417.0 L490.0 417.0 L490.5 416.7 L491.0 415.6 L491.5 415.9 L492.0 416.3 L492.5 416.6 L493.0 416.3 L493.5 417.0 L494.0 417.0 L494.5 416.7 L495.0 417.0 L495.5 416.9 L496.0 416.3 L496.5 415.4 L497.0 417.0 L497.5 415.7 L498.0 417.0 L498.5 416.8 L499.0 416.2 L499.5 416.5 L500.0 416.9 L500.5 415.7 L501.0 415.7 L501.5 411.4 L502.0 408.0 L502.5 411.1 L503.0 415.6 L503.5 416.8 L504.0 417.0 L504.5 417.0 L505.0 416.9 L505.5 417.0 L506.0 416.9 L506.5 416.0 L507.0 416.5 L507.5 417.0 L508.0 417.0 L508.5 417.0 L509.0 416.1 L509.5 417.0 L510.0 416.7 L510.5 417.0 L511.0 416.5 L511.5 417.0 L512.0 416.9 L512.5 416.9 L513.0 416.8 L513.5 417.0 L514.0 416.5 L514.5 415.5 L515.0 417.0 L515.5 417.0 L516.0 417.0 L516.5 417.0 L517.0 415.9 L517.5 417.0 L518.0 417.0 L518.5 416.8 L519.0 416.9 L519.5 417.0 L520.0 416.5 L520.5 416.9 L521.0 415.5 L521.5 417.0 L522.0 416.8 L522.5 417.0 L523.0 417.0 L523.5 415.5 L524.0 415.8 L524.5 416.3 L525.0 416.8 L525.5 416.5 L526.0 417.0 L526.5 417.0 L527.0 417.0 L527.5 417.0 L528.0 416.9 L528.5 416.8 L529.0 417.0 L529.5 417.0 L530.0 416.2 L530.5 416.2 L531.0 417.0 L531.5 416.7 L532.0 417.0 L532.5 416.6 L533.0 416.6 L533.5 417.0 L534.0 416.0 L534.5 416.6 L535.0 415.5 L535.5 417.0 L536.0 417.0 L536.5 416.2 L537.0 416.3 L537.5 417.0 L538.0 416.9 L538.5 417.0 L539.0 416.9 L539.5 415.4 L540.0 417.0 L540.5 417.0 L541.0 415.8 L541.5 414.8 L542.0 414.9 L542.5 413.9 L543.0 415.0 L543.5 415.9 L544.0 415.7 L544.5 415.7 L545.0 416.7 L545.5 416.9 L546.0 416.0 L546.5 416.5 L547.0 415.4 L547.5 417.0 L548.0 416.3 L548.5 416.2 L549.0 417.0 L549.5 417.0 L550.0 417.0 L550.5 415.4 L551.0 416.3 L551.5 417.0 L552.0 416.0 L552.5 417.0 L553.0 416.3 L553.5 416.8 L554.0 415.4 L554.5 417.0 L555.0 417.0 L555.5 417.0 L556.0 416.9 L556.5 416.9 L557.0 417.0 L557.5 416.9 L558.0 417.0 L558.5 416.6 L559.0 416.0 L559.5 417.0 L560.0 416.9 L560.5 415.5 L561.0 416.0 L561.5 416.5 L562.0 416.7 L562.5 415.5 L563.0 416.9 L563.5 416.6 L564.0 415.8 L564.5 417.0 L565.0 416.9 L565.5 416.5 L566.0 416.4 L566.5 416.4 L567.0 416.9 L567.5 417.0 L568.0 416.3 L568.5 416.4 L569.0 416.8 L569.5 417.0 L570.0 417.0 L570.5 416.8 L571.0 415.7 L571.5 415.9 L572.0 416.3 L572.5 416.9 L573.0 415.9 L573.5 415.9 L574.0 417.0 L574.5 416.8 L575.0 417.0 L575.5 417.0 L576.0 416.8 L576.5 417.0 L577.0 415.6 L577.5 415.4 L578.0 417.0 L578.5 417.0 L579.0 417.0 L579.5 415.7 L580.0 417.0 L580.5 416.1 L581.0 415.3 L581.5 417.0 L582.0 416.0 L582.5 417.0 L583.0 417.0 L583.5 416.5 L584.0 417.0 L584.5 417.0 L585.0 416.8 L585.5 416.2 L586.0 416.9 L586.5 416.8 L587.0 416.3 L587.5 417.0 L588.0 416.8 L588.5 417.0 L589.0 417.0 L589.5 417.0 L590.0 417.0 L590.5 415.7 L591.0 417.0 L591.5 416.8 L592.0 417.0 L592.5 417.0 L593.0 415.7 L593.5 416.8 L594.0 415.9 L594.5 416.6 L595.0 416.7 L595.5 416.3 L596.0 417.0 L596.5 417.0 L597.0 416.5 L597.5 415.3 L598.0 417.0" stroke="#000" stroke-width="1"/>
</g>
<!-- inset -->
<rect x="494.1" y="14.4" width="96.4" height="140.6" fill="#fff"/>
<g clip-path="url(#ci)" fill="none">
<path d="M494.6 123.5 L494.8 126.7 L495.0 115.8 L495.3 127.0 L495.5 130.8 L495.7 130.4 L495.9 125.1 L496.1 117.5 L496.4 112.2 L496.6 115.8 L496.8 132.0 L497.0 127.0 L497.2 115.5 L497.5 116.0 L497.7 118.6 L497.9 120.9 L498.1 131.6 L498.3 125.6 L498.6 132.0 L498.8 120.8 L499.0 140.5 L499.2 129.5 L499.4 130.0 L499.7 136.1 L499.9 126.7 L500.1 120.4 L500.3 137.5 L500.5 128.0 L500.8 129.8 L501.0 122.6 L501.2 127.2 L501.4 131.8 L501.6 122.1 L501.9 128.9 L502.1 124.7 L502.3 123.2 L502.5 121.2 L502.7 117.3 L503.0 120.7 L503.2 115.9 L503.4 102.3 L503.6 107.4 L503.8 101.2 L504.1 113.3 L504.3 109.1 L504.5 101.2 L504.7 96.0 L504.9 93.6 L505.2 95.5 L505.4 102.2 L505.6 86.4 L505.8 90.4 L506.0 77.9 L506.3 69.7 L506.5 49.4 L506.7 28.4 L506.9 19.2 L507.1 15.4 L507.4 19.4 L507.6 33.3 L507.8 65.7 L508.0 53.5 L508.2 60.4 L508.5 45.9 L508.7 71.8 L508.9 71.3 L509.1 73.7 L509.3 70.3 L509.6 86.3 L509.8 64.7 L510.0 74.5 L510.2 79.2 L510.4 83.2 L510.7 90.2 L510.9 103.3 L511.1 93.7 L511.3 97.6 L511.5 97.5 L511.8 101.0 L512.0 91.6 L512.2 102.7 L512.4 113.4 L512.6 113.5 L512.9 114.2 L513.1 119.9 L513.3 116.8 L513.5 119.6 L513.7 117.7 L514.0 115.1 L514.2 107.0 L514.4 117.5 L514.6 102.5 L514.8 121.7 L515.1 111.5 L515.3 123.0 L515.5 121.5 L515.7 125.0 L515.9 121.8 L516.2 126.2 L516.4 124.5 L516.6 113.8 L516.8 123.1 L517.0 126.4 L517.3 119.2 L517.5 121.7 L517.7 123.0 L517.9 112.8 L518.1 116.1 L518.4 118.4 L518.6 138.9 L518.8 125.0 L519.0 133.5 L519.2 121.7 L519.5 122.6 L519.7 125.0 L519.9 137.2 L520.1 125.4 L520.3 128.3 L520.6 128.1 L520.8 123.8 L521.0 121.8 L521.2 127.8 L521.4 127.1 L521.7 132.9 L521.9 140.8 L522.1 123.8 L522.3 140.0 L522.5 127.8 L522.8 128.6 L523.0 133.8 L523.2 134.3 L523.4 130.7 L523.6 117.2 L523.9 135.8 L524.1 126.6 L524.3 122.1 L524.5 120.2 L524.7 119.0 L525.0 118.5 L525.2 119.3 L525.4 122.8 L525.6 110.8 L525.8 121.5 L526.1 130.1 L526.3 133.8 L526.5 125.0 L526.7 116.1 L526.9 134.5 L527.2 125.6 L527.4 130.1 L527.6 121.6 L527.8 122.6 L528.0 124.1 L528.3 122.2 L528.5 122.6 L528.7 114.9 L528.9 130.5 L529.1 118.0 L529.4 128.5 L529.6 126.5 L529.8 127.0 L530.0 140.7 L530.2 133.8 L530.5 125.7 L530.7 133.7 L530.9 127.3 L531.1 117.8 L531.3 135.6 L531.6 127.5 L531.8 122.7 L532.0 119.4 L532.2 124.3 L532.4 136.9 L532.7 131.8 L532.9 132.4 L533.1 128.7 L533.3 135.4 L533.5 124.3 L533.8 124.6 L534.0 132.9 L534.2 119.6 L534.4 136.4 L534.6 129.9 L534.9 137.0 L535.1 142.1 L535.3 127.1 L535.5 127.5 L535.7 136.3 L536.0 132.2 L536.2 135.0 L536.4 131.2 L536.6 128.4 L536.8 136.0 L537.1 116.2 L537.3 122.1 L537.5 123.0 L537.7 121.8 L537.9 126.3 L538.2 127.4 L538.4 118.9 L538.6 121.4 L538.8 125.8 L539.0 125.9 L539.3 119.0 L539.5 117.0 L539.7 125.9 L539.9 121.0 L540.1 120.4 L540.4 115.2 L540.6 114.6 L540.8 125.1 L541.0 117.6 L541.2 127.4 L541.5 119.6 L541.7 121.4 L541.9 128.3 L542.1 134.4 L542.3 121.3 L542.6 128.1 L542.8 127.3 L543.0 123.8 L543.2 123.2 L543.4 128.0 L543.7 119.2 L543.9 121.6 L544.1 124.7 L544.3 127.9 L544.5 122.1 L544.8 119.3 L545.0 115.5 L545.2 121.0 L545.4 115.0 L545.6 130.3 L545.9 128.3 L546.1 113.3 L546.3 129.5 L546.5 118.7 L546.7 121.1 L547.0 125.1 L547.2 120.0 L547.4 118.8 L547.6 122.2 L547.8 121.8 L548.1 118.2 L548.3 134.6 L548.5 114.9 L548.7 126.3 L548.9 113.4 L549.2 127.5 L549.4 126.7 L549.6 118.0 L549.8 134.2 L550.0 127.9 L550.3 122.1 L550.5 129.9 L550.7 127.1 L550.9 121.5 L551.1 124.7 L551.4 134.9 L551.6 129.1 L551.8 118.6 L552.0 122.0 L552.2 132.5 L552.5 127.7 L552.7 119.5 L552.9 137.4 L553.1 117.7 L553.3 119.8 L553.6 117.2 L553.8 130.8 L554.0 122.4 L554.2 119.0 L554.4 138.2 L554.7 126.1 L554.9 124.6 L555.1 128.5 L555.3 124.4 L555.5 128.2 L555.8 138.5 L556.0 119.0 L556.2 124.2 L556.4 121.3 L556.6 120.7 L556.9 117.0 L557.1 137.3 L557.3 124.5 L557.5 130.9 L557.7 123.4 L558.0 131.4 L558.2 123.9 L558.4 124.0 L558.6 114.0 L558.8 127.7 L559.1 108.8 L559.3 125.5 L559.5 118.0 L559.7 126.0 L559.9 124.2 L560.2 122.7 L560.4 114.1 L560.6 123.4 L560.8 121.5 L561.0 117.5 L561.3 116.5 L561.5 127.1 L561.7 118.4 L561.9 111.0 L562.1 113.9 L562.4 127.5 L562.6 132.2 L562.8 110.6 L563.0 119.5 L563.2 118.0 L563.5 110.4 L563.7 115.2 L563.9 120.2 L564.1 105.2 L564.3 110.8 L564.6 115.0 L564.8 124.2 L565.0 131.3 L565.2 131.9 L565.4 127.5 L565.7 130.1 L565.9 133.4 L566.1 128.1 L566.3 124.1 L566.5 114.4 L566.8 121.0 L567.0 116.4 L567.2 120.3 L567.4 121.5 L567.6 117.2 L567.9 115.1 L568.1 125.8 L568.3 126.0 L568.5 115.9 L568.7 126.5 L569.0 131.2 L569.2 132.9 L569.4 119.8 L569.6 112.8 L569.8 127.0 L570.1 124.8 L570.3 123.0 L570.5 110.9 L570.7 126.9 L570.9 126.1 L571.2 132.8 L571.4 130.4 L571.6 131.0 L571.8 126.9 L572.0 114.7 L572.3 119.3 L572.5 127.4 L572.7 125.7 L572.9 124.3 L573.1 119.5 L573.4 117.0 L573.6 121.2 L573.8 122.6 L574.0 110.6 L574.2 111.9 L574.5 107.6 L574.7 99.5 L574.9 103.5 L575.1 101.4 L575.3 99.7 L575.6 102.7 L575.8 105.0 L576.0 92.3 L576.2 84.6 L576.4 77.5 L576.7 81.9 L576.9 73.9 L577.1 80.5 L577.3 75.3 L577.5 58.1 L577.8 66.0 L578.0 73.7 L578.2 71.5 L578.4 70.5 L578.6 66.1 L578.9 75.7 L579.1 78.5 L579.3 82.9 L579.5 79.5 L579.7 77.2 L580.0 103.0 L580.2 86.1 L580.4 89.5 L580.6 87.2 L580.8 92.3 L581.1 95.9 L581.3 104.2 L581.5 114.1 L581.7 110.6 L581.9 102.9 L582.2 98.2 L582.4 120.3 L582.6 118.9 L582.8 120.4 L583.0 116.6 L583.3 116.5 L583.5 127.7 L583.7 124.1 L583.9 109.1 L584.1 118.9 L584.4 124.6 L584.6 117.5 L584.8 117.8 L585.0 120.1 L585.2 128.3 L585.5 118.2 L585.7 114.7 L585.9 118.8 L586.1 117.3 L586.3 109.5 L586.6 126.3 L586.8 113.9 L587.0 121.1 L587.2 122.2 L587.4 112.5 L587.7 117.6 L587.9 123.8 L588.1 131.6 L588.3 125.5 L588.5 118.4 L588.8 113.7 L589.0 125.1 L589.2 115.8 L589.4 127.7 L589.6 120.3 L589.9 113.6" stroke="#f33" stroke-width="0.65"/>
<path d="M494.6 147.1 L495.1 149.7 L495.6 149.7 L496.1 146.7 L496.6 149.7 L497.1 149.7 L497.6 148.9 L498.1 149.6 L498.6 147.6 L499.1 149.7 L499.6 147.0 L500.1 149.6 L500.6 149.0 L501.1 147.2 L501.6 148.6 L502.1 147.1 L502.6 148.3 L503.1 149.2 L503.6 146.8 L504.1 147.9 L504.6 147.9 L505.1 147.3 L505.6 144.5 L506.1 144.0 L506.6 139.4 L507.1 137.9 L507.6 136.0 L508.1 139.6 L508.6 141.4 L509.1 143.4 L509.6 145.0 L510.1 143.1 L510.6 146.4 L511.1 145.7 L511.6 145.1 L512.1 147.5 L512.6 148.7 L513.1 147.4 L513.6 148.4 L514.1 149.4 L514.6 149.6 L515.1 149.2 L515.6 149.7 L516.1 147.3 L516.6 149.3 L517.1 149.3 L517.6 149.5 L518.1 148.8 L518.6 147.4 L519.1 149.6 L519.6 149.5 L520.1 149.1 L520.6 149.6 L521.1 149.1 L521.6 149.2 L522.1 149.5 L522.6 148.8 L523.1 149.3 L523.6 149.7 L524.1 146.7 L524.6 149.6 L525.1 149.5 L525.6 149.5 L526.1 147.3 L526.6 147.1 L527.1 149.3 L527.6 149.5 L528.1 149.7 L528.6 147.5 L529.1 149.7 L529.6 149.2 L530.1 149.6 L530.6 149.6 L531.1 149.6 L531.6 149.7 L532.1 149.7 L532.6 149.2 L533.1 148.2 L533.6 148.9 L534.1 149.7 L534.6 148.7 L535.1 149.7 L535.6 149.5 L536.1 148.0 L536.6 147.4 L537.1 149.4 L537.6 147.9 L538.1 149.3 L538.6 149.3 L539.1 149.1 L539.6 146.8 L540.1 148.5 L540.6 149.4 L541.1 148.5 L541.6 148.9 L542.1 149.6 L542.6 148.3 L543.1 148.0 L543.6 149.0 L544.1 147.2 L544.6 149.7 L545.1 149.3 L545.6 148.9 L546.1 149.6 L546.6 149.7 L547.1 148.7 L547.6 149.5 L548.1 149.6 L548.6 149.7 L549.1 147.0 L549.6 149.6 L550.1 149.7 L550.6 149.7 L551.1 149.7 L551.6 147.8 L552.1 149.7 L552.6 149.6 L553.1 149.7 L553.6 149.4 L554.1 149.7 L554.6 149.6 L555.1 148.5 L555.6 147.3 L556.1 148.0 L556.6 149.7 L557.1 149.5 L557.6 147.9 L558.1 149.7 L558.6 149.7 L559.1 149.3 L559.6 149.5 L560.1 148.4 L560.6 148.6 L561.1 149.4 L561.6 149.7 L562.1 149.7 L562.6 149.6 L563.1 149.7 L563.6 148.8 L564.1 149.7 L564.6 147.6 L565.1 148.9 L565.6 149.7 L566.1 149.3 L566.6 149.0 L567.1 149.7 L567.6 149.4 L568.1 149.7 L568.6 148.3 L569.1 149.7 L569.6 148.9 L570.1 146.8 L570.6 147.8 L571.1 149.6 L571.6 149.1 L572.1 149.5 L572.6 149.3 L573.1 147.4 L573.6 147.5 L574.1 148.9 L574.6 148.5 L575.1 147.6 L575.6 147.9 L576.1 145.6 L576.6 143.9 L577.1 144.1 L577.6 143.4 L578.1 141.4 L578.6 143.5 L579.1 145.1 L579.6 146.1 L580.1 146.8 L580.6 145.5 L581.1 147.2 L581.6 147.0 L582.1 146.6 L582.6 145.8 L583.1 148.8 L583.6 148.9 L584.1 147.2 L584.6 148.1 L585.1 149.3 L585.6 148.7 L586.1 149.6 L586.6 149.6 L587.1 149.7 L587.6 149.5 L588.1 149.7 L588.6 149.3 L589.1 147.0 L589.6 149.7" stroke="#222" stroke-width="0.7"/>
</g>
<rect x="494.6" y="14.9" width="95.4" height="136.8" fill="none" stroke="#aaa" stroke-width="0.8"/>
<path d="M494.6 154.3H590" stroke="#aaa" stroke-width="0.7"/>
<path d="M495.6 14.9v1.5M495.6 151.7v2.5M497.8 14.9v1.5M497.8 151.7v2.5M500.0 14.9v3.0M500.0 151.7v2.5M502.2 14.9v1.5M502.2 151.7v2.5M504.4 14.9v1.5M504.4 151.7v2.5M506.6 14.9v1.5M506.6 151.7v2.5M508.8 14.9v1.5M508.8 151.7v2.5M511.0 14.9v3.0M511.0 151.7v2.5M513.2 14.9v1.5M513.2 151.7v2.5M515.4 14.9v1.5M515.4 151.7v2.5M517.6 14.9v1.5M517.6 151.7v2.5M519.8 14.9v1.5M519.8 151.7v2.5M522.0 14.9v3.0M522.0 151.7v2.5M524.2 14.9v1.5M524.2 151.7v2.5M526.4 14.9v1.5M526.4 151.7v2.5M528.6 14.9v1.5M528.6 151.7v2.5M530.8 14.9v1.5M530.8 151.7v2.5M533.0 14.9v3.0M533.0 151.7v2.5M535.2 14.9v1.5M535.2 151.7v2.5M537.4 14.9v1.5M537.4 151.7v2.5M539.6 14.9v1.5M539.6 151.7v2.5M541.8 14.9v1.5M541.8 151.7v2.5M544.0 14.9v3.0M544.0 151.7v2.5M546.2 14.9v1.5M546.2 151.7v2.5M548.4 14.9v1.5M548.4 151.7v2.5M550.6 14.9v1.5M550.6 151.7v2.5M552.8 14.9v1.5M552.8 151.7v2.5M555.0 14.9v3.0M555.0 151.7v2.5M557.2 14.9v1.5M557.2 151.7v2.5M559.4 14.9v1.5M559.4 151.7v2.5M561.6 14.9v1.5M561.6 151.7v2.5M563.8 14.9v1.5M563.8 151.7v2.5M566.0 14.9v3.0M566.0 151.7v2.5M568.2 14.9v1.5M568.2 151.7v2.5M570.4 14.9v1.5M570.4 151.7v2.5M572.6 14.9v1.5M572.6 151.7v2.5M574.8 14.9v1.5M574.8 151.7v2.5M577.0 14.9v3.0M577.0 151.7v2.5M579.2 14.9v1.5M579.2 151.7v2.5M581.4 14.9v1.5M581.4 151.7v2.5M583.6 14.9v1.5M583.6 151.7v2.5M585.8 14.9v1.5M585.8 151.7v2.5M588.0 14.9v3.0M588.0 151.7v2.5M494.6 20.2h1.5M590.0 20.2h-1.5M494.6 25.6h1.5M590.0 25.6h-1.5M494.6 31.0h1.5M590.0 31.0h-1.5M494.6 36.4h1.5M590.0 36.4h-1.5M494.6 41.8h3.0M590.0 41.8h-3.0M494.6 47.2h1.5M590.0 47.2h-1.5M494.6 52.6h1.5M590.0 52.6h-1.5M494.6 58.0h1.5M590.0 58.0h-1.5M494.6 63.4h1.5M590.0 63.4h-1.5M494.6 68.8h3.0M590.0 68.8h-3.0M494.6 74.2h1.5M590.0 74.2h-1.5M494.6 79.6h1.5M590.0 79.6h-1.5M494.6 85.0h1.5M590.0 85.0h-1.5M494.6 90.4h1.5M590.0 90.4h-1.5M494.6 95.8h3.0M590.0 95.8h-3.0M494.6 101.2h1.5M590.0 101.2h-1.5M494.6 106.6h1.5M590.0 106.6h-1.5M494.6 112.0h1.5M590.0 112.0h-1.5M494.6 117.4h1.5M590.0 117.4h-1.5M494.6 122.8h3.0M590.0 122.8h-3.0M494.6 128.2h1.5M590.0 128.2h-1.5M494.6 133.6h1.5M590.0 133.6h-1.5M494.6 139.0h1.5M590.0 139.0h-1.5M494.6 144.4h1.5M590.0 144.4h-1.5M494.6 149.8h3.0M590.0 149.8h-3.0" stroke="#999" stroke-width="0.6" fill="none"/>
<g font-size="10.7" text-anchor="middle">
<text x="551.6" y="29.8">Si<tspan font-size="8.2" dx="2.3">IV</tspan><tspan dx="1"> ~1400</tspan></text>
<text x="551.2" y="41.8">~20x stronger</text>
<text x="551.3" y="53.5">at maximum</text>
</g>
<!-- frames -->
<g fill="none" stroke="#555" stroke-width="1.3">
<rect x="38" y="4.5" width="560" height="195.7"/>
<rect x="38" y="225" width="560" height="195.8"/>
<path d="M50.6 4.5v3.0M50.6 200.2v-3.0M67.3 4.5v3.0M67.3 200.2v-3.0M84.0 4.5v3.0M84.0 200.2v-3.0M100.8 4.5v3.0M100.8 200.2v-3.0M117.5 4.5v5.5M117.5 200.2v-5.5M134.2 4.5v3.0M134.2 200.2v-3.0M151.0 4.5v3.0M151.0 200.2v-3.0M167.7 4.5v3.0M167.7 200.2v-3.0M184.4 4.5v3.0M184.4 200.2v-3.0M201.2 4.5v5.5M201.2 200.2v-5.5M217.9 4.5v3.0M217.9 200.2v-3.0M234.6 4.5v3.0M234.6 200.2v-3.0M251.4 4.5v3.0M251.4 200.2v-3.0M268.1 4.5v3.0M268.1 200.2v-3.0M284.8 4.5v5.5M284.8 200.2v-5.5M301.6 4.5v3.0M301.6 200.2v-3.0M318.3 4.5v3.0M318.3 200.2v-3.0M335.0 4.5v3.0M335.0 200.2v-3.0M351.7 4.5v3.0M351.7 200.2v-3.0M368.5 4.5v5.5M368.5 200.2v-5.5M385.2 4.5v3.0M385.2 200.2v-3.0M401.9 4.5v3.0M401.9 200.2v-3.0M418.7 4.5v3.0M418.7 200.2v-3.0M435.4 4.5v3.0M435.4 200.2v-3.0M452.1 4.5v5.5M452.1 200.2v-5.5M468.9 4.5v3.0M468.9 200.2v-3.0M485.6 4.5v3.0M485.6 200.2v-3.0M502.3 4.5v3.0M502.3 200.2v-3.0M519.1 4.5v3.0M519.1 200.2v-3.0M535.8 4.5v5.5M535.8 200.2v-5.5M552.5 4.5v3.0M552.5 200.2v-3.0M569.3 4.5v3.0M569.3 200.2v-3.0M586.0 4.5v3.0M586.0 200.2v-3.0M38.0 198.6h5.5M598.0 198.6h-5.5M38.0 190.8h3.0M598.0 190.8h-3.0M38.0 183.1h3.0M598.0 183.1h-3.0M38.0 175.3h3.0M598.0 175.3h-3.0M38.0 167.5h3.0M598.0 167.5h-3.0M38.0 159.8h5.5M598.0 159.8h-5.5M38.0 152.0h3.0M598.0 152.0h-3.0M38.0 144.3h3.0M598.0 144.3h-3.0M38.0 136.5h3.0M598.0 136.5h-3.0M38.0 128.7h3.0M598.0 128.7h-3.0M38.0 121.0h5.5M598.0 121.0h-5.5M38.0 113.2h3.0M598.0 113.2h-3.0M38.0 105.4h3.0M598.0 105.4h-3.0M38.0 97.7h3.0M598.0 97.7h-3.0M38.0 89.9h3.0M598.0 89.9h-3.0M38.0 82.1h5.5M598.0 82.1h-5.5M38.0 74.4h3.0M598.0 74.4h-3.0M38.0 66.6h3.0M598.0 66.6h-3.0M38.0 58.8h3.0M598.0 58.8h-3.0M38.0 51.1h3.0M598.0 51.1h-3.0M38.0 43.3h5.5M598.0 43.3h-5.5M38.0 35.6h3.0M598.0 35.6h-3.0M38.0 27.8h3.0M598.0 27.8h-3.0M38.0 20.0h3.0M598.0 20.0h-3.0M38.0 12.3h3.0M598.0 12.3h-3.0M38.0 4.5h5.5M598.0 4.5h-5.5M42.1 225.0v3.0M42.1 420.8v-3.0M60.2 225.0v3.0M60.2 420.8v-3.0M78.3 225.0v5.5M78.3 420.8v-5.5M96.4 225.0v3.0M96.4 420.8v-3.0M114.5 225.0v3.0M114.5 420.8v-3.0M132.6 225.0v3.0M132.6 420.8v-3.0M150.7 225.0v3.0M150.7 420.8v-3.0M168.7 225.0v5.5M168.7 420.8v-5.5M186.8 225.0v3.0M186.8 420.8v-3.0M204.9 225.0v3.0M204.9 420.8v-3.0M223.0 225.0v3.0M223.0 420.8v-3.0M241.1 225.0v3.0M241.1 420.8v-3.0M259.2 225.0v5.5M259.2 420.8v-5.5M277.3 225.0v3.0M277.3 420.8v-3.0M295.4 225.0v3.0M295.4 420.8v-3.0M313.4 225.0v3.0M313.4 420.8v-3.0M331.5 225.0v3.0M331.5 420.8v-3.0M349.6 225.0v5.5M349.6 420.8v-5.5M367.7 225.0v3.0M367.7 420.8v-3.0M385.8 225.0v3.0M385.8 420.8v-3.0M403.9 225.0v3.0M403.9 420.8v-3.0M422.0 225.0v3.0M422.0 420.8v-3.0M440.1 225.0v5.5M440.1 420.8v-5.5M458.1 225.0v3.0M458.1 420.8v-3.0M476.2 225.0v3.0M476.2 420.8v-3.0M494.3 225.0v3.0M494.3 420.8v-3.0M512.4 225.0v3.0M512.4 420.8v-3.0M530.5 225.0v5.5M530.5 420.8v-5.5M548.6 225.0v3.0M548.6 420.8v-3.0M566.7 225.0v3.0M566.7 420.8v-3.0M584.8 225.0v3.0M584.8 420.8v-3.0M38.0 418.4h5.5M598.0 418.4h-5.5M38.0 410.7h3.0M598.0 410.7h-3.0M38.0 402.9h3.0M598.0 402.9h-3.0M38.0 395.2h3.0M598.0 395.2h-3.0M38.0 387.4h3.0M598.0 387.4h-3.0M38.0 379.7h5.5M598.0 379.7h-5.5M38.0 372.0h3.0M598.0 372.0h-3.0M38.0 364.2h3.0M598.0 364.2h-3.0M38.0 356.5h3.0M598.0 356.5h-3.0M38.0 348.7h3.0M598.0 348.7h-3.0M38.0 341.0h5.5M598.0 341.0h-5.5M38.0 333.3h3.0M598.0 333.3h-3.0M38.0 325.5h3.0M598.0 325.5h-3.0M38.0 317.8h3.0M598.0 317.8h-3.0M38.0 310.0h3.0M598.0 310.0h-3.0M38.0 302.3h5.5M598.0 302.3h-5.5M38.0 294.6h3.0M598.0 294.6h-3.0M38.0 286.8h3.0M598.0 286.8h-3.0M38.0 279.1h3.0M598.0 279.1h-3.0M38.0 271.3h3.0M598.0 271.3h-3.0M38.0 263.6h5.5M598.0 263.6h-5.5M38.0 255.9h3.0M598.0 255.9h-3.0M38.0 248.1h3.0M598.0 248.1h-3.0M38.0 240.4h3.0M598.0 240.4h-3.0M38.0 232.6h3.0M598.0 232.6h-3.0M38.0 224.9h5.5M598.0 224.9h-5.5" stroke-width="1"/>
</g>
<!-- pointer lines -->
<path d="M99.3 262.5L119.2 279.1M105.9 254.8L119.2 279.1" stroke="#000" stroke-width="0.7" fill="none"/>
<!-- N V marks -->
<path d="M448.3 156v7.5M463.3 156v18.5" stroke="#444" stroke-width="0.75" fill="none"/>
<!-- legend -->
<path d="M46 151.8H71.8" stroke="#505050" stroke-width="1.4"/>
<path d="M46 164H71.8" stroke="#d87878" stroke-width="1.6"/>
<g font-size="10.5">
<text x="77.8" y="155">Minimum Emission</text>
<text x="77.8" y="167.2">Maximum Emission</text>
</g>
<g font-size="13.5" font-weight="bold" text-anchor="middle">
<text x="101.8" y="115.6">δ Cep COS</text>
<text x="102" y="131.2">G130M Spectra</text>
</g>
<text x="380" y="28.4" font-size="12">Lyman-α</text>
<g font-size="11">
<text x="81.0" y="182.5" font-size="13" text-anchor="start">O<tspan font-size="9.0" dx="2.5">I</tspan></text><text x="192.0" y="180.5" font-size="13" text-anchor="start">C<tspan font-size="9.0" dx="2.5">III</tspan></text><text x="275.8" y="157" font-size="13" text-anchor="start">N<tspan font-size="9.0" dx="2.5">I</tspan></text><text x="279.5" y="169.5" font-size="13" text-anchor="start">S<tspan font-size="9.0" dx="2.5">III</tspan></text><text x="300.8" y="115.8" font-size="13" text-anchor="start">Si<tspan font-size="9.0" dx="2.5">III</tspan></text><text x="447.0" y="152.5" font-size="13" text-anchor="start">N<tspan font-size="9.0" dx="2.5">V</tspan></text><text x="506.1" y="171.3" font-size="13" text-anchor="start">C<tspan font-size="9.0" dx="2.5">III</tspan></text><text x="508.0" y="183" font-size="13" text-anchor="start">C<tspan font-size="9.0" dx="2.5">I</tspan></text><text x="538.4" y="183" font-size="13" text-anchor="start">Si<tspan font-size="9.0" dx="2.5">II</tspan></text><text x="561.0" y="183" font-size="13" text-anchor="start">C<tspan font-size="9.0" dx="2.5">I</tspan></text>
<text x="71.3" y="261.3" font-size="13" text-anchor="start">O<tspan font-size="9.0" dx="2.5">I</tspan></text><text x="72.8" y="273.6" font-size="13" text-anchor="start">S<tspan font-size="9.0" dx="2.5">I</tspan></text><text x="111.5" y="291.5" font-size="13" text-anchor="start">O<tspan font-size="9.0" dx="2.5">I</tspan></text><text x="54.5" y="300" font-size="13" text-anchor="start">S<tspan font-size="9.0" dx="2.5">I</tspan></text><text x="62.0" y="382" font-size="13" text-anchor="start">Si<tspan font-size="9.0" dx="2.5">III</tspan></text><text x="69.9" y="394.3" font-size="13" text-anchor="start">S<tspan font-size="9.0" dx="2.5">I</tspan></text><text x="115.0" y="347" font-size="13" text-anchor="start">S<tspan font-size="9.0" dx="2.5">II</tspan></text><text x="137.5" y="398.8" font-size="13" text-anchor="start">Ni<tspan font-size="9.0" dx="2.5">II</tspan></text><text x="165.0" y="398.8" font-size="13" text-anchor="start">N<tspan font-size="9.0" dx="2.5">I</tspan></text><text x="220.8" y="305" font-size="13" text-anchor="start">C<tspan font-size="9.0" dx="2.5">II</tspan></text><text x="239.3" y="335" font-size="13" text-anchor="start">Ni<tspan font-size="9.0" dx="2.5">II</tspan></text><text x="242.8" y="382.2" font-size="13" text-anchor="start">C<tspan font-size="9.0" dx="2.5">II</tspan></text><text x="302.9" y="333.7" font-size="13" text-anchor="start">Cl<tspan font-size="9.0" dx="2.5">I</tspan></text><text x="322.0" y="273.8" font-size="13" text-anchor="start">O<tspan font-size="9.0" dx="2.5">I</tspan></text><text x="336.5" y="339.4" font-size="13" text-anchor="start">O<tspan font-size="9.0" dx="2.5">I</tspan></text><text x="505.7" y="365.0" font-size="13" text-anchor="start">Si<tspan font-size="9.0" dx="2.5">IV</tspan></text><text x="545.8" y="365.2" font-size="13" text-anchor="start">Si<tspan font-size="9.0" dx="2.5">IV</tspan></text>
<text x="117.5" y="215.3" text-anchor="middle">1160</text><text x="201.2" y="215.3" text-anchor="middle">1180</text><text x="284.8" y="215.3" text-anchor="middle">1200</text><text x="368.5" y="215.3" text-anchor="middle">1220</text><text x="452.1" y="215.3" text-anchor="middle">1240</text><text x="535.8" y="215.3" text-anchor="middle">1260</text><text x="78.8" y="436" text-anchor="middle">1300</text><text x="169.2" y="436" text-anchor="middle">1320</text><text x="259.7" y="436" text-anchor="middle">1340</text><text x="350.1" y="436" text-anchor="middle">1360</text><text x="440.6" y="436" text-anchor="middle">1380</text><text x="531.0" y="436" text-anchor="middle">1400</text><text x="33" y="202.4" text-anchor="end">0</text><text x="33" y="163.6" text-anchor="end">2</text><text x="33" y="124.8" text-anchor="end">4</text><text x="33" y="85.9" text-anchor="end">6</text><text x="33" y="47.1" text-anchor="end">8</text><text x="33" y="8.3" text-anchor="end">10</text><text x="33" y="422.2" text-anchor="end">0</text><text x="33" y="383.5" text-anchor="end">2</text><text x="33" y="344.8" text-anchor="end">4</text><text x="33" y="306.1" text-anchor="end">6</text><text x="33" y="267.4" text-anchor="end">8</text><text x="33" y="228.7" text-anchor="end">10</text>
</g>
<text x="319" y="449.6" font-size="12" text-anchor="middle">Wavelength (Å)</text>
<text transform="translate(12.7 102.9) rotate(-90)" text-anchor="middle" font-size="11.5">flux (10<tspan font-size="8" dy="-4.8">-14</tspan><tspan dy="4.8"> erg s</tspan><tspan font-size="8" dy="-4.8">-1</tspan><tspan dy="4.8"> cm</tspan><tspan font-size="8" dy="-4.8">-2</tspan><tspan dy="4.8"> Å</tspan><tspan font-size="8" dy="-4.8">-1</tspan><tspan dy="4.8">)</tspan></text>
<text transform="translate(12.7 322.0) rotate(-90)" text-anchor="middle" font-size="11.5">flux (10<tspan font-size="8" dy="-4.8">-14</tspan><tspan dy="4.8"> erg s</tspan><tspan font-size="8" dy="-4.8">-1</tspan><tspan dy="4.8"> cm</tspan><tspan font-size="8" dy="-4.8">-2</tspan><tspan dy="4.8"> Å</tspan><tspan font-size="8" dy="-4.8">-1</tspan><tspan dy="4.8">)</tspan></text>
</svg>
</body></html>
